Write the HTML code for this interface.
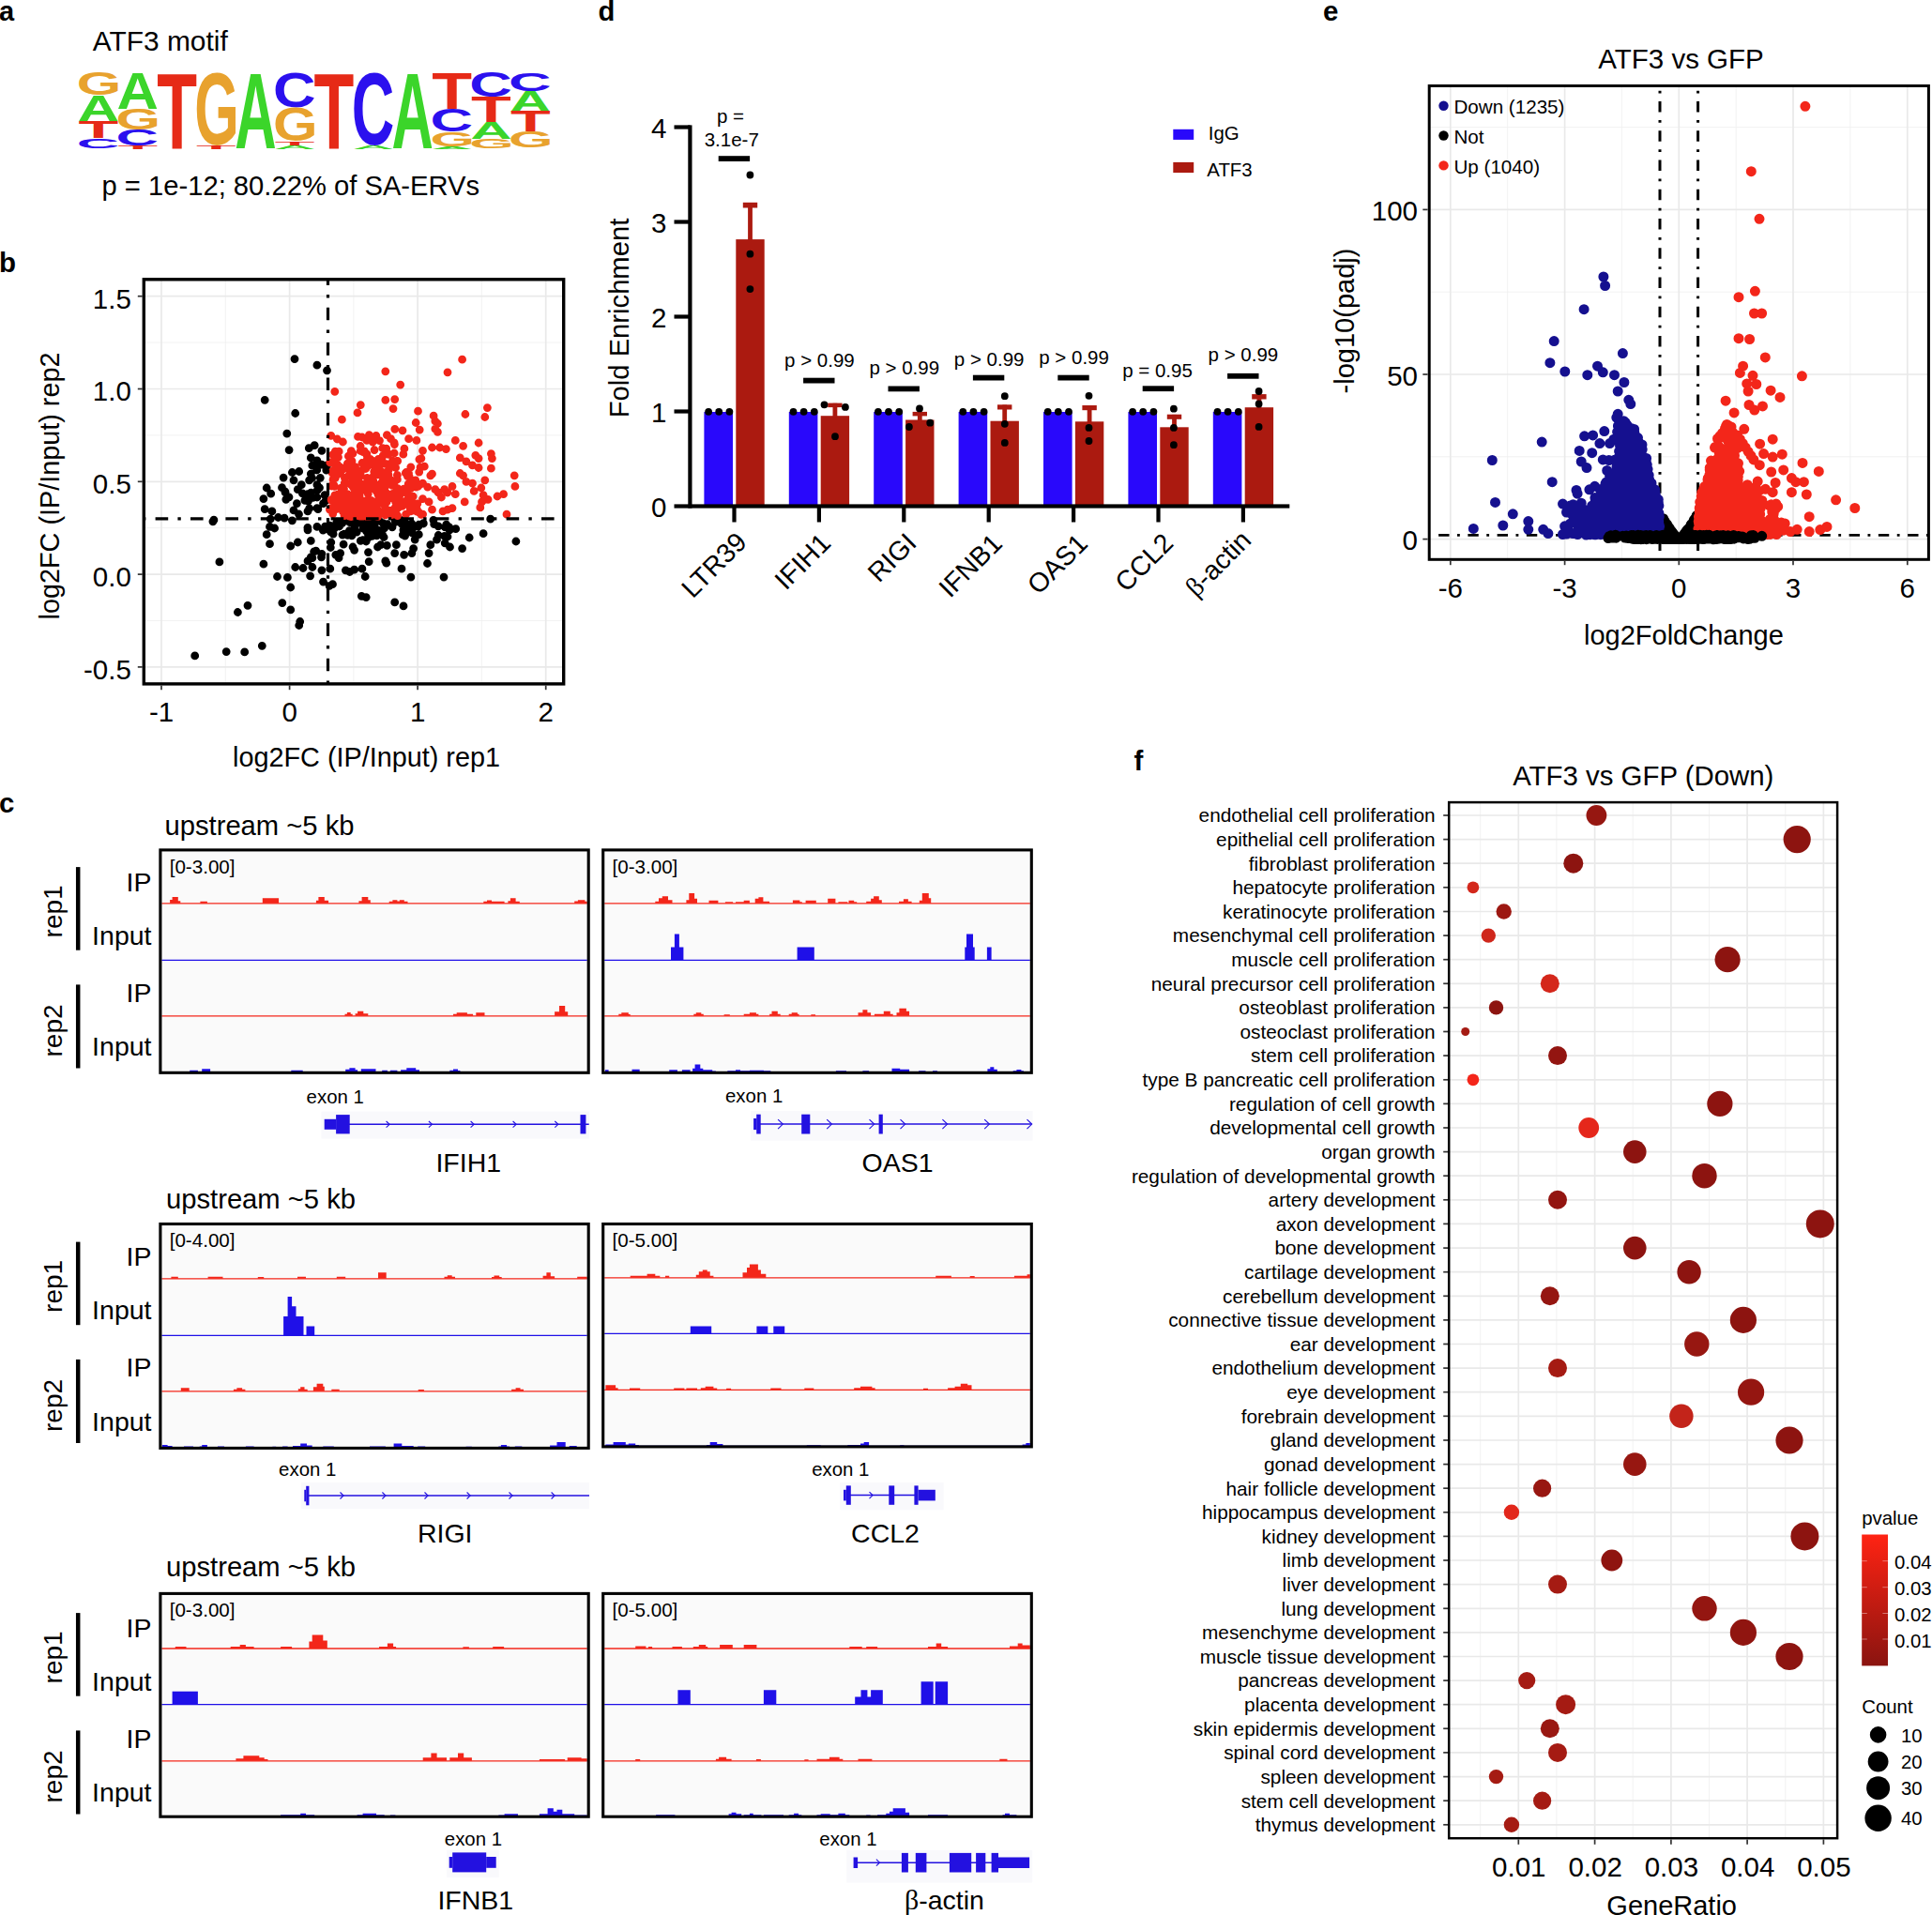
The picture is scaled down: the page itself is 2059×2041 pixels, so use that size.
<!DOCTYPE html>
<html lang="en"><head><meta charset="utf-8"><title>Figure</title>
<style>
html,body{margin:0;padding:0;background:#fff}
svg{display:block}
text{font-family:"Liberation Sans", sans-serif;}
.sf{font-family:"Liberation Serif", serif;}
</style></head><body>
<svg width="2059" height="2041" viewBox="0 0 2059 2041">
<rect width="2059" height="2041" fill="#fff"/>
<g id="panel_a">
<text x="-1" y="22" font-size="29" font-weight="bold">a</text>
<text x="98.8" y="54" font-size="29.9">ATF3 motif</text>
<text x="108.5" y="207.5" font-size="29.2">p = 1e-12; 80.22% of SA-ERVs</text>
<g font-weight="bold" font-size="100">
<text transform="matrix(0.6111 0 0 0.3438 81.8 101.4)" fill="#e8a22e">G</text>
<text transform="matrix(0.6148 0 0 0.3954 82.8 129)" fill="#3bd52a">A</text>
<text transform="matrix(0.7003 0 0 0.2622 83.5 147)" fill="#e62a17">T</text>
<text transform="matrix(0.6307 0 0 0.1496 81.7 157.5)" fill="#2b10ee">C</text>
<text transform="matrix(0.6148 0 0 0.5618 124.6 116.1)" fill="#3bd52a">A</text>
<text transform="matrix(0.6111 0 0 0.3154 123.6 138.1)" fill="#e8a22e">G</text>
<text transform="matrix(0.6307 0 0 0.2305 123.6 154.5)" fill="#2b10ee">C</text>
<text transform="matrix(0.7003 0 0 0.0541 125.4 158.5)" fill="#e62a17">T</text>
<text transform="matrix(0.7003 0 0 1.1445 167.2 157.6)" fill="#e62a17">T</text>
<text transform="matrix(0.6111 0 0 1.0919 207.3 153.7)" fill="#e8a22e">G</text>
<text transform="matrix(0.7003 0 0 0.0541 209.1 158.5)" fill="#e62a17">T</text>
<text transform="matrix(0.6148 0 0 1.1445 250.2 157.6)" fill="#3bd52a">A</text>
<text transform="matrix(0.6307 0 0 0.5257 291 114.1)" fill="#2b10ee">C</text>
<text transform="matrix(0.6111 0 0 0.5055 291 149.9)" fill="#e8a22e">G</text>
<text transform="matrix(0.7003 0 0 0.0583 292.8 154.5)" fill="#e62a17">T</text>
<text transform="matrix(0.6148 0 0 0.0583 292 158.5)" fill="#3bd52a">A</text>
<text transform="matrix(0.7003 0 0 1.1445 334.6 157.6)" fill="#e62a17">T</text>
<text transform="matrix(0.6307 0 0 1.0919 374.7 153.7)" fill="#2b10ee">C</text>
<text transform="matrix(0.6148 0 0 0.0541 375.7 158.5)" fill="#3bd52a">A</text>
<text transform="matrix(0.6148 0 0 1.1445 417.6 157.6)" fill="#3bd52a">A</text>
<text transform="matrix(0.7003 0 0 0.5535 460.2 116.1)" fill="#e62a17">T</text>
<text transform="matrix(0.6307 0 0 0.3438 458.4 140.1)" fill="#2b10ee">C</text>
<text transform="matrix(0.6111 0 0 0.2224 458.4 156)" fill="#e8a22e">G</text>
<text transform="matrix(0.6148 0 0 0.0375 459.4 158.8)" fill="#3bd52a">A</text>
<text transform="matrix(0.6307 0 0 0.3640 500.2 102.8)" fill="#2b10ee">C</text>
<text transform="matrix(0.7003 0 0 0.3954 502 130.4)" fill="#e62a17">T</text>
<text transform="matrix(0.6148 0 0 0.2497 501.3 147.6)" fill="#3bd52a">A</text>
<text transform="matrix(0.6111 0 0 0.1496 500.3 158)" fill="#e8a22e">G</text>
<text transform="matrix(0.6307 0 0 0.2831 542.1 97.2)" fill="#2b10ee">C</text>
<text transform="matrix(0.6148 0 0 0.3121 543.1 119)" fill="#3bd52a">A</text>
<text transform="matrix(0.7003 0 0 0.3121 543.9 140.4)" fill="#e62a17">T</text>
<text transform="matrix(0.6111 0 0 0.2427 542.1 157.4)" fill="#e8a22e">G</text>
</g>
</g>
<g id="panel_b">
<text x="-1" y="290.3" font-size="29.5" font-weight="bold">b</text>
<line x1="240.3" y1="297.8" x2="240.3" y2="728.9" stroke="#f0f0f0" stroke-width="0.9"/>
<line x1="376.9" y1="297.8" x2="376.9" y2="728.9" stroke="#f0f0f0" stroke-width="0.9"/>
<line x1="513.4" y1="297.8" x2="513.4" y2="728.9" stroke="#f0f0f0" stroke-width="0.9"/>
<line x1="153.3" y1="661.5" x2="600.7" y2="661.5" stroke="#f0f0f0" stroke-width="0.9"/>
<line x1="153.3" y1="562.7" x2="600.7" y2="562.7" stroke="#f0f0f0" stroke-width="0.9"/>
<line x1="153.3" y1="463.9" x2="600.7" y2="463.9" stroke="#f0f0f0" stroke-width="0.9"/>
<line x1="153.3" y1="365.1" x2="600.7" y2="365.1" stroke="#f0f0f0" stroke-width="0.9"/>
<line x1="172" y1="297.8" x2="172" y2="728.9" stroke="#e9e9e9" stroke-width="1.7"/>
<line x1="308.6" y1="297.8" x2="308.6" y2="728.9" stroke="#e9e9e9" stroke-width="1.7"/>
<line x1="445.1" y1="297.8" x2="445.1" y2="728.9" stroke="#e9e9e9" stroke-width="1.7"/>
<line x1="581.7" y1="297.8" x2="581.7" y2="728.9" stroke="#e9e9e9" stroke-width="1.7"/>
<line x1="153.3" y1="710.9" x2="600.7" y2="710.9" stroke="#e9e9e9" stroke-width="1.7"/>
<line x1="153.3" y1="612.1" x2="600.7" y2="612.1" stroke="#e9e9e9" stroke-width="1.7"/>
<line x1="153.3" y1="513.3" x2="600.7" y2="513.3" stroke="#e9e9e9" stroke-width="1.7"/>
<line x1="153.3" y1="414.5" x2="600.7" y2="414.5" stroke="#e9e9e9" stroke-width="1.7"/>
<line x1="153.3" y1="315.7" x2="600.7" y2="315.7" stroke="#e9e9e9" stroke-width="1.7"/>
<path d="M314 382.6h0M337.9 389.2h0M348.5 394.8h0M282.2 426.3h0M314.7 440.5h0M305.8 462.1h0M308.1 479.6h0M335.2 474.7h0M342.9 480.3h0M331.3 487.9h0M337.9 490.9h0M342.9 495.2h0M348.5 495.9h0M311.4 503.5h0M318.7 502.5h0M331.3 505.1h0M302.1 509.1h0M313 511.8h0M329.6 511.8h0M347.8 501.2h0M284.2 520h0M321.3 516.7h0M337.9 516.7h0M304.1 525h0M317.3 521.7h0M328 526.7h0M337.9 530h0M280.9 531.6h0M304.8 532.3h0M316.4 536.6h0M344.5 536.6h0M282.2 542.6h0M289.9 544.9h0M313 543.9h0M328 544.9h0M337.9 541.6h0M227.9 554.2h0M226.9 555.8h0M288.2 553.2h0M296.5 551.5h0M303.1 552.2h0M311.4 554.8h0M287.5 561.4h0M328 564.8h0M337.9 561.4h0M284.2 569.7h0M331.3 576.4h0M287.5 579.7h0M309.7 582h0M317.3 578h0M233.9 598.9h0M280.9 601.2h0M295.5 614.5h0M306.4 615.4h0M309.7 626h0M300.8 642.6h0M309.7 649.9h0M264 645.3h0M253.4 652.5h0M319.7 662.5h0M318.7 666.5h0M279.3 688.3h0M260.7 694.9h0M241.2 694.6h0M207.7 698.9h0M549.9 577h0M515.1 568.7h0M522.7 553.2h0M500.2 573h0M492.6 584.6h0M473.7 571.4h0M477 572h0M473 615.1h0M458.8 580.7h0M457.1 589.6h0M455.5 600.5h0M437.9 615.1h0M430 645.9h0M420.7 641.9h0M390.2 636.6h0M385.3 635.3h0M389.2 614.5h0M385.9 606.2h0M377.6 607.2h0M368.4 607.8h0M372.7 609.5h0M354.5 622.7h0M344.5 620.1h0M351.8 606.2h0M332.9 604.5h0M323 605.5h0M314.7 604.5h0M330.6 613.8h0M328 597.9h0M334.6 588h0M342.9 590.3h0M357.8 591.3h0M362.7 589.6h0M361.1 594.6h0M376 583h0M377.6 586.3h0M392.5 588.6h0M393.2 598.6h0M410.8 597.9h0M411.8 600.2h0M420.7 589.6h0M430.6 591.3h0M438.9 589.6h0M440.6 584.6h0M428 606.2h0M402.5 583h0M405.8 580.7h0M412.4 581.3h0M422.4 580.7h0M384.3 576.4h0M390.2 577h0M352.8 578h0M331.3 593.9h0M332.9 594.6h0M342.9 607.8h0M351.1 624.4h0M365 556.3h0M387 557.2h0M401.5 565.1h0M358.8 556.5h0M434.2 559.3h0M446.6 559.2h0M390.2 557.1h0M461.9 554.3h0M361.6 561h0M409.1 572.5h0M387.7 557.5h0M370.6 555h0M393.3 559.5h0M380.2 567.1h0M421.1 554.3h0M439.2 568h0M379 559.2h0M427.1 554.5h0M399.6 569.5h0M408.2 557.7h0M462.7 558.7h0M396.3 567.6h0M446.3 569.7h0M421.4 556.4h0M451.3 557.7h0M418 561.8h0M396.8 556.5h0M428.2 558.5h0M374.9 570.9h0M395.6 567.7h0M440 563h0M392.1 573.5h0M440.1 559.8h0M373.3 555.4h0M399.2 561h0M392.5 558.3h0M407.5 569.7h0M412.8 558.6h0M355.1 569.1h0M479.2 565h0M390.4 566.1h0M356.4 563.1h0M366.2 555.7h0M365 556.8h0M386.8 575.7h0M364.8 557.3h0M385.1 557.5h0M451.3 558h0M399.1 558.1h0M376.7 556.4h0M366.1 580.2h0M364.6 557.7h0M352.3 583.5h0M475.7 559.1h0M387.1 563.1h0M429.3 570h0M372.4 565.7h0M479.5 583h0M425.3 555.7h0M352.5 566.8h0M378.2 554.8h0M467.2 570.5h0M485.7 563.7h0M372.8 556.7h0M370.5 570.4h0M398.7 570.2h0M431.4 567.6h0M478.7 561.9h0M398.5 562.1h0M431.6 571.1h0M465.5 575.2h0M367 569.1h0M365 570.1h0M434.2 564.9h0M474.4 561.9h0M351 564.9h0M474.2 578.8h0M438.8 558h0M371.2 553.9h0M409.6 562.9h0M392.5 570h0M396.5 571.3h0M442.2 575.1h0M404 565.4h0M351.5 560.2h0M431.4 556.3h0M398 556h0M402.6 567.5h0M429.9 564.8h0M377.9 562.4h0M401.5 570.8h0M467.1 560.8h0M401.3 570.5h0M404.2 555.1h0M446 560.8h0M303.8 523.8h0M342.5 593.8h0M328.5 534.1h0M338.2 522.5h0M331.5 525.2h0M341.3 509.3h0M333.5 530.3h0M300.5 519.7h0M318.5 548h0M338 495h0M308 529.8h0M292.6 563h0M332.8 496.2h0M346.1 527.7h0M327.9 562.4h0M346.8 534h0M329.7 541.8h0M344.3 565.1h0M340.5 519.8h0M346.5 561.2h0M329.3 477.7h0M322.4 525.9h0M288.7 526.2h0M337.7 501h0M338.9 542.6h0M336.7 587.1h0M324.9 533.3h0M332.6 509.5h0" stroke="#000" stroke-width="8.8" stroke-linecap="round" fill="none"/>
<path d="M492.6 383.2h0M477 396.8h0M410.8 395.8h0M426.7 410.1h0M356.8 417.3h0M410.8 426.3h0M420.7 425.6h0M384.3 431.6h0M381 439.9h0M419 435.6h0M445.5 438.2h0M364.4 447.2h0M519.4 434.6h0M516.8 444.5h0M495.9 441.5h0M462.1 443.2h0M463.8 448.8h0M466.4 451.5h0M463.8 457.1h0M466.4 460.4h0M443.2 450.5h0M447.2 458.1h0M429 458.8h0M548.2 506.8h0M548.9 518.4h0M540 548.2h0M536.6 526.7h0M530 529h0M523.4 483.6h0M524.4 488.6h0M510.1 472h0M485.3 469.4h0M493.6 475.3h0M352.8 464.4h0M359.4 468h0M365.4 471h0M400.8 464.4h0M412.4 463.7h0M385.9 466h0M390.9 469.4h0M435.6 467.7h0M443.9 469.4h0M460.5 477h0M468.7 477h0M475.4 478.6h0M450.5 480.3h0M448.9 488.6h0M506.8 485.3h0M510.1 488.6h0M490.3 487.9h0M496.9 491.9h0M503.5 495.9h0M510.1 498.5h0M523.4 499.2h0M516.8 511.8h0M512.8 520h0M490.3 504.5h0M493.6 506.8h0M496.9 513.4h0M503.5 515.1h0M505.2 523.4h0M515.1 527.7h0M513.5 534.9h0M520.1 532.3h0M511.8 540.9h0M495.2 534.9h0M477 525h0M482 518.4h0M485.3 526.7h0M473.7 521.7h0M467.1 525h0M470.4 530h0M463.8 521.7h0M460.5 505.1h0M458.8 506.8h0M450.5 515.1h0M445.5 518.4h0M477 543.2h0M482 541.6h0M472 544.9h0M460.5 543.2h0M457.1 534.9h0M450.5 531.6h0M440.6 536.6h0M389.3 546.8h0M390 522.6h0M375.9 539.6h0M380.7 545.2h0M403.3 489.4h0M421.4 540.7h0M368.3 515.2h0M393.4 463.7h0M417.5 548.7h0M375.7 510.1h0M374 549h0M366.2 499.4h0M438.7 544.3h0M408.2 485.7h0M356.2 503.8h0M376.9 545.3h0M356.2 510h0M446.9 489.6h0M390.5 546.5h0M374.9 550.4h0M374.2 550.6h0M400.5 538.1h0M375.2 542.1h0M390.9 483.9h0M408.6 503.7h0M385.3 539h0M416.3 511.7h0M384.5 517.5h0M359 531.6h0M357.3 481.2h0M388.3 480.8h0M368.1 544.7h0M406.2 515h0M401.7 491.4h0M389.8 499.5h0M379.7 540.6h0M381.9 549.6h0M437.8 497.8h0M386.6 545.7h0M375 491.4h0M387.6 550h0M391.3 509.5h0M418.4 526.3h0M358.7 482.6h0M357.8 540.1h0M408.2 522.3h0M401.4 502.6h0M375.6 536.4h0M369 537.6h0M399.5 537.7h0M352.4 541.8h0M379.3 537.6h0M392.4 541.1h0M372.3 550.2h0M391 549.9h0M365.5 542h0M356.5 518.3h0M372.3 546.1h0M355.6 509.3h0M393.6 548.7h0M423.7 491.3h0M361.7 503.9h0M371.4 486.2h0M376.2 546.1h0M372 543.9h0M396.7 509h0M360 527.4h0M402.7 505.8h0M444.9 536.8h0M395.5 533.3h0M354.7 484.6h0M391.6 496.9h0M432.6 548.2h0M410.6 548.8h0M351.8 493h0M372.3 505.5h0M437 540.8h0M435.2 515.9h0M381 525.5h0M410.2 538.9h0M399.6 543.6h0M450.6 548.1h0M399 479.6h0M386.1 547.9h0M381.5 465.4h0M420.5 513.4h0M368.9 526.7h0M405.4 503.7h0M406 525.9h0M411.7 478.1h0M444.4 542.9h0M380.3 507.3h0M387 481.6h0M367 534h0M434.8 527.1h0M376.1 518h0M421.8 547.2h0M413 513.9h0M360.5 487.3h0M397.9 512.9h0M411.1 494.3h0M400 549.3h0M404.3 531.1h0M357.3 509.4h0M366.6 524.3h0M390.7 550.3h0M384.1 475.5h0M430.9 478.2h0M382.7 541.8h0M389.3 538.1h0M387.7 534.8h0M394.1 464.7h0M382.9 531.8h0M353.8 532.3h0M426.7 526.7h0M376.1 518.7h0M421.6 534.7h0M379.9 512h0M401.3 517.8h0M384.9 501.7h0M373.9 529.6h0M353.1 532.7h0M354.7 547.6h0M355 511.2h0M438.7 511.9h0M404.4 494.6h0M377.6 528.9h0M355.8 535h0M398.7 502.7h0M452.3 497.2h0M420.3 528.6h0M367.4 509.5h0M359.8 505.7h0M376.3 499.2h0M403.5 548.3h0M442.8 511.9h0M435 537.9h0M415 545.1h0M414.1 501h0M436.2 533.1h0M365.6 545.4h0M448.8 548.3h0M384.2 480.5h0M403.3 532.6h0M400 499.6h0M383.9 546.8h0M367.6 543.8h0M421.9 524.9h0M389.8 497.6h0M393.6 550.3h0M356.8 527.9h0M358.7 501.4h0M367 549.6h0M411.9 525.5h0M357.6 540.6h0M371.3 533.7h0M401.5 542.7h0M406 534.6h0M396.1 518.9h0M412.1 535h0M430.4 521.2h0M355 501.5h0M385.8 516.2h0M446.7 503.1h0M423.2 491.4h0M373.9 528.1h0M399.1 505.5h0M391.4 497h0M378.1 520.5h0M423.8 520.7h0M377.3 526.4h0M398.4 491.7h0M374.3 542.4h0M406.9 489.2h0M374.9 540.8h0M365.7 534.3h0M402.5 550.7h0M411.6 532.4h0M433.3 520.9h0M437.8 544.9h0M436.1 507.7h0M375.6 504.8h0M381.5 529.8h0M399.3 496.1h0M407.7 477.6h0M363.6 524.7h0M372.1 531.4h0M379.1 504.6h0M382.7 506.4h0M415.9 513.9h0M412.2 543.6h0M415.2 494.9h0M405.5 545.8h0M377.5 548.7h0M420.4 473.6h0M372 542.1h0M432.8 503.5h0M359.6 495.1h0M440.1 514.4h0M432.3 504.2h0M373.5 496h0M385.4 539.8h0M368.4 514.7h0M424.1 541.4h0M391.3 489.5h0M361.2 481.2h0M437.6 520.6h0M378.5 497.6h0M390.1 517.8h0M410 530.6h0M374 534.3h0M362.7 498h0M420.1 471.9h0M391 485.2h0M374 516.3h0M405 501.8h0M388 541.4h0M437.2 541.8h0M376 483.3h0M411.4 480.7h0M433.3 533.7h0M385.9 493.5h0M421.6 498.4h0M370.3 494.2h0M401.3 550.1h0M427 533.6h0M373.1 502.2h0M435.5 504.4h0M440.2 529.1h0M383.5 550.1h0M416.5 467.7h0M413.3 483.1h0M361.9 531h0M392.3 526.3h0M407.1 533.1h0M446.2 545.8h0M407.4 494.2h0M366.5 521.1h0M394.6 489.4h0M400 546.6h0M360.1 527h0M416.4 544.1h0M360.7 529.1h0M363.6 520.1h0M360.1 533.7h0M365 499.1h0M364.2 501.3h0M397 535.7h0M374.3 480.7h0M413.6 528.5h0M367.1 515.2h0M392.7 546.5h0M410.4 523.5h0M393.2 520.1h0M423.4 506.4h0M418.4 491.4h0M351.4 543.1h0M414 506.1h0M387.3 520.1h0M372.3 538.8h0M434.6 521.1h0M399.4 497.3h0M411.2 517.6h0M414.1 484.4h0M429.8 484.2h0M378.1 519.3h0M397.2 471.1h0M394.9 521h0M418.2 516h0M395.3 467.6h0M447.7 516.5h0M353.4 533.4h0M353.3 518h0M443.3 519.1h0M390.6 517.1h0M357.1 499.5h0M428.4 538.8h0M389.4 533.9h0M379.8 520h0M408.2 504.1h0M448 498.2h0M438.6 536.1h0M394.3 517.4h0M376.6 519.6h0M368.9 539h0M434.4 507.6h0M428.7 539.4h0M389.7 534.6h0M353.8 503.6h0M418.1 517.4h0M423.1 524.6h0M407.4 507.8h0M383.5 508h0M358.9 542.5h0M402.9 527.1h0M393.3 518.9h0M420.2 483h0M420.8 457.3h0M417 530.5h0M357.5 489.8h0M364.9 539.9h0M413.5 502.1h0M366.7 545h0M377.4 509.9h0M355.8 516.9h0M364.3 532.6h0M378.2 534.7h0M374.3 536.9h0M402.8 500.6h0M410.3 524.6h0M368 528.1h0M383.2 526.6h0M400.6 547.9h0M423.4 511h0M407.4 520.9h0M401.2 523.6h0M404.5 469.6h0M384.2 505.2h0M360 502.5h0M455.7 519.1h0M444.2 545.2h0M402.9 543.8h0M383.1 528.7h0M402.9 533.8h0M379.2 524.8h0M370.4 526.6h0M385.9 550.2h0M402 538.1h0M368.7 498.4h0M423.7 549.7h0" stroke="#f3261a" stroke-width="8.8" stroke-linecap="round" fill="none"/>
<line x1="349.5" y1="728.9" x2="349.5" y2="297.8" stroke="#000" stroke-width="3.2" stroke-dasharray="3.4 10.2 13.6 10.2"/>
<line x1="152" y1="552.8" x2="600.7" y2="552.8" stroke="#000" stroke-width="3.2" stroke-dasharray="3.4 10.2 13.6 10.2"/>
<rect x="153.3" y="297.8" width="447.4" height="431.1" fill="none" stroke="#000" stroke-width="3.4"/>
<line x1="146.8" y1="710.9" x2="151.8" y2="710.9" stroke="#333" stroke-width="1.7"/>
<text x="139.8" y="723.7" font-size="29.5" text-anchor="end">-0.5</text>
<line x1="146.8" y1="612.1" x2="151.8" y2="612.1" stroke="#333" stroke-width="1.7"/>
<text x="139.8" y="624.9" font-size="29.5" text-anchor="end">0.0</text>
<line x1="146.8" y1="513.3" x2="151.8" y2="513.3" stroke="#333" stroke-width="1.7"/>
<text x="139.8" y="526.1" font-size="29.5" text-anchor="end">0.5</text>
<line x1="146.8" y1="414.5" x2="151.8" y2="414.5" stroke="#333" stroke-width="1.7"/>
<text x="139.8" y="427.3" font-size="29.5" text-anchor="end">1.0</text>
<line x1="146.8" y1="315.7" x2="151.8" y2="315.7" stroke="#333" stroke-width="1.7"/>
<text x="139.8" y="328.5" font-size="29.5" text-anchor="end">1.5</text>
<line x1="172" y1="730.4" x2="172" y2="735.2" stroke="#333" stroke-width="1.7"/>
<text x="172" y="769" font-size="29.5" text-anchor="middle">-1</text>
<line x1="308.6" y1="730.4" x2="308.6" y2="735.2" stroke="#333" stroke-width="1.7"/>
<text x="308.6" y="769" font-size="29.5" text-anchor="middle">0</text>
<line x1="445.1" y1="730.4" x2="445.1" y2="735.2" stroke="#333" stroke-width="1.7"/>
<text x="445.1" y="769" font-size="29.5" text-anchor="middle">1</text>
<line x1="581.7" y1="730.4" x2="581.7" y2="735.2" stroke="#333" stroke-width="1.7"/>
<text x="581.7" y="769" font-size="29.5" text-anchor="middle">2</text>
<text x="390.5" y="817.3" font-size="28.8" text-anchor="middle">log2FC (IP/Input) rep1</text>
<text font-size="28.8" text-anchor="middle" transform="translate(62.8,518) rotate(-90)">log2FC (IP/Input) rep2</text>
</g>
<g id="panel_c">
<text x="-1" y="866" font-size="29.5" font-weight="bold">c</text>
<text x="175.5" y="889.7" font-size="29.2">upstream ~5 kb</text>
<line x1="83.2" y1="924.1" x2="83.2" y2="1012.7" stroke="#000" stroke-width="4.5"/>
<line x1="83.2" y1="1049.4" x2="83.2" y2="1138.5" stroke="#000" stroke-width="4.5"/>
<text font-size="28" text-anchor="middle" transform="translate(66,971.4) rotate(-90)">rep1</text>
<text font-size="28" text-anchor="middle" transform="translate(66,1098.5) rotate(-90)">rep2</text>
<text x="161.5" y="949.6" font-size="28.5" text-anchor="end">IP</text>
<text x="161.5" y="1006.7" font-size="28.5" text-anchor="end">Input</text>
<text x="161.5" y="1067.7" font-size="28.5" text-anchor="end">IP</text>
<text x="161.5" y="1125.2" font-size="28.5" text-anchor="end">Input</text>
<rect x="170.9" y="905.9" width="456.3" height="237.4" fill="#fafafa"/>
<path d="M181.1 962.8V959.1H183.6V962.8zM183.6 962.8V956.1H189.8V962.8zM189.8 962.8V960.3H192.3V962.8zM213.4 962.8V960.8H220.9V962.8zM279.8 962.8V957.3H297.1V962.8zM336.9 962.8V959.8H339.4V962.8zM339.4 962.8V956.1H345.8V962.8zM345.8 962.8V959.8H350.1V962.8zM382.4 962.8V960.3H385.6V962.8zM385.6 962.8V956.1H392.3V962.8zM392.3 962.8V959.3H394.8V962.8zM414.7 962.8V960.8H418.4V962.8zM418.4 962.8V959.3H423.4V962.8zM423.4 962.8V960.6H425.8V962.8zM425.8 962.8V959.3H430.8V962.8zM430.8 962.8V960.8H434.5V962.8zM515.3 962.8V960.8H519V962.8zM519 962.8V959.6H524V962.8zM524 962.8V960.8H537.6V962.8zM541.4 962.8V960.3H543.9V962.8zM543.9 962.8V957.3H549.6V962.8zM549.6 962.8V960.8H553.8V962.8zM612.2 962.8V960.6H615.9V962.8zM615.9 962.8V959.3H623.4V962.8zM623.4 962.8V960.8H625.7V962.8z" fill="#f3261a"/>
<line x1="172.4" y1="962.8" x2="625.7" y2="962.8" stroke="#f3261a" stroke-width="1.3"/>
<line x1="172.4" y1="1023.4" x2="625.7" y2="1023.4" stroke="#1f10e8" stroke-width="1.3"/>
<path d="M367.5 1082.8V1080.8H369.9V1082.8zM369.9 1082.8V1079.1H373.7V1082.8zM373.7 1082.8V1080.8H375.7V1082.8zM378.6 1082.8V1080.3H381.1V1082.8zM381.1 1082.8V1077.8H387.3V1082.8zM387.3 1082.8V1080.3H392.3V1082.8zM483 1082.8V1080.8H486.7V1082.8zM486.7 1082.8V1079.3H497.9V1082.8zM497.9 1082.8V1080.8H504.1V1082.8zM507.3 1082.8V1079.3H516.5V1082.8zM591.1 1082.8V1078.3H596V1082.8zM596 1082.8V1072.1H602.2V1082.8zM602.2 1082.8V1078.3H605.2V1082.8z" fill="#f3261a"/>
<line x1="172.4" y1="1082.8" x2="625.7" y2="1082.8" stroke="#f3261a" stroke-width="1.3"/>
<path d="M202.2 1142.8V1140.8H210.9V1142.8zM215.2 1142.8V1139.3H224.1V1142.8zM310.3 1142.8V1140.8H322.7V1142.8zM368.2 1142.8V1139.8H372.4V1142.8zM372.4 1142.8V1138.3H378.6V1142.8zM378.6 1142.8V1140.3H381.1V1142.8zM384.8 1142.8V1139.3H400.5V1142.8zM407.2 1142.8V1140.8H412.9V1142.8zM415.9 1142.8V1140.8H423.4V1142.8zM427.1 1142.8V1140.3H433.3V1142.8zM433.3 1142.8V1138.3H443.2V1142.8zM443.2 1142.8V1140.3H447V1142.8zM479.3 1142.8V1140.8H483V1142.8zM483 1142.8V1139.6H488V1142.8zM488 1142.8V1141.1H490.4V1142.8z" fill="#1f10e8"/>
<line x1="172.4" y1="1142.8" x2="625.7" y2="1142.8" stroke="#1f10e8" stroke-width="1.3"/>
<rect x="170.9" y="905.9" width="456.3" height="237.4" fill="none" stroke="#000" stroke-width="3.1"/>
<text x="180.7" y="930.5" font-size="20.6">[0-3.00]</text>
<rect x="642.7" y="905.9" width="456.6" height="237.4" fill="#fafafa"/>
<path d="M698.3 962.8V960.8H702V962.8zM702 962.8V957.3H705.8V962.8zM705.8 962.8V955.3H712V962.8zM712 962.8V959.3H716.5V962.8zM731.4 962.8V959.3H734.3V962.8zM734.3 962.8V952.1H740.1V962.8zM740.1 962.8V957.8H743V962.8zM755.5 962.8V959.8H765.4V962.8zM772.9 962.8V961.3H781.1V962.8zM784 962.8V961.3H792.7V962.8zM792.7 962.8V959.8H798.9V962.8zM804.7 962.8V957.8H808.4V962.8zM808.4 962.8V956.3H813.4V962.8zM813.4 962.8V960.8H820.1V962.8zM844.9 962.8V959.6H852.4V962.8zM852.4 962.8V961.3H854.8V962.8zM858.6 962.8V959.8H869.8V962.8zM882.2 962.8V957.8H890.4V962.8zM893.4 962.8V961.3H903.3V962.8zM904.5 962.8V959.8H910.2V962.8zM910.2 962.8V961.3H913.2V962.8zM923.2 962.8V960.8H928.1V962.8zM928.1 962.8V957.8H931.1V962.8zM931.1 962.8V955.3H936.8V962.8zM936.8 962.8V959.3H939.8V962.8zM958 962.8V960.8H962.9V962.8zM962.9 962.8V958.3H967.9V962.8zM967.9 962.8V960.8H971.6V962.8zM979.8 962.8V959.8H982.8V962.8zM982.8 962.8V952.1H989.8V962.8zM989.8 962.8V957.3H992.2V962.8z" fill="#f3261a"/>
<line x1="644.2" y1="962.8" x2="1097.8" y2="962.8" stroke="#f3261a" stroke-width="1.3"/>
<path d="M715 1023.4V1009.5H718.9V1023.4zM718.9 1023.4V995.6H723.9V1023.4zM723.9 1023.4V1009.5H728.4V1023.4zM849.6 1023.4V1009.5H867.8V1023.4zM1028.3 1023.4V1009.5H1030V1023.4zM1030 1023.4V995.6H1037V1023.4zM1037 1023.4V1009.5H1038.7V1023.4zM1051.9 1023.4V1009.5H1056.6V1023.4z" fill="#1f10e8"/>
<line x1="644.2" y1="1023.4" x2="1097.8" y2="1023.4" stroke="#1f10e8" stroke-width="1.3"/>
<path d="M659.3 1082.8V1080.8H662.3V1082.8zM662.3 1082.8V1079.3H669.8V1082.8zM669.8 1082.8V1081.1H671.7V1082.8zM739.3 1082.8V1080.8H741.8V1082.8zM741.8 1082.8V1079.3H747.3V1082.8zM747.3 1082.8V1080.8H749.8V1082.8zM771.6 1082.8V1081.3H777.8V1082.8zM792.7 1082.8V1080.8H798.9V1082.8zM798.9 1082.8V1079.3H805.9V1082.8zM805.9 1082.8V1080.8H808.4V1082.8zM820.1 1082.8V1080.8H822.5V1082.8zM822.5 1082.8V1077.8H828.8V1082.8zM828.8 1082.8V1080.8H831.7V1082.8zM840.7 1082.8V1080.8H843.7V1082.8zM843.7 1082.8V1079.3H849.9V1082.8zM849.9 1082.8V1080.8H851.6V1082.8zM864.3 1082.8V1081.3H869V1082.8zM914.5 1082.8V1079.3H919.4V1082.8zM919.4 1082.8V1076.3H924.4V1082.8zM924.4 1082.8V1079.3H928.1V1082.8zM931.9 1082.8V1080.8H941.8V1082.8zM941.8 1082.8V1077.8H948.8V1082.8zM948.8 1082.8V1080.8H951.7V1082.8zM955.5 1082.8V1079.3H958.4V1082.8zM958.4 1082.8V1074.8H965.9V1082.8zM965.9 1082.8V1077.8H969.1V1082.8z" fill="#f3261a"/>
<line x1="644.2" y1="1082.8" x2="1097.8" y2="1082.8" stroke="#f3261a" stroke-width="1.3"/>
<path d="M644.9 1142.8V1140.3H648.6V1142.8zM673.5 1142.8V1139.8H681.7V1142.8zM713.2 1142.8V1140.3H721.9V1142.8zM726.9 1142.8V1140.3H735.6V1142.8zM738.1 1142.8V1138.8H740.6V1142.8zM740.6 1142.8V1134.4H746.3V1142.8zM746.3 1142.8V1138.8H749.3V1142.8zM749.3 1142.8V1140.3H759.2V1142.8zM759.2 1142.8V1141.6H762.9V1142.8zM775.3 1142.8V1141.3H784V1142.8zM784 1142.8V1140.3H789V1142.8zM789 1142.8V1141.3H798.9V1142.8zM798.9 1142.8V1140.8H813.9V1142.8zM813.9 1142.8V1141.3H821.3V1142.8zM890.9 1142.8V1141.3H902V1142.8zM919.4 1142.8V1141.3H926.1V1142.8zM950.5 1142.8V1138.8H959.2V1142.8zM959.2 1142.8V1139.8H969.1V1142.8zM979.1 1142.8V1141.3H986.5V1142.8zM994 1142.8V1141.3H998.9V1142.8zM1052.4 1142.8V1139.3H1055.3V1142.8zM1055.3 1142.8V1137.3H1059.3V1142.8zM1059.3 1142.8V1139.8H1062.8V1142.8zM1079.7 1142.8V1141.3H1083.4V1142.8zM1083.4 1142.8V1140.1H1088.4V1142.8zM1088.4 1142.8V1141.3H1090.9V1142.8z" fill="#1f10e8"/>
<line x1="644.2" y1="1142.8" x2="1097.8" y2="1142.8" stroke="#1f10e8" stroke-width="1.3"/>
<rect x="642.7" y="905.9" width="456.6" height="237.4" fill="none" stroke="#000" stroke-width="3.1"/>
<text x="652.5" y="930.5" font-size="20.6">[0-3.00]</text>
<rect x="342.4" y="1184.7" width="285.6" height="29" fill="#f9f9fc"/>
<line x1="372" y1="1198.3" x2="627.7" y2="1198.3" stroke="#2311e0" stroke-width="1.5"/>
<path d="M411.6 1195L415.2 1198.3L411.6 1201.6" fill="none" stroke="#2311e0" stroke-width="1.1"/>
<path d="M456.9 1195L460.5 1198.3L456.9 1201.6" fill="none" stroke="#2311e0" stroke-width="1.1"/>
<path d="M501.6 1195L505.2 1198.3L501.6 1201.6" fill="none" stroke="#2311e0" stroke-width="1.1"/>
<path d="M546.6 1195L550.2 1198.3L546.6 1201.6" fill="none" stroke="#2311e0" stroke-width="1.1"/>
<path d="M591.3 1195L594.9 1198.3L591.3 1201.6" fill="none" stroke="#2311e0" stroke-width="1.1"/>
<rect x="358.1" y="1188.1" width="14.6" height="20.3" fill="#2311e0"/>
<rect x="618.5" y="1188.1" width="5.9" height="20.3" fill="#2311e0"/>
<rect x="345.7" y="1192.8" width="12.4" height="11" fill="#2311e0"/>
<text x="326.6" y="1175.6" font-size="20.4">exon 1</text>
<text x="499.3" y="1249" font-size="28.5" text-anchor="middle">IFIH1</text>
<rect x="799.9" y="1184" width="300.7" height="31.7" fill="#f9f9fc"/>
<line x1="810" y1="1198.1" x2="1099.5" y2="1198.1" stroke="#2311e0" stroke-width="1.5"/>
<path d="M829.1 1193.1L834.3 1198.1L829.1 1203.1" fill="none" stroke="#2311e0" stroke-width="1.1"/>
<path d="M881.2 1193.1L886.4 1198.1L881.2 1203.1" fill="none" stroke="#2311e0" stroke-width="1.1"/>
<path d="M926.5 1193.1L931.7 1198.1L926.5 1203.1" fill="none" stroke="#2311e0" stroke-width="1.1"/>
<path d="M959.5 1193.1L964.7 1198.1L959.5 1203.1" fill="none" stroke="#2311e0" stroke-width="1.1"/>
<path d="M1004.4 1193.1L1009.6 1198.1L1004.4 1203.1" fill="none" stroke="#2311e0" stroke-width="1.1"/>
<path d="M1049.2 1193.1L1054.4 1198.1L1049.2 1203.1" fill="none" stroke="#2311e0" stroke-width="1.1"/>
<path d="M1094.5 1193.1L1099.7 1198.1L1094.5 1203.1" fill="none" stroke="#2311e0" stroke-width="1.1"/>
<rect x="806.2" y="1187.7" width="4.5" height="20.8" fill="#2311e0"/>
<rect x="854.2" y="1187.7" width="9.1" height="20.8" fill="#2311e0"/>
<rect x="936.6" y="1187.7" width="4.2" height="20.8" fill="#2311e0"/>
<rect x="803.1" y="1192" width="3.1" height="12.1" fill="#2311e0"/>
<text x="773" y="1175.4" font-size="20.4">exon 1</text>
<text x="956.5" y="1249.2" font-size="28.5" text-anchor="middle">OAS1</text>
<text x="177" y="1287.7" font-size="29.2">upstream ~5 kb</text>
<line x1="83.2" y1="1323.6" x2="83.2" y2="1412.2" stroke="#000" stroke-width="4.5"/>
<line x1="83.2" y1="1448.9" x2="83.2" y2="1538" stroke="#000" stroke-width="4.5"/>
<text font-size="28" text-anchor="middle" transform="translate(66,1370.9) rotate(-90)">rep1</text>
<text font-size="28" text-anchor="middle" transform="translate(66,1498) rotate(-90)">rep2</text>
<text x="161.5" y="1349.1" font-size="28.5" text-anchor="end">IP</text>
<text x="161.5" y="1406.2" font-size="28.5" text-anchor="end">Input</text>
<text x="161.5" y="1467.2" font-size="28.5" text-anchor="end">IP</text>
<text x="161.5" y="1524.7" font-size="28.5" text-anchor="end">Input</text>
<rect x="170.9" y="1304.5" width="456.3" height="238.9" fill="#fafafa"/>
<path d="M182.4 1362.8V1360.8H189.8V1362.8zM221.6 1362.8V1360.8H237.5V1362.8zM274.8 1362.8V1361.1H281.2V1362.8zM317 1362.8V1360.8H326V1362.8zM358.8 1362.8V1360.8H368.2V1362.8zM403 1362.8V1356.3H411.7V1362.8zM473.5 1362.8V1360.8H476.8V1362.8zM476.8 1362.8V1359.3H481.7V1362.8zM481.7 1362.8V1360.8H485V1362.8zM524 1362.8V1361.1H526.5V1362.8zM526.5 1362.8V1359.6H532.2V1362.8zM532.2 1362.8V1361.1H534.7V1362.8zM578.6 1362.8V1359.8H582.4V1362.8zM582.4 1362.8V1356.3H586.8V1362.8zM586.8 1362.8V1360.3H591.1V1362.8zM615.2 1362.8V1360.8H625.7V1362.8z" fill="#f3261a"/>
<line x1="172.4" y1="1362.8" x2="625.7" y2="1362.8" stroke="#f3261a" stroke-width="1.3"/>
<path d="M302.1 1423.4V1403H306.6V1423.4zM306.6 1423.4V1381.9H311.1V1423.4zM311.1 1423.4V1392.3H315.5V1423.4zM315.5 1423.4V1403H323.5V1423.4zM326.5 1423.4V1413.5H335.2V1423.4z" fill="#1f10e8"/>
<line x1="172.4" y1="1423.4" x2="625.7" y2="1423.4" stroke="#1f10e8" stroke-width="1.3"/>
<path d="M192.8 1482.8V1479.3H201.7V1482.8zM248.9 1482.8V1480.8H252.4V1482.8zM252.4 1482.8V1479.3H258.1V1482.8zM258.1 1482.8V1480.8H261.4V1482.8zM317.8 1482.8V1480.3H320.2V1482.8zM320.2 1482.8V1478.3H324.5V1482.8zM324.5 1482.8V1480.8H327.7V1482.8zM333.9 1482.8V1478.3H337.6V1482.8zM337.6 1482.8V1474.8H344.3V1482.8zM344.3 1482.8V1477.8H345.8V1482.8zM353.3 1482.8V1480.8H361.7V1482.8zM445.7 1482.8V1481.1H451.9V1482.8zM545.1 1482.8V1480.8H549.6V1482.8zM549.6 1482.8V1479.3H554.5V1482.8zM554.5 1482.8V1480.8H558V1482.8z" fill="#f3261a"/>
<line x1="172.4" y1="1482.8" x2="625.7" y2="1482.8" stroke="#f3261a" stroke-width="1.3"/>
<path d="M172.9 1542.9V1539.9H178.6V1542.9zM178.6 1542.9V1540.9H183.6V1542.9zM196 1542.9V1541.4H206V1542.9zM212.7 1542.9V1541.4H215.2V1542.9zM215.2 1542.9V1539.9H220.9V1542.9zM232 1542.9V1541.4H239V1542.9zM261.9 1542.9V1541.4H270.6V1542.9zM290.4 1542.9V1541.7H294.2V1542.9zM301.1 1542.9V1541.4H306.6V1542.9zM312 1542.9V1540.9H320.2V1542.9zM320.2 1542.9V1538.4H327V1542.9zM327 1542.9V1540.4H332.7V1542.9zM344.3 1542.9V1541.4H355.8V1542.9zM394 1542.9V1541.4H410.9V1542.9zM419.6 1542.9V1538.4H428.3V1542.9zM428.3 1542.9V1540.9H440.7V1542.9zM445.2 1542.9V1541.4H453.2V1542.9zM496.6 1542.9V1541.7H502.9V1542.9zM531.4 1542.9V1541.4H533.9V1542.9zM533.9 1542.9V1539.9H540.1V1542.9zM540.1 1542.9V1541.4H543.1V1542.9zM548.8 1542.9V1541.4H556.3V1542.9zM586.1 1542.9V1540.4H593.5V1542.9zM593.5 1542.9V1536.9H602.7V1542.9zM606.7 1542.9V1540.9H614.7V1542.9z" fill="#1f10e8"/>
<line x1="172.4" y1="1542.9" x2="625.7" y2="1542.9" stroke="#1f10e8" stroke-width="1.3"/>
<rect x="170.9" y="1304.5" width="456.3" height="238.9" fill="none" stroke="#000" stroke-width="3.1"/>
<text x="180.7" y="1329.1" font-size="20.6">[0-4.00]</text>
<rect x="642.7" y="1304.5" width="456.6" height="237.4" fill="#fafafa"/>
<path d="M671.7 1361.8V1359.8H689.6V1361.8zM689.6 1361.8V1357.8H698.3V1361.8zM698.3 1361.8V1359.8H703.3V1361.8zM709 1361.8V1359.8H713.2V1361.8zM741.8 1361.8V1358.8H744.8V1361.8zM744.8 1361.8V1355.3H748.8V1361.8zM748.8 1361.8V1353.4H753.7V1361.8zM753.7 1361.8V1355.3H756.7V1361.8zM756.7 1361.8V1359.8H760.4V1361.8zM791.5 1361.8V1356.3H796V1361.8zM796 1361.8V1350.9H798.9V1361.8zM798.9 1361.8V1347.4H807.9V1361.8zM807.9 1361.8V1353.4H810.9V1361.8zM810.9 1361.8V1357.8H816.3V1361.8zM997.2 1361.8V1359.8H1013.9V1361.8zM1033.7 1361.8V1360.1H1038.7V1361.8zM1080.9 1361.8V1359.8H1094.6V1361.8zM1094.6 1361.8V1358.3H1097.8V1361.8z" fill="#f3261a"/>
<line x1="644.2" y1="1361.8" x2="1097.8" y2="1361.8" stroke="#f3261a" stroke-width="1.3"/>
<path d="M735.8 1421.4V1413.4H758.2V1421.4zM806.4 1421.4V1413.4H818.3V1421.4zM824.3 1421.4V1413.4H836.2V1421.4z" fill="#1f10e8"/>
<line x1="644.2" y1="1421.4" x2="1097.8" y2="1421.4" stroke="#1f10e8" stroke-width="1.3"/>
<path d="M645.4 1481.3V1476.3H656.1V1481.3zM656.1 1481.3V1479.3H658.6V1481.3zM671 1481.3V1479.6H682.2V1481.3zM718.2 1481.3V1479.6H729.4V1481.3zM731.4 1481.3V1479.6H743V1481.3zM746.8 1481.3V1479.3H751.7V1481.3zM751.7 1481.3V1477.8H760.4V1481.3zM760.4 1481.3V1479.6H764.2V1481.3zM774.1 1481.3V1479.8H779.1V1481.3zM821.3 1481.3V1479.6H832.5V1481.3zM857.3 1481.3V1479.6H867.3V1481.3zM910.2 1481.3V1479.3H917V1481.3zM917 1481.3V1477.8H929.4V1481.3zM929.4 1481.3V1479.3H932.6V1481.3zM984 1481.3V1479.8H989V1481.3zM1010.1 1481.3V1479.3H1017.6V1481.3zM1017.6 1481.3V1477.8H1023.8V1481.3zM1023.8 1481.3V1474.8H1031.2V1481.3zM1031.2 1481.3V1476.3H1035.5V1481.3z" fill="#f3261a"/>
<line x1="644.2" y1="1481.3" x2="1097.8" y2="1481.3" stroke="#f3261a" stroke-width="1.3"/>
<path d="M645.4 1541.4V1539.4H653.6V1541.4zM653.6 1541.4V1536.9H666.8V1541.4zM666.8 1541.4V1539.4H669.8V1541.4zM669.8 1541.4V1538.4H677.2V1541.4zM677.2 1541.4V1539.9H680.9V1541.4zM753 1541.4V1539.9H756.7V1541.4zM756.7 1541.4V1536.9H764.2V1541.4zM764.2 1541.4V1538.9H770.4V1541.4zM859.8 1541.4V1540.2H874.7V1541.4zM903.3 1541.4V1539.9H917V1541.4zM917 1541.4V1538.4H920.7V1541.4zM920.7 1541.4V1536.9H926.1V1541.4zM959.2 1541.4V1540.2H963.4V1541.4zM1089.6 1541.4V1539.4H1093.4V1541.4zM1093.4 1541.4V1537.9H1097.8V1541.4z" fill="#1f10e8"/>
<line x1="644.2" y1="1541.4" x2="1097.8" y2="1541.4" stroke="#1f10e8" stroke-width="1.3"/>
<rect x="642.7" y="1304.5" width="456.6" height="237.4" fill="none" stroke="#000" stroke-width="3.1"/>
<text x="652.5" y="1329.1" font-size="20.6">[0-5.00]</text>
<rect x="321" y="1580" width="307" height="28" fill="#f9f9fc"/>
<line x1="329" y1="1594" x2="628" y2="1594" stroke="#2311e0" stroke-width="1.5"/>
<path d="M362.5 1590.5L366.1 1594L362.5 1597.5" fill="none" stroke="#2311e0" stroke-width="1.1"/>
<path d="M407.4 1590.5L411 1594L407.4 1597.5" fill="none" stroke="#2311e0" stroke-width="1.1"/>
<path d="M452.5 1590.5L456.1 1594L452.5 1597.5" fill="none" stroke="#2311e0" stroke-width="1.1"/>
<path d="M497.6 1590.5L501.2 1594L497.6 1597.5" fill="none" stroke="#2311e0" stroke-width="1.1"/>
<path d="M542.5 1590.5L546.1 1594L542.5 1597.5" fill="none" stroke="#2311e0" stroke-width="1.1"/>
<path d="M587.6 1590.5L591.2 1594L587.6 1597.5" fill="none" stroke="#2311e0" stroke-width="1.1"/>
<rect x="326.2" y="1583.8" width="3.2" height="20.5" fill="#2311e0"/>
<rect x="324.3" y="1587.8" width="1.9" height="12.5" fill="#2311e0"/>
<text x="297.1" y="1573" font-size="20.4">exon 1</text>
<text x="474.2" y="1643.8" font-size="28.5" text-anchor="middle">RIGI</text>
<rect x="895.2" y="1579.9" width="110.4" height="29.4" fill="#f9f9fc"/>
<line x1="906" y1="1593.6" x2="975" y2="1593.6" stroke="#2311e0" stroke-width="1.5"/>
<path d="M926.5 1590.1L930.1 1593.6L926.5 1597.1" fill="none" stroke="#2311e0" stroke-width="1.1"/>
<rect x="901.8" y="1583.4" width="5" height="20.4" fill="#2311e0"/>
<rect x="947.3" y="1583.4" width="5.9" height="20.4" fill="#2311e0"/>
<rect x="974.4" y="1583.4" width="4.2" height="20.4" fill="#2311e0"/>
<rect x="899" y="1587.8" width="2.8" height="11.6" fill="#2311e0"/>
<rect x="978.6" y="1587.8" width="18.2" height="11.6" fill="#2311e0"/>
<text x="865.2" y="1573" font-size="20.4">exon 1</text>
<text x="943.5" y="1644" font-size="28.5" text-anchor="middle">CCL2</text>
<text x="177" y="1680.3" font-size="29.2">upstream ~5 kb</text>
<line x1="83.2" y1="1719.1" x2="83.2" y2="1807.7" stroke="#000" stroke-width="4.5"/>
<line x1="83.2" y1="1844.4" x2="83.2" y2="1933.5" stroke="#000" stroke-width="4.5"/>
<text font-size="28" text-anchor="middle" transform="translate(66,1766.4) rotate(-90)">rep1</text>
<text font-size="28" text-anchor="middle" transform="translate(66,1893.5) rotate(-90)">rep2</text>
<text x="161.5" y="1744.6" font-size="28.5" text-anchor="end">IP</text>
<text x="161.5" y="1801.7" font-size="28.5" text-anchor="end">Input</text>
<text x="161.5" y="1862.7" font-size="28.5" text-anchor="end">IP</text>
<text x="161.5" y="1920.2" font-size="28.5" text-anchor="end">Input</text>
<rect x="170.9" y="1698.4" width="456.3" height="237.8" fill="#fafafa"/>
<path d="M186.8 1757V1755H198.5V1757zM245.7 1757V1755H255.7V1757zM255.7 1757V1753H261.9V1757zM261.9 1757V1755H270.6V1757zM299.1 1757V1755H311.1V1757zM329.4 1757V1749.5H332.7V1757zM332.7 1757V1742.6H344.3V1757zM344.3 1757V1748.6H348.8V1757zM404 1757V1755H412.9V1757zM412.9 1757V1751.5H419.1V1757zM419.1 1757V1755H422.1V1757zM493.4 1757V1755.3H499.9V1757zM525.2 1757V1755H537.1V1757z" fill="#f3261a"/>
<line x1="172.4" y1="1757" x2="625.7" y2="1757" stroke="#f3261a" stroke-width="1.3"/>
<path d="M183.6 1816.6V1802.7H210.9V1816.6z" fill="#1f10e8"/>
<line x1="172.4" y1="1816.6" x2="625.7" y2="1816.6" stroke="#1f10e8" stroke-width="1.3"/>
<path d="M251.4 1876.8V1874.3H259.4V1876.8zM259.4 1876.8V1871.3H276.3V1876.8zM276.3 1876.8V1873.3H281.7V1876.8zM281.7 1876.8V1875.1H285.5V1876.8zM450.7 1876.8V1873.3H459.4V1876.8zM459.4 1876.8V1868.4H465.6V1876.8zM465.6 1876.8V1873.3H476V1876.8zM479.3 1876.8V1873.3H488V1876.8zM488 1876.8V1868.4H494.2V1876.8zM494.2 1876.8V1873.3H502.9V1876.8zM574.9 1876.8V1875.1H602.2V1876.8zM604.7 1876.8V1873.3H619.6V1876.8zM619.6 1876.8V1874.3H625.7V1876.8z" fill="#f3261a"/>
<line x1="172.4" y1="1876.8" x2="625.7" y2="1876.8" stroke="#f3261a" stroke-width="1.3"/>
<path d="M299.1 1935.7V1934.2H320.2V1935.7zM320.2 1935.7V1932.7H326V1935.7zM326 1935.7V1934.2H335.2V1935.7zM380.6 1935.7V1934.2H386.6V1935.7zM386.6 1935.7V1932.7H401V1935.7zM401 1935.7V1934.2H409.7V1935.7zM415.9 1935.7V1934.5H421.4V1935.7zM531.4 1935.7V1934.5H537.6V1935.7zM537.6 1935.7V1933.2H552V1935.7zM574.9 1935.7V1933.2H583.6V1935.7zM583.6 1935.7V1927.3H589.8V1935.7zM589.8 1935.7V1930.7H593.5V1935.7zM593.5 1935.7V1928.7H599.3V1935.7zM599.3 1935.7V1933.2H612.2V1935.7zM612.2 1935.7V1934.5H625.7V1935.7z" fill="#1f10e8"/>
<line x1="172.4" y1="1935.7" x2="625.7" y2="1935.7" stroke="#1f10e8" stroke-width="1.3"/>
<rect x="170.9" y="1698.4" width="456.3" height="237.8" fill="none" stroke="#000" stroke-width="3.1"/>
<text x="180.7" y="1723" font-size="20.6">[0-3.00]</text>
<rect x="642.7" y="1698.4" width="456.6" height="237.8" fill="#fafafa"/>
<path d="M677.2 1757V1754.5H688.4V1757zM690.9 1757V1755H695.1V1757zM716.5 1757V1755H726.9V1757zM738.8 1757V1755H744.8V1757zM744.8 1757V1753H752.2V1757zM752.2 1757V1755H754.2V1757zM767.1 1757V1753H780.8V1757zM792.7 1757V1753H806.4V1757zM905.3 1757V1755H918.7V1757zM923.2 1757V1755H935.1V1757zM989 1757V1755H997.7V1757zM997.7 1757V1751.5H1003.2V1757zM1003.2 1757V1755H1010.1V1757zM1076 1757V1754.5H1084.7V1757zM1084.7 1757V1751.5H1089.6V1757zM1089.6 1757V1753.5H1097.8V1757z" fill="#f3261a"/>
<line x1="644.2" y1="1757" x2="1097.8" y2="1757" stroke="#f3261a" stroke-width="1.3"/>
<path d="M722.4 1816.6V1801.2H735.8V1816.6zM813.9 1816.6V1801.2H827.3V1816.6zM911.2 1816.6V1808.6H917.5V1816.6zM917.5 1816.6V1801.2H924.4V1816.6zM924.4 1816.6V1808.6H928.1V1816.6zM928.1 1816.6V1801.2H940.8V1816.6zM981.6 1816.6V1792.3H994.7V1816.6zM996.7 1816.6V1792.3H1010.1V1816.6z" fill="#1f10e8"/>
<line x1="644.2" y1="1816.6" x2="1097.8" y2="1816.6" stroke="#1f10e8" stroke-width="1.3"/>
<path d="M677.2 1876.8V1875.1H682.2V1876.8zM762.9 1876.8V1874.8H766.1V1876.8zM766.1 1876.8V1872.8H774.1V1876.8zM774.1 1876.8V1874.8H779.6V1876.8zM805.9 1876.8V1875.1H810.9V1876.8zM857.3 1876.8V1875.3H861.6V1876.8zM870.5 1876.8V1874.8H883.9V1876.8zM883.9 1876.8V1872.8H894.6V1876.8zM894.6 1876.8V1874.8H898.3V1876.8zM914.5 1876.8V1874.8H929.4V1876.8zM1065.3 1876.8V1874.8H1073.5V1876.8z" fill="#f3261a"/>
<line x1="644.2" y1="1876.8" x2="1097.8" y2="1876.8" stroke="#f3261a" stroke-width="1.3"/>
<path d="M699.1 1935.7V1934.2H719.4V1935.7zM776.6 1935.7V1933.2H779.6V1935.7zM779.6 1935.7V1931.7H784.5V1935.7zM784.5 1935.7V1933.2H790.2V1935.7zM792.7 1935.7V1934.2H798.9V1935.7zM798.9 1935.7V1932.7H802.7V1935.7zM802.7 1935.7V1934.2H811.4V1935.7zM813.9 1935.7V1934.2H835V1935.7zM840.7 1935.7V1934.2H846.1V1935.7zM846.1 1935.7V1932.7H851.1V1935.7zM851.1 1935.7V1934.2H854.3V1935.7zM870.5 1935.7V1934.2H874.7V1935.7zM874.7 1935.7V1933.2H884.7V1935.7zM884.7 1935.7V1934.2H893.4V1935.7zM893.4 1935.7V1932.7H900.8V1935.7zM900.8 1935.7V1934.2H905.3V1935.7zM923.2 1935.7V1934.5H927.6V1935.7zM935.1 1935.7V1934.2H944.3V1935.7zM944.3 1935.7V1932.7H948V1935.7zM948 1935.7V1930.7H951.7V1935.7zM951.7 1935.7V1927.3H964.9V1935.7zM964.9 1935.7V1931.7H969.1V1935.7zM989 1935.7V1934.2H1010.1V1935.7zM1068.5 1935.7V1934.2H1071V1935.7zM1071 1935.7V1932.7H1076V1935.7zM1076 1935.7V1934.2H1083.4V1935.7z" fill="#1f10e8"/>
<line x1="644.2" y1="1935.7" x2="1097.8" y2="1935.7" stroke="#1f10e8" stroke-width="1.3"/>
<rect x="642.7" y="1698.4" width="456.6" height="237.8" fill="none" stroke="#000" stroke-width="3.1"/>
<text x="652.5" y="1723" font-size="20.6">[0-5.00]</text>
<rect x="475.9" y="1971.6" width="55.9" height="29.4" fill="#f9f9fc"/>
<rect x="482.2" y="1974.4" width="36" height="21" fill="#2311e0"/>
<rect x="478.7" y="1979" width="3.5" height="11.8" fill="#2311e0"/>
<rect x="518.2" y="1979" width="10.5" height="11.8" fill="#2311e0"/>
<text x="473.8" y="1967.3" font-size="20.4">exon 1</text>
<text x="506.8" y="2034.5" font-size="28.5" text-anchor="middle">IFNB1</text>
<rect x="902.2" y="1972" width="198" height="34.6" fill="#f9f9fc"/>
<line x1="914" y1="1985.2" x2="1064" y2="1985.2" stroke="#2311e0" stroke-width="1.5"/>
<path d="M933.9 1981.7L937.5 1985.2L933.9 1988.7" fill="none" stroke="#2311e0" stroke-width="1.1"/>
<rect x="960.9" y="1974.9" width="7" height="20.6" fill="#2311e0"/>
<rect x="975.8" y="1974.9" width="11.6" height="20.6" fill="#2311e0"/>
<rect x="1011.9" y="1974.9" width="23.3" height="20.6" fill="#2311e0"/>
<rect x="1040.1" y="1974.9" width="10.2" height="20.6" fill="#2311e0"/>
<rect x="1056.6" y="1974.9" width="7.4" height="20.6" fill="#2311e0"/>
<rect x="909.6" y="1979.5" width="4.5" height="11.5" fill="#2311e0"/>
<rect x="1064" y="1979.5" width="33.1" height="11.5" fill="#2311e0"/>
<text x="873.3" y="1967.3" font-size="20.4">exon 1</text>
<text x="964" y="2034.5" font-size="28.5"><tspan class="sf" font-size="30">β</tspan>-actin</text>
</g>
<g id="panel_d">
<text x="637.5" y="22.4" font-size="29.2" font-weight="bold">d</text>
<rect x="750.4" y="439" width="30.6" height="100.5" fill="#2908fb"/>
<rect x="784.3" y="255.1" width="30.4" height="284.4" fill="#ab1a10"/>
<rect x="797.1" y="216" width="4.8" height="40.1" fill="#ab1a10"/>
<rect x="791.8" y="215.8" width="15.4" height="5.7" fill="#ab1a10"/>
<rect x="765.7" y="166.2" width="33.4" height="5.8" fill="#000"/>
<rect x="780.4" y="539.5" width="4.2" height="17" fill="#000"/>
<text font-size="28.6" text-anchor="end" transform="translate(797.5,579.5) rotate(-45)">LTR39</text>
<rect x="840.8" y="439" width="30.6" height="100.5" fill="#2908fb"/>
<rect x="874.7" y="443.2" width="30.4" height="96.3" fill="#ab1a10"/>
<rect x="887.5" y="429.8" width="4.8" height="14.4" fill="#ab1a10"/>
<rect x="882.2" y="429.6" width="15.4" height="4.5" fill="#ab1a10"/>
<rect x="856.1" y="402.7" width="33.4" height="5.8" fill="#000"/>
<text x="873.4" y="390.5" font-size="20.5" text-anchor="middle">p &gt; 0.99</text>
<rect x="870.8" y="539.5" width="4.2" height="17" fill="#000"/>
<text font-size="28.6" text-anchor="end" transform="translate(886.9,580.5) rotate(-45)">IFIH1</text>
<rect x="931.2" y="439" width="30.6" height="100.5" fill="#2908fb"/>
<rect x="965.1" y="447.5" width="30.4" height="92" fill="#ab1a10"/>
<rect x="977.9" y="439.1" width="4.8" height="9.4" fill="#ab1a10"/>
<rect x="972.6" y="438.9" width="15.4" height="4.5" fill="#ab1a10"/>
<rect x="946.5" y="411.5" width="33.4" height="5.8" fill="#000"/>
<text x="963.8" y="398.9" font-size="20.5" text-anchor="middle">p &gt; 0.99</text>
<rect x="961.2" y="539.5" width="4.2" height="17" fill="#000"/>
<text font-size="28.6" text-anchor="end" transform="translate(978.3,580.5) rotate(-45)">RIGI</text>
<rect x="1021.6" y="439" width="30.6" height="100.5" fill="#2908fb"/>
<rect x="1055.5" y="448.7" width="30.4" height="90.8" fill="#ab1a10"/>
<rect x="1068.3" y="431.5" width="4.8" height="18.2" fill="#ab1a10"/>
<rect x="1063" y="431.3" width="15.4" height="5.2" fill="#ab1a10"/>
<rect x="1036.9" y="399.7" width="33.4" height="5.8" fill="#000"/>
<text x="1054.2" y="389.7" font-size="20.5" text-anchor="middle">p &gt; 0.99</text>
<rect x="1051.6" y="539.5" width="4.2" height="17" fill="#000"/>
<text font-size="28.6" text-anchor="end" transform="translate(1069.7,581) rotate(-45)">IFNB1</text>
<rect x="1112" y="439" width="30.6" height="100.5" fill="#2908fb"/>
<rect x="1145.9" y="449.3" width="30.4" height="90.2" fill="#ab1a10"/>
<rect x="1158.7" y="432.2" width="4.8" height="18.1" fill="#ab1a10"/>
<rect x="1153.4" y="432" width="15.4" height="5.2" fill="#ab1a10"/>
<rect x="1127.3" y="399.7" width="33.4" height="5.8" fill="#000"/>
<text x="1144.6" y="388" font-size="20.5" text-anchor="middle">p &gt; 0.99</text>
<rect x="1142" y="539.5" width="4.2" height="17" fill="#000"/>
<text font-size="28.6" text-anchor="end" transform="translate(1160.8,581) rotate(-45)">OAS1</text>
<rect x="1202.4" y="439" width="30.6" height="100.5" fill="#2908fb"/>
<rect x="1236.3" y="455.3" width="30.4" height="84.2" fill="#ab1a10"/>
<rect x="1249.1" y="441.9" width="4.8" height="14.4" fill="#ab1a10"/>
<rect x="1243.8" y="441.7" width="15.4" height="5.1" fill="#ab1a10"/>
<rect x="1217.7" y="411.3" width="33.4" height="5.8" fill="#000"/>
<text x="1233.5" y="402.1" font-size="20.5" text-anchor="middle">p = 0.95</text>
<rect x="1232.4" y="539.5" width="4.2" height="17" fill="#000"/>
<text font-size="28.6" text-anchor="end" transform="translate(1252,580.5) rotate(-45)">CCL2</text>
<rect x="1292.8" y="439" width="30.6" height="100.5" fill="#2908fb"/>
<rect x="1326.7" y="434.2" width="30.4" height="105.3" fill="#ab1a10"/>
<rect x="1339.5" y="420.3" width="4.8" height="14.9" fill="#ab1a10"/>
<rect x="1334.2" y="420.1" width="15.4" height="5.4" fill="#ab1a10"/>
<rect x="1308.1" y="397.9" width="33.4" height="5.8" fill="#000"/>
<text x="1324.9" y="384.5" font-size="20.5" text-anchor="middle">p &gt; 0.99</text>
<rect x="1322.8" y="539.5" width="4.2" height="17" fill="#000"/>
<text font-size="28.6" text-anchor="end" transform="translate(1334.9,577.5) rotate(-45)"><tspan class="sf" font-size="29">β</tspan>-actin</text>
<text x="778.5" y="130.8" font-size="20.5" text-anchor="middle">p =</text>
<text x="779.8" y="155.5" font-size="20.5" text-anchor="middle">3.1e-7</text>
<path d="M755.1 438.8h0M766.2 438.8h0M777.4 438.8h0M799.4 186.5h0M799.4 270.7h0M799.4 308.1h0M845.5 438.8h0M856.6 438.8h0M867.8 438.8h0M878.5 431.3h0M900.9 433.9h0M890 465.2h0M935.9 438.8h0M947 438.8h0M958.2 438.8h0M980 435.4h0M968.9 455h0M991.2 450.7h0M1026.3 438.8h0M1037.4 438.8h0M1048.6 438.8h0M1070.8 422.2h0M1070.8 451.8h0M1070.8 471.9h0M1116.7 438.8h0M1127.8 438.8h0M1139 438.8h0M1160.5 421.8h0M1160.5 455.9h0M1160.5 470h0M1207.1 438.8h0M1218.2 438.8h0M1229.4 438.8h0M1250.9 435.7h0M1250.9 455.9h0M1250.9 474.2h0M1297.5 438.8h0M1308.6 438.8h0M1319.8 438.8h0M1341.6 417h0M1341.6 430.5h0M1341.6 454.9h0" stroke="#000" stroke-width="7.8" stroke-linecap="round" fill="none"/>
<rect x="733.3" y="133.4" width="4.2" height="408.2" fill="#000"/>
<rect x="718.5" y="537.4" width="655.8" height="4.2" fill="#000"/>
<rect x="718.5" y="436.4" width="16.9" height="4.2" fill="#000"/>
<rect x="718.5" y="335.4" width="16.9" height="4.2" fill="#000"/>
<rect x="718.5" y="234.4" width="16.9" height="4.2" fill="#000"/>
<rect x="718.5" y="133.4" width="16.9" height="4.2" fill="#000"/>
<text x="710.5" y="551" font-size="29.5" text-anchor="end">0</text>
<text x="710.5" y="450" font-size="29.5" text-anchor="end">1</text>
<text x="710.5" y="349" font-size="29.5" text-anchor="end">2</text>
<text x="710.5" y="248" font-size="29.5" text-anchor="end">3</text>
<text x="710.5" y="147" font-size="29.5" text-anchor="end">4</text>
<text font-size="29.2" text-anchor="middle" transform="translate(670.1,339) rotate(-90)">Fold Enrichment</text>
<rect x="1250.3" y="137.8" width="21.9" height="11.1" fill="#2908fb"/>
<rect x="1250.3" y="172.9" width="21.9" height="11.2" fill="#ab1a10"/>
<text x="1287.8" y="148.9" font-size="20.4">IgG</text>
<text x="1286.3" y="188.1" font-size="20.4">ATF3</text>
</g>
<g id="panel_e">
<text x="1410" y="22.3" font-size="29.5" font-weight="bold">e</text>
<text x="1791.5" y="73.3" font-size="29.5" text-anchor="middle">ATF3 vs GFP</text>
<clipPath id="ce"><rect x="1523.2" y="91.5" width="532.2" height="504.8"/></clipPath>
<line x1="1606.7" y1="91.5" x2="1606.7" y2="596.3" stroke="#f0f0f0" stroke-width="0.9"/>
<line x1="1728.4" y1="91.5" x2="1728.4" y2="596.3" stroke="#f0f0f0" stroke-width="0.9"/>
<line x1="1850.2" y1="91.5" x2="1850.2" y2="596.3" stroke="#f0f0f0" stroke-width="0.9"/>
<line x1="1971.9" y1="91.5" x2="1971.9" y2="596.3" stroke="#f0f0f0" stroke-width="0.9"/>
<line x1="1523.2" y1="486.8" x2="2055.4" y2="486.8" stroke="#f0f0f0" stroke-width="0.9"/>
<line x1="1523.2" y1="311.2" x2="2055.4" y2="311.2" stroke="#f0f0f0" stroke-width="0.9"/>
<line x1="1523.2" y1="135.6" x2="2055.4" y2="135.6" stroke="#f0f0f0" stroke-width="0.9"/>
<line x1="1545.8" y1="91.5" x2="1545.8" y2="596.3" stroke="#e9e9e9" stroke-width="1.7"/>
<line x1="1667.6" y1="91.5" x2="1667.6" y2="596.3" stroke="#e9e9e9" stroke-width="1.7"/>
<line x1="1789.3" y1="91.5" x2="1789.3" y2="596.3" stroke="#e9e9e9" stroke-width="1.7"/>
<line x1="1911" y1="91.5" x2="1911" y2="596.3" stroke="#e9e9e9" stroke-width="1.7"/>
<line x1="2032.8" y1="91.5" x2="2032.8" y2="596.3" stroke="#e9e9e9" stroke-width="1.7"/>
<line x1="1523.2" y1="574.6" x2="2055.4" y2="574.6" stroke="#e9e9e9" stroke-width="1.7"/>
<line x1="1523.2" y1="399" x2="2055.4" y2="399" stroke="#e9e9e9" stroke-width="1.7"/>
<line x1="1523.2" y1="223.4" x2="2055.4" y2="223.4" stroke="#e9e9e9" stroke-width="1.7"/>
<g clip-path="url(#ce)">
<line x1="1769" y1="96.7" x2="1769" y2="586.9" stroke="#000" stroke-width="3" stroke-dasharray="2.85 8.5 11.4 8.5"/>
<line x1="1809.6" y1="96.7" x2="1809.6" y2="586.9" stroke="#000" stroke-width="3" stroke-dasharray="2.85 8.5 11.4 8.5"/>
<line x1="1533.1" y1="570.3" x2="2055.4" y2="570.3" stroke="#000" stroke-width="2.8" stroke-dasharray="11.4 8.5 2.85 8.5"/>
<path d="M1775.9 558.3h0M1782.4 568.7h0M1774.4 565.3h0M1782.3 570.5h0M1776.8 574.4h0M1774.2 562.4h0M1783.6 571.7h0M1776.2 572.1h0M1784.7 571.5h0M1773.2 571.1h0M1778.2 571.5h0M1772.2 556.6h0M1783 572.9h0M1775.3 567.8h0M1777.5 564.2h0M1779.5 570.3h0M1780.1 568.7h0M1786.2 572.2h0M1786.7 574h0M1773.1 569.1h0M1780.7 569.9h0M1780.6 566.3h0M1785.8 573.1h0M1779 567.8h0M1772.4 571.5h0M1777 573h0M1777.1 563.7h0M1785.6 572.2h0M1780 565.5h0M1770.5 569.3h0M1782.1 570.5h0M1780.6 570.3h0M1780 573.5h0M1774.3 571.6h0M1781.4 574.4h0M1770.7 568.2h0M1772.5 555h0M1772.1 569.6h0M1775.8 562.9h0M1772.3 555h0M1782.9 574.4h0M1786.2 572.8h0M1779.6 567h0M1777.2 572.4h0M1770.7 557h0M1782.2 570.1h0M1778.4 562h0M1781.6 572h0M1786.5 572.3h0M1777.6 561.3h0M1778 566.7h0M1771.6 552.4h0M1779.8 570.8h0M1783.9 573.3h0M1772.7 561.6h0M1772.7 574.3h0M1781.7 574.3h0M1781.4 571.8h0M1781.4 566.1h0M1777.2 563.4h0M1770.8 570.5h0M1786.6 572.9h0M1773 566.8h0M1781.6 573.2h0M1777.8 568.7h0M1777.7 574h0M1773.9 557.4h0M1775.8 571.3h0M1785.1 573.3h0M1777.9 565.5h0M1773.1 571.4h0M1781.3 567.6h0M1785.5 573.4h0M1783.8 572.9h0M1781.2 566.9h0M1780.9 569.3h0M1783.1 573.8h0M1770.9 562.1h0M1774.3 561h0M1779.3 565.6h0M1784.1 571.1h0M1785.6 572.2h0M1770.4 554.2h0M1772.6 559.4h0M1774.5 570.8h0M1779.2 569.8h0M1771 554.8h0M1778.3 573.4h0M1772.4 560.1h0M1781.4 570.5h0M1786 574.3h0M1778 568.6h0M1774.1 562.8h0M1786.7 572.7h0M1779.3 564.6h0M1773.7 568.1h0M1780 573.6h0M1780.4 573.3h0M1785.3 572.3h0M1783.5 571.9h0M1774.9 558.5h0M1773.7 567.6h0M1772.5 558.7h0M1773.3 564.4h0M1777 563.2h0M1777.3 563h0M1783.8 571h0M1776.1 572.4h0M1774.4 557.8h0M1770.3 552.8h0M1785.9 574.5h0M1775.1 561.5h0M1783.2 571.2h0M1772.1 554.8h0M1770.7 567.8h0M1786.4 572.4h0M1772.8 557.4h0M1779.8 572.1h0M1775.4 566.2h0M1781.2 573.6h0M1773.1 556.6h0M1775.8 558.2h0M1781.1 566.3h0M1773.7 557.5h0M1772.7 555.9h0M1776.6 561.3h0M1777.3 560.5h0M1778.2 562.9h0M1778.5 563h0M1777.3 561.7h0M1772.6 552.7h0M1780.7 565.5h0M1780.9 565.7h0M1778.8 563.6h0M1782.1 567.7h0M1772.4 552.8h0M1779.2 562.9h0M1776.6 558.9h0M1775.9 558.4h0M1781.5 566.3h0M1774 556.2h0M1780.3 565.1h0M1782.6 567.7h0M1782.4 567.7h0M1771.2 553h0M1774.6 558.1h0M1772.2 553h0M1780.4 564.9h0M1774.1 555.3h0M1778.2 561.7h0M1783 569h0M1773.3 555.7h0M1772.4 554.9h0M1784.3 570.1h0M1777.8 562.3h0M1773.7 557.3h0M1782.7 568.1h0M1781.4 566.2h0M1778.5 562.3h0M1783.9 569.6h0M1794.7 574h0M1800 563h0M1792.3 572.5h0M1799.5 569.7h0M1807.8 571h0M1800.6 566.1h0M1807.3 554.9h0M1796.9 572.5h0M1805.4 554.1h0M1802.5 567.2h0M1794.2 571.3h0M1795.5 569.9h0M1796.3 571.2h0M1795.3 572.7h0M1793.4 571.9h0M1808 560.7h0M1802.8 574.3h0M1794.5 570.9h0M1806.1 560.1h0M1803.6 569.2h0M1802.1 559.3h0M1796.6 569.5h0M1797.1 567.1h0M1801.3 565.2h0M1808.3 568.3h0M1802.1 564.3h0M1806.1 555h0M1806.3 553.4h0M1792.3 572.4h0M1793.9 570.6h0M1806 565.4h0M1802.7 564.9h0M1807.7 566.2h0M1805.4 565.6h0M1804.9 571.5h0M1800.5 569.1h0M1805.5 565.4h0M1792.4 573.4h0M1804.2 563.4h0M1807.5 568.5h0M1795.9 572h0M1802.7 569.6h0M1801.9 563.3h0M1796.6 569h0M1801.2 563.2h0M1792.6 573.3h0M1801.3 565.4h0M1803.6 568.4h0M1794 573.7h0M1794.9 569.6h0M1796.1 567.6h0M1806 574.3h0M1792 572.5h0M1800 568.7h0M1800.2 573.4h0M1797.2 572.2h0M1797.7 569.1h0M1801.6 563.1h0M1805.3 573.3h0M1798.4 566.4h0M1796.4 569h0M1807.7 567.3h0M1798 568.8h0M1798.3 565.7h0M1808.1 557.9h0M1804.3 570.7h0M1805.9 555.8h0M1804.9 570.8h0M1805.5 564.3h0M1797 570.3h0M1807.2 557.2h0M1800.5 568.6h0M1794.3 571.9h0M1798.9 564.3h0M1801 569.8h0M1794.8 574.2h0M1804.2 570.9h0M1806.6 562.1h0M1799.4 574h0M1792.5 574h0M1796.4 571.2h0M1805.9 557.1h0M1806.2 553.1h0M1800.6 567.9h0M1794.3 574.2h0M1803.1 566h0M1795.4 570.9h0M1803.2 558.6h0M1802.4 563h0M1797.4 567h0M1794.9 573.7h0M1798.7 573.7h0M1803.5 565.5h0M1804 567.6h0M1797.4 572.3h0M1798.2 566.3h0M1796.1 570.3h0M1804.4 564.8h0M1806.2 557.7h0M1794.8 574h0M1804.3 564.5h0M1795.9 569.8h0M1792.5 572.1h0M1801.5 562.6h0M1806.1 561.3h0M1807 572.5h0M1800.4 567.7h0M1800.5 567.6h0M1800.1 569.7h0M1796.6 569.3h0M1799.9 570.2h0M1800.3 571.7h0M1795.9 569.4h0M1798.2 574.1h0M1806.4 555.7h0M1806.2 564.3h0M1801.3 571h0M1806 567.1h0M1803.4 570.2h0M1799.2 569.3h0M1805.1 555.3h0M1804.8 557.3h0M1807.9 551.5h0M1798.2 564.9h0M1797.6 565.5h0M1806.2 553.5h0M1797.3 565.9h0M1805.1 555.2h0M1804 557.2h0M1804.8 557.3h0M1799.5 564.2h0M1794.5 570.1h0M1798.3 565.6h0M1795.5 568.7h0M1798.1 565.6h0M1799 564.9h0M1804.2 556.9h0M1806.3 554.4h0M1796.8 566.9h0M1802.2 559.6h0M1794.9 569.4h0M1807.2 551.8h0M1808.1 549.6h0M1796.1 568.2h0M1797.9 566.3h0M1802.4 558.9h0M1806.4 553h0M1803.7 558.6h0M1795.3 568.6h0M1793.9 570.9h0M1797.4 566.5h0M1795.5 568.9h0M1805.3 554.7h0M1798.5 564.3h0M1797.9 565.8h0M1806.2 554.9h0M1795.3 568.9h0M1795.2 568.8h0M1804 557.9h0M1806.1 554.3h0" stroke="#000" stroke-width="11" stroke-linecap="round" fill="none"/>
<path d="M1708.9 295h0M1710.6 304.5h0M1688.1 329.7h0M1656.2 363.6h0M1729.4 376.6h0M1651.9 386.7h0M1702.5 390.2h0M1667.8 396h0M1691.8 399.7h0M1708.3 396.8h0M1720.5 399.7h0M1730.9 407.5h0M1724.2 417h0M1735.8 426.3h0M1737.8 430.6h0M1724.2 441.3h0M1643.2 471.1h0M1590.3 490.5h0M1654.2 513.7h0M1593.5 535.4h0M1665.5 537.1h0M1612.3 547.8h0M1628.8 555.6h0M1601.8 560h0M1628.8 564.3h0M1570.3 563.4h0M1644.7 564.3h0M1649.9 568.6h0M1665.5 569.5h0M1688.6 464.8h0M1697.6 463.9h0M1709.8 459.6h0M1704.9 472.6h0M1683.2 480.4h0M1696.7 482.7h0M1685.2 492h0M1691 498.6h0M1708.3 489.9h0M1714.7 490.5h0M1680 522.4h0M1693.9 521.8h0M1699.6 518.3h0M1705.4 521.8h0M1676.5 537.7h0M1685.2 536.2h0M1719.9 468.2h0M1715.6 472.6h0M1725.7 448h0M1728.6 452.3h0M1731.5 455.8h0M1741.6 457.5h0M1743 464.5h0M1734.9 459.6h0M1722.8 445.1h0M1673.6 546.4h0M1680.8 549.3h0M1688.1 547.8h0M1699.6 536.2h0M1702.5 540.6h0M1712.7 501.5h0M1715.6 507.3h0M1748.8 479.8h0M1751.7 487.1h0M1754.6 488.5h0M1756.1 500.1h0M1729.2 557.3h0M1758.5 551.4h0M1758.8 568h0M1724 569.1h0M1743.6 565.6h0M1755.2 547.1h0M1720.1 562.1h0M1745 559.3h0M1760.5 540.1h0M1719.5 565.6h0M1730.4 563.4h0M1720.3 529.4h0M1718.1 561.6h0M1724.5 564.2h0M1711.8 556.1h0M1755.3 519.7h0M1760.9 567.7h0M1732.6 563.8h0M1705.1 529.7h0M1719.1 557.6h0M1707.9 523.3h0M1740.1 544.6h0M1741.8 568.4h0M1743.1 518.1h0M1729.9 528.1h0M1764.8 550.3h0M1736.8 542h0M1726.1 564.5h0M1768 563.8h0M1728 566.1h0M1732.3 565.4h0M1764.8 562h0M1748.1 543.9h0M1716.3 558.8h0M1711.1 557.3h0M1714.9 569.6h0M1732.3 564.3h0M1754 535.3h0M1756.1 565.9h0M1734.8 550h0M1761 568.1h0M1746.9 560.1h0M1737.2 556.9h0M1702 548.4h0M1730.9 557.8h0M1755.2 535.1h0M1753.4 537.4h0M1743.5 555.7h0M1737.6 548.6h0M1698.3 559.9h0M1732.4 554.4h0M1765.8 550.4h0M1736.1 536h0M1733.5 515.9h0M1752.6 534.4h0M1759.3 567.1h0M1726.9 560.8h0M1724.9 565.4h0M1759.7 554.2h0M1710.1 554.1h0M1762.8 564.8h0M1695.6 567.9h0M1763.9 545.9h0M1736.6 545.6h0M1761 565.7h0M1744.5 556.8h0M1731.8 565.8h0M1744.1 566.2h0M1742 549.1h0M1758.8 535.6h0M1754.4 534.5h0M1697.2 559.1h0M1719.7 548.6h0M1743.8 552.3h0M1711.2 569.5h0M1727.4 568.9h0M1740.6 520.3h0M1735.2 569.1h0M1724 568.8h0M1743.5 547.6h0M1752.7 569.7h0M1763.6 541h0M1744.6 564.1h0M1738.1 534.3h0M1753.1 565.2h0M1742.8 546.8h0M1721.9 538.3h0M1719.2 523h0M1739 545.7h0M1739.1 565.6h0M1763.2 549.5h0M1727.5 549h0M1761.5 541.3h0M1746.5 565h0M1723.9 561.7h0M1743.5 526.2h0M1764.1 538.6h0M1707.6 562.4h0M1699.3 560.7h0M1733.7 552.3h0M1737.7 560.4h0M1712.9 552.6h0M1739 553.5h0M1743.8 568.6h0M1738.7 568.2h0M1753 564.1h0M1752.2 559.5h0M1740 553.8h0M1742 529.6h0M1730.5 548.5h0M1754.1 541.5h0M1752.4 568.7h0M1764.2 565.9h0M1749.8 569.3h0M1713.9 543.4h0M1729.4 566h0M1736 524h0M1742 569h0M1752.2 547.5h0M1750.8 550.4h0M1739.6 527.2h0M1767.9 539h0M1720.1 568.2h0M1711.5 556.7h0M1736.7 562.2h0M1719.6 543.6h0M1727.9 557h0M1767.7 557.1h0M1722.9 560.1h0M1758.2 546.9h0M1703 552.6h0M1746.3 546.2h0M1740.7 564.6h0M1705.2 539.4h0M1697.9 544.7h0M1717.5 561.2h0M1752.7 537.3h0M1719 566.8h0M1758.3 532h0M1757.3 568.2h0M1729.2 514.3h0M1715.8 567h0M1735.8 534.2h0M1695.6 565.7h0M1756.4 547.4h0M1735.1 551.1h0M1746.5 552.3h0M1720.9 561.5h0M1737.3 549.4h0M1743.4 531.6h0M1737.2 520.6h0M1718.7 540.7h0M1702.3 557.6h0M1747.4 554.3h0M1717.4 568.5h0M1717.8 564.8h0M1742.3 570h0M1745.9 522.5h0M1738.5 556.6h0M1756.6 560.8h0M1701 565.3h0M1717.6 562.1h0M1728.7 564.7h0M1715.7 564.4h0M1726.2 524.6h0M1722.4 546.9h0M1700.5 557.8h0M1721.1 563h0M1753.3 540.3h0M1736.5 522.1h0M1759 555.4h0M1716.9 547.4h0M1716.4 545.7h0M1723 566.2h0M1741.9 537.5h0M1730.7 569.3h0M1731 565.9h0M1763.2 536.3h0M1745.1 537h0M1713 562.1h0M1756.6 568.1h0M1761 537.5h0M1731.7 569.1h0M1728.4 569.2h0M1700.7 562.6h0M1739.6 539.7h0M1721.5 513.2h0M1765.3 547.9h0M1736.4 551.2h0M1746.2 564.9h0M1744.3 565.2h0M1751.5 546.1h0M1738.1 563.3h0M1705.7 566.5h0M1691.8 568.2h0M1748.2 564.3h0M1756.1 544.2h0M1744.1 565.2h0M1747.7 527.7h0M1766.7 569.2h0M1707.2 562.6h0M1725.8 546.9h0M1760.2 559.5h0M1755.6 563.1h0M1724.9 547h0M1700.3 544.6h0M1741.3 560.5h0M1729.6 551.5h0M1733.3 552.5h0M1745.6 549.9h0M1729.4 549.6h0M1715.4 525.4h0M1729.7 555.1h0M1719.5 546h0M1736.1 547.9h0M1734.5 561.5h0M1730.4 545h0M1754.2 552.6h0M1732 564.3h0M1742.3 567.2h0M1756.1 538.9h0M1757.5 568.9h0M1756.5 543.5h0M1744.5 532.9h0M1732.2 532.6h0M1738.2 569.7h0M1707 549h0M1727.8 542.3h0M1754.7 536.1h0M1704.4 559.6h0M1734.8 512.9h0M1735.8 569.6h0M1703 564.6h0M1717.2 562.2h0M1735.2 556.1h0M1713.6 553.2h0M1709.3 527.9h0M1732.6 568.4h0M1699.6 569.8h0M1715.6 535h0M1706.5 533h0M1724.3 559.2h0M1749.2 559.7h0M1764.6 563.1h0M1755.9 546h0M1743 555.3h0M1719.5 565.2h0M1758.7 546.2h0M1763.9 548.3h0M1711.5 549.2h0M1735.3 545.4h0M1727.9 564.5h0M1743.7 549.2h0M1748.3 566.6h0M1756.9 541.9h0M1750.7 532.8h0M1757.7 527.8h0M1762.3 553h0M1752.1 553.2h0M1757.2 532.2h0M1739.8 549.8h0M1732.3 546.8h0M1756.1 549.1h0M1699.6 567.1h0M1754.2 550.2h0M1746.6 562.2h0M1743.8 533.9h0M1724.2 561.1h0M1754.9 526.6h0M1747.2 512.9h0M1735.9 568.6h0M1707.4 562.7h0M1754.9 567h0M1725.6 551.2h0M1750.6 543h0M1716.2 569.5h0M1743 562h0M1746.1 544.6h0M1737.1 565.1h0M1759 568.2h0M1709.2 563.9h0M1764.6 528.7h0M1736.8 567.5h0M1728 568.1h0M1735.1 564.9h0M1757.8 567.7h0M1712.4 558.8h0M1752.6 567.6h0M1724.9 569h0M1751.1 517.1h0M1730 552.4h0M1748.3 541.7h0M1703.9 560.7h0M1725.9 568.7h0M1741.4 567.8h0M1733.2 540.9h0M1719.2 569.9h0M1750.9 560.3h0M1720 555.5h0M1737.6 536.6h0M1757.4 546h0M1701.7 537.3h0M1730.5 540.6h0M1757.4 517.7h0M1712.3 560h0M1711.6 542.1h0M1703.1 552.7h0M1722.1 560h0M1720.5 559.7h0M1722.2 561h0M1745.6 531.1h0M1708.3 561.7h0M1726.8 552h0M1730.2 519.4h0M1704.8 567.8h0M1711.6 552.3h0M1757.5 539.5h0M1725.4 539.5h0M1756.8 543.3h0M1764.3 564h0M1750.4 563.9h0M1712.1 563.2h0M1743.6 529.4h0M1749.8 547.3h0M1715.8 555.2h0M1746.5 567.6h0M1768 567.3h0M1753 554.5h0M1745.3 560.8h0M1762.8 556h0M1753.2 552.7h0M1711 515.4h0M1729.1 551.2h0M1753.9 568.1h0M1767 569.5h0M1734.6 551.8h0M1747.3 532.3h0M1708.3 561.4h0M1756.2 566h0M1739.7 561.5h0M1744.1 563.8h0M1699.4 546.4h0M1746.5 564.1h0M1763.9 559.7h0M1726.5 562.9h0M1701 569.7h0M1746.7 566.8h0M1702.4 566.8h0M1732.3 546.1h0M1718.4 568.5h0M1759.6 565.8h0M1709.7 539.8h0M1724.6 568.4h0M1752.1 552.3h0M1761.4 556.9h0M1761.9 568.9h0M1752 569.6h0M1744.4 556.9h0M1743.4 549.4h0M1730.8 557h0M1728.6 529.6h0M1734.3 543h0M1756.8 563h0M1739.1 555.5h0M1760.7 557h0M1754.6 563.1h0M1738.1 563.8h0M1723.2 531.3h0M1734.3 532.2h0M1713.5 535.1h0M1742.7 561.2h0M1750 548.3h0M1754.5 526.8h0M1731.6 549.5h0M1721.3 539.2h0M1716.4 548.6h0M1734.4 564.6h0M1754.4 562h0M1752.5 561.6h0M1747.8 538.7h0M1720.1 569.3h0M1745.6 551.7h0M1726.6 548.5h0M1751.3 567.3h0M1735 548.4h0M1748.1 568.8h0M1752.9 542.7h0M1738 557.2h0M1748.2 523.8h0M1724.7 558.4h0M1762 545.9h0M1723.9 567.7h0M1742.4 567.3h0M1756.2 524.1h0M1728.5 560.4h0M1745.2 558.9h0M1757.4 525.4h0M1753.2 537.6h0M1733.7 542.9h0M1727 539h0M1724.7 569.7h0M1721.9 564.8h0M1732.8 568.7h0M1710.6 539.8h0M1710.7 552.7h0M1707.2 561.8h0M1741.9 554.2h0M1745.6 547.1h0M1727.5 550.4h0M1751.2 545.3h0M1713.8 560.1h0M1755.6 512.9h0M1697.1 563.6h0M1758.6 528.7h0M1746.8 525.6h0M1720.2 534.8h0M1754.5 566.6h0M1760.9 546.2h0M1748.6 524.9h0M1747.9 569.1h0M1755.9 568.7h0M1741.7 556.8h0M1700 564h0M1750.3 551.1h0M1731.6 524.1h0M1740.9 555.4h0M1697.7 554.2h0M1701.4 569.4h0M1726.5 527.3h0M1694.8 553.1h0M1713 553.5h0M1764.1 548.5h0M1743.8 551.6h0M1730 553.5h0M1758.9 565h0M1753.7 552.8h0M1758.5 542.9h0M1746 569.4h0M1727.9 565.7h0M1737.2 533.5h0M1730.3 564.3h0M1737.9 562.8h0M1735.7 568.8h0M1748.9 569.4h0M1748.3 565.8h0M1725.3 564.3h0M1763.5 569.3h0M1700.2 541.2h0M1764.8 566.7h0M1747.7 569h0M1705.2 565.3h0M1757.2 560.1h0M1759.4 556.5h0M1734.4 569.8h0M1694.7 560.2h0M1727.1 562.7h0M1746 565.7h0M1741.6 521.9h0M1714.9 566.8h0M1714.5 568.7h0M1730 565.6h0M1688.6 565.6h0M1756.7 563.3h0M1708.9 543h0M1745 559.4h0M1699.4 566.6h0M1759.8 566.3h0M1697.3 552.1h0M1709.6 533.4h0M1737 569.5h0M1763.4 561.1h0M1739.5 553h0M1712.5 562.9h0M1750.2 556.4h0M1762.1 568.8h0M1749.8 536.9h0M1733.8 559.5h0M1748.8 569h0M1751.9 566.6h0M1718.2 562.7h0M1728 523.4h0M1760.8 568.9h0M1760.5 521.4h0M1731.6 517.6h0M1710 549.8h0M1733.4 566.9h0M1708 566.1h0M1706.5 544.9h0M1718.6 555.6h0M1760.6 550.4h0M1737.9 539.1h0M1735.8 558.9h0M1726.3 530.5h0M1757.4 562.1h0M1698.5 566.8h0M1747.4 540h0M1736.1 565.3h0M1713.9 569.4h0M1761.1 567.3h0M1763.6 561.9h0M1732.6 560.6h0M1759.6 568h0M1742.8 540.1h0M1732.6 566.4h0M1713 545.4h0M1741.6 562.2h0M1748.9 538.3h0M1762.8 524.6h0M1724.7 546.9h0M1758.5 563.8h0M1756.7 570h0M1696.9 565.9h0M1727.6 564.5h0M1718.4 548h0M1751.3 556.7h0M1698.2 561.7h0M1729.3 560.7h0M1743.9 562.2h0M1694.6 569.7h0M1705.8 562.1h0M1722.6 560.8h0M1727.6 516.8h0M1750.9 531.5h0M1760.6 555h0M1744.6 551h0M1764.6 568.7h0M1723.4 552.5h0M1760.5 563.4h0M1731.7 569.4h0M1761.3 569.5h0M1733.8 561.2h0M1725.9 522.8h0M1747.1 551.8h0M1740.4 550.8h0M1727.8 540.5h0M1763.6 569.9h0M1729.9 563.3h0M1758.8 561.3h0M1757.8 546.5h0M1714.2 558h0M1713.7 548.3h0M1760.5 531.3h0M1755.7 522h0M1709.9 541.1h0M1725.7 547.2h0M1762.4 565h0M1745.6 533.8h0M1747.9 531.7h0M1733.6 557.6h0M1765.2 548.5h0M1758.8 557h0M1767.8 567.6h0M1697.1 564.8h0M1713.3 550.3h0M1730.1 568.5h0M1766.9 535.3h0M1766.5 550.1h0M1721.3 559.4h0M1756.7 559.4h0M1693.9 561.3h0M1749.7 522.4h0M1758.5 553.9h0M1746.2 539.1h0M1765.1 568.8h0M1759.8 538.6h0M1743.8 567h0M1742 546.7h0M1727.3 561.9h0M1687.1 567.8h0M1695.3 568.7h0M1741.5 569.2h0M1738.4 543.1h0M1721.1 558.8h0M1765.4 561h0M1751.2 562.6h0M1698 560.4h0M1734 564.5h0M1748.8 566.5h0M1746.2 565.2h0M1761.9 553.9h0M1741.8 570h0M1752.2 545h0M1759.4 553.1h0M1736.2 567.3h0M1743.9 556.4h0M1716.3 551h0M1766.8 555.8h0M1700.5 555.9h0M1710.3 568.8h0M1703.7 540.2h0M1721 568.7h0M1746.1 552.3h0M1721.7 534.1h0M1707.2 568.8h0M1749.3 557.1h0M1760.1 550.2h0M1763.3 569h0M1699.1 551.2h0M1739.8 526.8h0M1740.3 541.1h0M1741 563.7h0M1700.3 569.2h0M1757.5 566.8h0M1724.2 550.5h0M1736.9 564.1h0M1743.2 569.4h0M1726.1 553.1h0M1741.6 567.3h0M1728.9 557.3h0M1724.3 563.2h0M1730.8 566.1h0M1755.1 550.1h0M1737.3 542.2h0M1746.7 539.2h0M1751.4 543.3h0M1733.5 569.7h0M1724.6 558h0M1741.4 546.9h0M1751.1 558.3h0M1742.4 523.8h0M1734.9 568.1h0M1712.1 560.8h0M1736.8 556.6h0M1754.9 550.8h0M1754.4 562.9h0M1748.7 550.7h0M1754.1 535.6h0M1729.1 563.8h0M1749 528.6h0M1737.2 551.9h0M1729.2 541.4h0M1763.6 555.6h0M1751 548h0M1739.9 515.7h0M1713.4 563.3h0M1732.7 555.2h0M1710.5 540.8h0M1716.7 567.7h0M1755.6 557.6h0M1704.4 544.5h0M1745.2 567.7h0M1708.3 563h0M1748.7 555.8h0M1740.8 545.5h0M1767.2 538.8h0M1739.7 542.3h0M1738.9 558.2h0M1722.4 567.7h0M1711.3 556.3h0M1691.6 569.5h0M1751.5 568.6h0M1705.5 550.5h0M1736.2 554.4h0M1743 548.2h0M1723.8 533h0M1728.4 567.8h0M1729.8 550.3h0M1746.1 524.3h0M1736.3 548.9h0M1728.1 557.5h0M1718.6 558.6h0M1688 566.9h0M1753.9 568.5h0M1734.9 532.2h0M1711.3 555.6h0M1725.9 551.7h0M1715 543h0M1712.7 553.1h0M1749.5 549.2h0M1757.8 551.7h0M1706.4 559.2h0M1732.4 566.5h0M1750.5 566.3h0M1750.4 525.4h0M1721.2 558.8h0M1763.7 549.5h0M1747.1 556.1h0M1736 558.8h0M1746.3 546.7h0M1741.4 546.4h0M1757.5 567.5h0M1750.4 568.3h0M1698.6 555.2h0M1750.3 559.6h0M1753.9 556.4h0M1757.4 569.1h0M1704.2 562.9h0M1732.5 570h0M1733 567.7h0M1723.2 561.2h0M1765.8 554.3h0M1713.7 556.4h0M1738.6 569.5h0M1715.1 528.4h0M1735 514.1h0M1754.2 565.9h0M1740.7 549.9h0M1741.8 557.1h0M1709.2 569.1h0M1745 558.4h0M1765.3 541.1h0M1717.9 567.4h0M1760.7 560.5h0M1748.4 531.8h0M1727.6 569.3h0M1745.5 519.6h0M1720.6 532.5h0M1721 537.3h0M1743.5 525.7h0M1706.5 566.1h0M1709.2 560.5h0M1712.4 537.4h0M1767.5 562.6h0M1762.8 553.6h0M1752.1 564.7h0M1738.2 546.4h0M1745.3 565.2h0M1749.5 518.8h0M1758.1 565.9h0M1727.5 535.4h0M1767.5 567.6h0M1698.6 557.3h0M1695.5 561.3h0M1718.1 555.1h0M1756.5 566.8h0M1750.7 569h0M1719.3 551.5h0M1700.9 560.2h0M1705.1 560.9h0M1758.6 568.5h0M1712.6 551.6h0M1758.9 557.5h0M1730.5 518.7h0M1758.9 565.7h0M1693.9 564.8h0M1711.9 527.3h0M1730.9 550.7h0M1751.9 564.3h0M1767.8 566.7h0M1720.6 568.6h0M1733 524.3h0M1739.2 538.3h0M1751.6 558.6h0M1743.4 535.2h0M1729.3 541.6h0M1722.4 553.2h0M1730.8 555.4h0M1701.1 559.4h0M1731.8 568h0M1747.3 555.1h0M1762.2 568.5h0M1746.7 564.6h0M1725.1 522.9h0M1711.9 520.3h0M1732.2 541.7h0M1717.6 552.2h0M1759.9 534.5h0M1715.4 569.5h0M1751.8 568.7h0M1706.5 537.2h0M1759.3 551.5h0M1763.9 566.1h0M1755.5 530.5h0M1741 566.9h0M1717.8 544.8h0M1743.8 543.5h0M1749.8 568h0M1735.5 514.9h0M1750 560.4h0M1724.6 557.9h0M1724.4 568.2h0M1713.4 565.4h0M1754.6 565.8h0M1764.1 532.1h0M1740.1 526.4h0M1722.4 567.5h0M1727.6 543.6h0M1752.3 569h0M1755.9 534.3h0M1690.9 565.1h0M1713.7 562.6h0M1721.1 517.2h0M1720.5 570h0M1762.1 562.7h0M1725.8 560.1h0M1764.9 563.8h0M1716.2 560.8h0M1713.7 562.1h0M1767.8 564.9h0M1709.7 561.5h0M1744.9 544.1h0M1739.9 565.5h0M1728.4 519.2h0M1711.4 568h0M1728.3 560.2h0M1719.5 569h0M1743.8 558.9h0M1719.7 558.1h0M1739.2 543.6h0M1750.5 567.8h0M1717.2 569.2h0M1763.4 549.6h0M1755.3 530.3h0M1753.2 561.2h0M1705.4 547.6h0M1727.4 518.4h0M1752.9 536.2h0M1736.3 569.4h0M1728.8 551.3h0M1722 563.3h0M1713.1 538h0M1705.9 569.7h0M1705.9 561.1h0M1744.3 518.4h0M1746.8 515.3h0M1714.9 539.8h0M1734.8 514.1h0M1747.2 544h0M1728.7 569.9h0M1709.3 536.5h0M1714.6 559.2h0M1754.3 534.1h0M1767.9 566.4h0M1759.6 566.3h0M1756.3 519.8h0M1731.1 518h0M1709.6 561.9h0M1762.8 558.8h0M1710.4 569.3h0M1699.3 559.7h0M1695.2 560.7h0M1746.9 558.4h0M1745 554.6h0M1713.5 559.7h0M1736.9 541.2h0M1731.5 545.7h0M1741.9 546h0M1737.8 537.9h0M1737.9 557.4h0M1716.2 565.9h0M1696.4 558.9h0M1743.5 564h0M1708.5 541.5h0M1728.4 565.4h0M1741.4 553.4h0M1746.1 551.2h0M1751.2 516.4h0M1715.3 550.2h0M1750.1 532.3h0M1733.7 551.2h0M1728.3 558.5h0M1748.3 523.4h0M1741 567.9h0M1752.7 562.6h0M1721 548.4h0M1723.8 547.8h0M1753.6 564.7h0M1734.1 550.3h0M1730 538.4h0M1720.6 568.2h0M1720.2 562.8h0M1748 560.6h0M1740.2 512.2h0M1745.9 561.7h0M1737.1 563.7h0M1737.9 556.5h0M1706 552.1h0M1742.6 567.4h0M1752.6 528.5h0M1762.9 558.1h0M1729.4 567.5h0M1758.3 555.7h0M1700.3 558.8h0M1739.1 530.8h0M1747 553.2h0M1748 565.4h0M1702.4 539.5h0M1720.2 569.2h0M1758.9 562.1h0M1756.9 524.8h0M1753.2 537.1h0M1746.6 552h0M1697.6 563.8h0M1735.8 525.6h0M1735.5 559h0M1723.3 556.8h0M1761.2 548.5h0M1733 563h0M1737.7 557.1h0M1757.3 560.5h0M1738.9 562h0M1765.6 562.4h0M1732.9 548.3h0M1752.2 548h0M1744.5 559h0M1738.8 538.4h0M1768.3 560h0M1765.7 540.3h0M1753.8 566.7h0M1743.5 528.8h0M1756.2 552.8h0M1751.9 559h0M1697.9 560.5h0M1754.3 557.6h0M1720.3 568.7h0M1710.7 566.6h0M1717.2 562.4h0M1723.2 569.2h0M1737.9 560.8h0M1745.9 554.8h0M1750.9 557.4h0M1727.9 568h0M1717.7 559h0M1758.1 556.1h0M1746 569.8h0M1748.7 566.5h0M1754.6 518.3h0M1715.5 517.3h0M1706.2 553.1h0M1734.2 532.7h0M1738.4 527.2h0M1710.7 519.6h0M1695.1 563.8h0M1701.4 562.2h0M1697.5 561.9h0M1744.3 567h0M1728 541.9h0M1717.7 548.7h0M1736 561.5h0M1756.3 530.4h0M1708.6 567.4h0M1714.4 568.2h0M1715.7 560.4h0M1746.5 553h0M1722.7 565.9h0M1745 534.5h0M1737.8 568.4h0M1758.4 562.5h0M1737.8 555.2h0M1716.1 560.6h0M1738.1 569.1h0M1742.6 548.9h0M1713.1 523.4h0M1761.4 558h0M1746.1 516.5h0M1742.4 559.9h0M1753.7 546.6h0M1755.5 551.6h0M1746.1 563.6h0M1705.9 566.8h0M1707.6 563.2h0M1731.4 549.3h0M1767.4 568.5h0M1767.3 532.5h0M1720.5 553.4h0M1751.1 532.1h0M1727.8 569.7h0M1720 569h0M1753.1 552.6h0M1730.7 556.9h0M1736.6 548.2h0M1712 557.1h0M1740.6 548.7h0M1756.1 555.9h0M1707 547.3h0M1709 563.4h0M1722.5 553.1h0M1750.4 557.9h0M1718.7 569.1h0M1737.7 557.9h0M1709.1 562h0M1758.2 553.2h0M1742.7 556.4h0M1758.2 545.1h0M1744 569.4h0M1745.2 568.8h0M1745.8 548h0M1767.6 560.6h0M1751.2 557.6h0M1740.5 525.6h0M1731.3 555.4h0M1709.2 539.4h0M1733.4 564.3h0M1748.3 544.8h0M1729.6 551.2h0M1756 523.8h0M1730.8 555.6h0M1748 560.6h0M1742.8 559.3h0M1749 559.9h0M1725.4 569.1h0M1737.1 535.4h0M1757.6 531.7h0M1740.5 566.6h0M1716.2 563.7h0M1726.1 557.9h0M1710.6 557.2h0M1706.4 556.2h0M1754 551.1h0M1718.4 535.7h0M1740 516.1h0M1734.7 560.8h0M1759.9 559.7h0M1729.5 526.6h0M1730.7 568.7h0M1737.6 553.5h0M1742.8 515.4h0M1736 529.5h0M1727.4 547h0M1713.6 542.5h0M1723.3 564.9h0M1741.9 532.6h0M1744.3 559.3h0M1711.5 553.9h0M1722.9 562.4h0M1750.6 541.6h0M1743.4 564.4h0M1741.5 567.5h0M1710.4 564.4h0M1729.4 541h0M1752.6 556.6h0M1701.6 559.4h0M1745.7 552.9h0M1711.7 552.7h0M1765.5 560h0M1762.6 558.3h0M1747 553.3h0M1716.8 516.1h0M1713.3 534.7h0M1730.9 524.2h0M1707 553.4h0M1759.8 518h0M1726.7 548.7h0M1748.9 561.3h0M1706.6 534.5h0M1732.1 568.3h0M1711.4 560.6h0M1762.3 567.2h0M1753.7 564.9h0M1738.6 547.3h0M1757.5 562.5h0M1757.2 544.7h0M1764.9 545.1h0M1742.1 538.9h0M1725.5 552.1h0M1711.3 563.1h0M1709.2 554.2h0M1755.1 568.4h0M1763.6 553h0M1712.2 565.5h0M1733.4 500.1h0M1729.3 497.3h0M1725.5 534.5h0M1735.6 513.5h0M1735.1 483.2h0M1712.3 561.7h0M1714.9 565.8h0M1750.1 513.2h0M1747 508.1h0M1735.1 505.5h0M1741.4 485.5h0M1696.7 539h0M1759.4 544h0M1726.6 452.8h0M1728.7 452.2h0M1750 474h0M1760.4 550.7h0M1726.6 552h0M1724.1 546.5h0M1760.6 559.8h0M1752 550h0M1745.8 516.3h0M1732 465.8h0M1736.2 548.2h0M1724.4 543.5h0M1734.9 480.5h0M1734.6 568.4h0M1741.7 460.1h0M1734.5 513.7h0M1727.8 560.1h0M1730.1 451.5h0M1708.6 528.7h0M1706.1 545.7h0M1752.6 557.3h0M1755.5 569.2h0M1721.3 490h0M1745.5 466.6h0M1744 560.2h0M1729.3 532.7h0M1735.1 498.1h0M1730.8 519.9h0M1728.9 557.7h0M1767.9 546.9h0M1725 526.6h0M1737.5 519h0M1733.2 522.2h0M1742 493.3h0M1692.9 567h0M1723 497.5h0M1730 479h0M1729.7 488.4h0M1715.1 539h0M1739.6 488h0M1727 516.1h0M1690.7 563h0M1715.9 521h0M1751.2 567.8h0M1736.1 463.6h0M1693.7 548.4h0M1721.7 503.8h0M1724.2 546.1h0M1711.8 525.6h0M1703.3 566.5h0M1709 535.7h0M1764 524.3h0M1731.2 531.9h0M1760 515h0M1705.5 538.6h0M1757.3 547.9h0M1722.7 503.8h0M1702 540.3h0M1747.6 500.6h0M1715.6 539.6h0M1763 568.4h0M1742.6 507.5h0M1747.6 539h0M1728.6 505.2h0M1727.8 462.4h0M1733.6 479h0M1711.7 536.6h0M1749 493.7h0M1751.6 566.8h0M1732.1 457.1h0M1745 472.8h0M1767.3 535.3h0M1735.7 503.8h0M1756.5 566h0M1739.7 458.3h0M1729 453.5h0M1738.5 477.8h0M1706.1 529.5h0M1741.9 526.4h0M1704.7 530.8h0M1728.1 558.3h0M1698.4 548.3h0M1704.5 545.1h0M1724.4 454h0M1724.6 470.1h0M1756.7 536.4h0M1710.2 547.5h0M1704 560.9h0M1767.7 555.2h0M1741.7 504.8h0M1768.6 561.1h0M1743.3 511.7h0M1726.5 475h0M1757.5 545h0M1713.6 542.3h0M1761.1 523.1h0M1714.7 519.1h0M1699.7 560.6h0M1761.6 541.7h0M1750.9 522.8h0M1746.6 542.5h0M1728.5 565.7h0M1750.2 479h0M1743.1 478.5h0M1744.1 548.8h0M1737.8 537.9h0M1753.3 505.1h0M1735.9 520.4h0M1742.8 493.9h0M1750.3 569h0M1718.7 530.9h0M1738.3 482.7h0M1736.2 493.4h0M1717.6 527h0M1755.1 498.2h0M1709.5 565.3h0M1735.8 517.6h0M1746.4 509.4h0M1707 558.7h0M1712.1 544.9h0M1763.7 521.8h0M1743.4 498.2h0M1762.6 560.2h0M1742.1 465h0M1748.8 533.8h0M1702.2 535.3h0M1734.9 537.4h0M1746.1 488.2h0M1743.8 539.5h0M1738.7 539.1h0M1753.6 537.2h0M1735.5 542h0M1728.6 499.3h0M1728.3 486.1h0M1702.6 539h0M1732.4 482.7h0M1720.6 533.5h0M1730.3 453.6h0M1751.2 556.1h0M1727.5 463.5h0M1719.9 563.5h0M1724 488.6h0M1750.8 563h0M1730.5 448.7h0M1727.1 507.6h0M1723.6 460.3h0M1747.6 481.7h0M1731.3 473.1h0M1745.8 485.1h0M1755.4 548.8h0M1725.6 496.2h0M1727.6 513.6h0M1736.8 547.3h0M1742.1 503.1h0M1739.5 553h0M1735 514.3h0M1739.8 471.5h0M1736.5 532.3h0M1746.9 487.4h0M1695.9 563.5h0M1719.2 540.3h0M1730.5 518.3h0M1747.1 528.9h0M1713.5 549.5h0M1768.3 550.5h0M1718.9 565.4h0M1711.9 514h0M1756.4 566h0M1761.7 547h0M1698.5 547.3h0M1760 556.8h0M1739 549h0M1751.7 551.9h0M1767.1 532.5h0M1742.8 502.7h0M1738.7 514.3h0M1752.8 535.8h0M1708.9 531.8h0M1733.9 452.9h0M1740.1 457.5h0M1743.2 516.8h0M1735.5 530.5h0M1745.9 529.7h0M1741.2 507.6h0M1719.1 553.8h0M1754.5 493.1h0M1746.7 545.7h0M1751.2 535h0M1707.8 524.8h0M1725.4 532h0M1758.7 533.1h0M1717.3 521.5h0M1730.1 522.6h0M1732.5 559.5h0M1767.7 561.5h0M1742 522.9h0M1759.9 535.4h0M1700.3 532.1h0M1730.6 477.9h0M1728.3 547.5h0M1735.4 530.8h0M1757.3 525.4h0M1739.1 568.3h0M1742.4 470.6h0M1757.6 511.1h0M1744.8 545.6h0M1731.6 550.5h0M1707.7 525.2h0M1726.4 493h0M1729.9 515.9h0M1738.5 544.7h0M1694.1 549.4h0M1738.6 460h0M1744.3 530.5h0M1731.6 456.6h0M1767.3 552.7h0M1706.7 548h0M1742.8 529h0M1723.5 568.7h0M1750 553.2h0M1751.7 546h0M1719.6 550.4h0M1755.7 544.9h0M1738.6 526.5h0M1752.8 515.6h0M1694.6 565.2h0M1754.7 503.3h0M1725.2 560.6h0M1729.2 560.9h0M1734.2 511.6h0M1735.8 458.6h0M1730 509.4h0M1720.4 536.8h0M1730 565h0M1747 471.8h0M1732.5 555h0M1689.2 562h0M1725.8 448h0M1741.3 486.4h0M1754.7 527.8h0M1743.6 472.2h0M1723.9 551.4h0M1755 520.3h0M1757.2 509.7h0M1757.8 512.3h0M1751.9 545.2h0M1738.9 539.8h0M1744.4 476h0M1726 567.3h0M1739.1 456.8h0M1711 541.1h0M1704.9 541.8h0M1727.4 569.2h0M1707.8 567.1h0M1741.3 552.6h0M1736 468.1h0M1748.1 545.2h0M1755.3 495.3h0M1767 533.6h0M1728.1 455.1h0M1727.6 451.2h0M1718.2 536.3h0M1735.6 464.7h0M1753.7 521.9h0M1757.4 524.8h0M1739.4 467.2h0M1728.6 473.8h0M1743.7 493.2h0M1735.5 522.4h0M1759.4 548.7h0M1734.9 509.7h0M1745.6 557.8h0M1698.7 560.9h0M1724.4 549.3h0M1765.5 553.8h0M1724.3 528.9h0M1748 512.5h0M1744.3 563h0M1724.5 466.1h0M1748.6 542.6h0M1732.2 476.5h0M1736.3 502.3h0M1698.4 539.2h0M1724.3 512.6h0M1744.5 518h0M1730.1 449.5h0M1749.2 521.6h0M1704.5 567.7h0M1728.2 449.6h0M1713.4 547.7h0M1742.7 483.8h0M1757.2 506.3h0M1728.4 498h0M1764.6 542h0M1748.3 538h0M1710.2 534.9h0M1753 538.4h0M1710.5 557h0M1725.7 453.6h0M1700.3 535.1h0M1737.9 458.2h0M1738 484h0M1726.1 455h0M1746 499.6h0M1737.2 500h0M1725.6 480.9h0M1742.8 507.8h0M1759.3 524.8h0M1699.1 558.3h0M1702.6 558.5h0M1758.9 523.3h0M1721.2 562.1h0M1735.7 536.1h0M1725.3 562.9h0M1753.3 525.8h0M1732.1 450.2h0M1745.8 505h0M1687.4 542.7h0M1682.4 543h0M1672.8 567.2h0M1695.5 554.5h0M1690.1 563.8h0M1702 559.7h0M1667.6 560.8h0M1694.6 561.9h0M1681.3 569.6h0M1696.2 557h0M1689.5 549.2h0M1697.6 568.9h0M1670.6 545.6h0M1679.9 553.8h0M1695.4 567.2h0M1686.7 549.8h0M1686.1 557.8h0M1693.8 561.4h0M1689.4 559.5h0M1673.1 558.3h0M1698 565.7h0M1690.4 570h0M1699.9 530.6h0M1673.3 539.1h0M1691.6 562.5h0M1669.7 569.1h0M1687.1 562.1h0M1676.4 549.7h0M1681.1 526.2h0M1681.4 566h0M1684.5 564.5h0M1670.7 541.6h0M1698.5 551.6h0M1679.8 544.1h0M1697 554.7h0M1698.3 560.3h0M1689.6 562.3h0M1688 557.3h0M1698.2 556.9h0M1699.5 548.9h0M1700.8 558.4h0M1701.9 543.3h0M1669.5 546h0M1686.3 559.1h0M1676 568.6h0M1689.8 558.5h0M1696.1 559.3h0M1689.9 567.4h0M1681.7 560h0M1697.7 556.6h0M1694.3 555.3h0M1691.1 547.8h0" stroke="#15108f" stroke-width="11" stroke-linecap="round" fill="none"/>
<path d="M1923.9 113.3h0M1866.3 182.7h0M1875 233.3h0M1870.4 310.3h0M1853 316.7h0M1869.5 334h0M1877.6 334h0M1853 360.7h0M1864.6 361.5h0M1881.3 380.9h0M1857.6 390.2h0M1854.4 397.4h0M1868 400.3h0M1920.4 400.8h0M1861.7 408.9h0M1871.8 409.5h0M1863.1 417h0M1887.1 416.2h0M1897 423.4h0M1839.1 427.2h0M1864 431.5h0M1878.5 432.9h0M1869.8 437h0M1848.1 439.9h0M1838.5 456.7h0M1858.8 457.3h0M1889.2 468.2h0M1875.6 473.2h0M1899.3 484.2h0M1879.6 483.6h0M1889.2 487.1h0M1921 493.4h0M1875.3 495.7h0M1900.7 500.9h0M1887.7 503h0M1938.3 502.4h0M1909.4 509.6h0M1913.8 513.7h0M1922.4 513.7h0M1873.2 513.1h0M1892.1 514.5h0M1874.7 523.2h0M1889.2 524.7h0M1909.4 524.7h0M1925.3 527h0M1956.6 532.8h0M1976.8 541.5h0M1928.2 550.7h0M1902.2 557.9h0M1947 561.4h0M1915.2 564.3h0M1939.8 564.6h0M1928.2 566.6h0M1900.7 565.2h0M1908 566.6h0M1851.5 463.9h0M1854.4 468.2h0M1857.3 472.6h0M1860.2 476.9h0M1863.1 481.3h0M1866 485.6h0M1868.9 489.9h0M1873.2 537.7h0M1876.1 542h0M1887.7 537.7h0M1889.2 546.4h0M1890.6 553.6h0M1886.3 560.8h0M1876.1 553.6h0M1873.2 559.4h0M1867.5 539.1h0M1868.9 546.4h0M1810.4 550.8h0M1841.3 539h0M1818.9 556.3h0M1838.8 537.7h0M1812.1 560.7h0M1831.2 558.2h0M1828.1 538.1h0M1817.2 549.7h0M1821.3 564.8h0M1830.5 557h0M1813 559.9h0M1856 568.9h0M1825.7 569h0M1843.4 512.6h0M1839.4 566.5h0M1817.8 564.4h0M1835.3 559.8h0M1826.2 554.9h0M1825 550.9h0M1855.9 568.7h0M1820.1 528.7h0M1850.6 561.7h0M1854.2 554.9h0M1847.1 559h0M1858.6 548.9h0M1818.6 568.1h0M1842.5 565.4h0M1829.4 554.6h0M1824.7 567.4h0M1823.6 522.1h0M1836.5 544h0M1826.2 532.2h0M1848.1 564.6h0M1826.5 558.6h0M1819 566.7h0M1853.4 558.4h0M1836.3 566.5h0M1820.7 563.5h0M1860.6 569.6h0M1833.8 568.4h0M1850.7 557.4h0M1833.1 555.7h0M1824.1 565h0M1850.2 555.9h0M1837.5 540.8h0M1820.2 536.1h0M1841.1 562.1h0M1821.6 530h0M1841.5 515.9h0M1823.9 554.9h0M1832.6 546.8h0M1826.4 563.8h0M1842.1 564.9h0M1854.9 568.1h0M1849.9 543.8h0M1820.5 559.7h0M1835.7 542.8h0M1822.8 565.2h0M1830.2 569.4h0M1825.8 562.6h0M1842.6 539.3h0M1848.3 568.7h0M1840.2 549h0M1840.4 568.5h0M1830.5 542.2h0M1865.1 560.5h0M1812.4 567.2h0M1811.7 543.7h0M1828 569.9h0M1813.6 542.4h0M1826.4 564.6h0M1840.1 564.4h0M1838.6 551.1h0M1838.2 549.9h0M1820.3 555h0M1859 559h0M1861.6 563.6h0M1843.2 564.3h0M1812 552.3h0M1823.9 524.5h0M1830.6 559.3h0M1850.7 531.5h0M1810.2 555.7h0M1832.7 555.8h0M1843.5 562.3h0M1825.7 543.7h0M1855.6 564.2h0M1829.1 554.9h0M1853.3 529.1h0M1830.6 536.5h0M1850.2 525.7h0M1830.1 565.1h0M1811.3 558.3h0M1847.4 564.7h0M1830.9 560.5h0M1817.2 569.2h0M1813.4 544.4h0M1831.1 561.3h0M1845.6 556.4h0M1844.4 539.7h0M1852.2 563.8h0M1851.6 569h0M1851 550h0M1848 567.5h0M1857.4 562.3h0M1831.3 517.3h0M1824.7 554.2h0M1811.8 569.9h0M1835.7 535.8h0M1849.8 529.9h0M1860.3 550.8h0M1819.8 551.1h0M1835.7 563.1h0M1853.1 570h0M1842.1 547h0M1847.4 561.3h0M1837.5 530.9h0M1817.9 522.7h0M1826.7 568.9h0M1841.1 568.3h0M1820.5 557.4h0M1816.2 564.2h0M1836.3 527.3h0M1833.1 567.5h0M1840.3 568.4h0M1830.3 568.6h0M1820.8 548.8h0M1813 564h0M1819.6 539.9h0M1830.9 564.5h0M1812 541h0M1815.9 529.4h0M1849.8 539.2h0M1847.5 557.6h0M1825.9 557.1h0M1821.7 569.1h0M1864.5 565h0M1820.7 565.1h0M1841.9 565.2h0M1838.7 561.5h0M1841.1 552.6h0M1859.5 565h0M1829.3 564.9h0M1816.2 522.1h0M1855 556.1h0M1836.9 548h0M1831.7 560.2h0M1831.5 558.9h0M1814.9 548.4h0M1867.6 569.2h0M1867.3 563h0M1819.4 561.6h0M1836.7 533.6h0M1817.1 541.5h0M1825.8 561.9h0M1822.7 550.6h0M1824.9 561.4h0M1834.2 536.5h0M1837.6 559.6h0M1812.4 546.8h0M1811.6 567.7h0M1836.4 554.3h0M1819.5 566.4h0M1848.2 533.7h0M1834.6 560.4h0M1819 567.6h0M1820 565.6h0M1834.7 547.8h0M1852.2 568.4h0M1826.2 554.4h0M1817.8 560.6h0M1823.8 564.8h0M1835.4 557.1h0M1833.8 550.5h0M1837 560h0M1828 569.5h0M1841.4 550.9h0M1823 541.3h0M1812.9 534h0M1852.7 564.4h0M1863.7 565h0M1843.9 528.6h0M1818.8 564h0M1838.9 527.7h0M1823 557.5h0M1842.2 536h0M1816 554.7h0M1846.4 558.3h0M1829 513.1h0M1820.5 520.2h0M1832 556h0M1830.1 569.7h0M1815.5 530.2h0M1822.6 568h0M1826.2 561.3h0M1841 545.7h0M1828.4 548h0M1825.2 541.4h0M1824.9 558.2h0M1841.7 557.1h0M1848.7 543h0M1861.4 562.2h0M1832.8 569.9h0M1812 549.2h0M1825.3 531.3h0M1850.1 524.6h0M1838.3 560.3h0M1836.5 561.8h0M1843.8 567.5h0M1835.3 564.2h0M1840.7 569.4h0M1837.2 560.1h0M1810.6 558.2h0M1818.6 560.2h0M1841.2 521.5h0M1839.6 551.7h0M1820.6 561.7h0M1839 523.3h0M1838.1 550.3h0M1820.9 527.3h0M1843.4 527.4h0M1856.5 567.2h0M1840.5 559.9h0M1817.1 569.9h0M1823.6 564.9h0M1849.6 541.6h0M1836.9 541.7h0M1853.5 559.8h0M1835.8 558.8h0M1825 561.5h0M1856.4 557.4h0M1811.6 562.1h0M1812.7 551.4h0M1820.3 549.6h0M1849 569.8h0M1827.1 562.1h0M1827.4 569.8h0M1815.4 563.7h0M1848.1 566.8h0M1820.9 548.5h0M1824.9 557.1h0M1851.9 523.5h0M1839.5 556.5h0M1813.2 528.9h0M1845.6 552.2h0M1817.8 562.1h0M1831.4 550.5h0M1828.8 562.3h0M1852.2 561.7h0M1834.1 561.5h0M1827.3 539.3h0M1844.7 565.8h0M1823.3 562.9h0M1838.7 567.2h0M1838.5 539.2h0M1847.7 543.4h0M1818 546.4h0M1828 563.2h0M1841 561.6h0M1820.7 556.9h0M1816.2 541.1h0M1815.5 557.3h0M1828 550.8h0M1846.3 565.8h0M1817.6 567.4h0M1822.7 549h0M1822 564.7h0M1851.4 524.3h0M1832.1 520.9h0M1830.1 557.2h0M1868.2 566.5h0M1816.5 560.2h0M1852.1 569.1h0M1829.2 551h0M1863.7 568h0M1836.7 558.6h0M1817.5 565.7h0M1847.7 568.7h0M1820.5 538.4h0M1815.7 544.3h0M1819.9 522.1h0M1832.8 557.9h0M1828.4 551.7h0M1840.3 565.1h0M1849.2 524.1h0M1821.8 526.7h0M1823.3 556.4h0M1837 544.8h0M1831.2 536.4h0M1829.6 567.6h0M1820.9 520h0M1822.8 568.5h0M1843.8 565.8h0M1841.1 558.6h0M1818.1 562.6h0M1828.5 562.3h0M1853.2 552.7h0M1818.8 543.3h0M1819.5 558.6h0M1822.3 560.3h0M1846.6 560.2h0M1842.2 567h0M1831.8 552.9h0M1821.2 540.5h0M1826.1 516.4h0M1831.9 562.4h0M1850.4 563.3h0M1841.7 534.4h0M1827.7 534.3h0M1847.4 538.3h0M1810.8 558.7h0M1843 552.6h0M1847.5 559.9h0M1816.3 569.8h0M1836.4 520.7h0M1826.7 520.2h0M1833 566h0M1853.7 568.4h0M1852 558.6h0M1836.3 560.6h0M1826.3 566.6h0M1830.7 551.8h0M1824.1 557.9h0M1815 550.6h0M1822.6 522.8h0M1852.4 546.2h0M1831.4 560.5h0M1813.5 567.2h0M1821.6 561.3h0M1819.5 516.3h0M1853.6 569.1h0M1822.2 569.3h0M1845.9 539.7h0M1827 532.5h0M1848.9 529.7h0M1852.7 558.7h0M1843.6 536.6h0M1823.7 562.2h0M1827.2 514.8h0M1826.7 547.9h0M1828.8 569.4h0M1814.6 543.7h0M1828.5 563h0M1833.8 559h0M1813.2 569h0M1819.2 566.2h0M1843.1 566.9h0M1819.6 531.3h0M1811.7 565.9h0M1855.8 548.6h0M1819.3 520.3h0M1825.5 556.6h0M1828.5 569.6h0M1830.6 543.4h0M1831 560.2h0M1817.7 569.7h0M1822.4 522.9h0M1821.6 559.8h0M1838.3 559.1h0M1820.5 565.8h0M1823.9 564.7h0M1834.1 565.9h0M1826.1 552.5h0M1860.5 554.3h0M1832.3 559h0M1832.7 565.6h0M1847.9 550.4h0M1828.5 543.2h0M1822.3 564h0M1816.6 566h0M1820.5 559.2h0M1838.8 540.8h0M1840.8 561.1h0M1813.7 525.1h0M1826.2 538.3h0M1851.6 556.1h0M1814.6 538.1h0M1833.1 552.1h0M1849.4 565.1h0M1831.8 568.2h0M1836.1 549.7h0M1832 550.9h0M1837.9 568.6h0M1826.9 564.4h0M1821.2 528.7h0M1826.6 568.1h0M1848.9 558.5h0M1825 539.1h0M1819.5 569.1h0M1826.1 565.2h0M1863.2 569.4h0M1822.4 567.8h0M1820.3 559.5h0M1833.2 558.1h0M1814.7 556.1h0M1813.1 558.1h0M1848.9 552.6h0M1817.3 566h0M1817.7 541.6h0M1843.3 528.4h0M1850.1 567.7h0M1848.2 545.3h0M1817.8 564.8h0M1819.5 565.8h0M1836 522.1h0M1828.6 555.1h0M1828.6 558.6h0M1816.2 552.2h0M1825.8 563.8h0M1842.7 557.7h0M1826.4 553h0M1822.1 560.7h0M1861.6 559.9h0M1838.2 548.6h0M1819.5 563.5h0M1842 554.7h0M1821 552.5h0M1828.8 556.9h0M1819.1 538.7h0M1820.5 563.8h0M1848.1 568h0M1834.8 558.3h0M1824 540h0M1813.5 538.5h0M1859.4 552.9h0M1821.1 556.3h0M1818.3 558.7h0M1812.6 559h0M1854.3 562h0M1818.2 552.8h0M1822.7 545h0M1819.7 539.7h0M1825.8 525.8h0M1847.6 561.4h0M1825.6 562.7h0M1850.4 566.3h0M1821 515.8h0M1829.2 530.1h0M1852.5 569.3h0M1837.1 562.8h0M1818.8 526.7h0M1837.2 524.9h0M1831.7 528.3h0M1835.7 569.6h0M1823.3 560.3h0M1840.1 569.2h0M1825.8 545.9h0M1841 520.9h0M1843.9 547.7h0M1851.7 569.7h0M1836.5 558h0M1812.3 561.3h0M1813.5 562.3h0M1835.9 545.8h0M1815.7 540.5h0M1812.3 553.9h0M1816.3 526.8h0M1829.6 560.4h0M1835.1 534.9h0M1834.2 565.3h0M1821.2 567.9h0M1819.8 519.8h0M1842.9 550.6h0M1835.1 568.1h0M1828.1 563.5h0M1822.2 514.8h0M1825.3 550.2h0M1841.7 545.5h0M1825.2 529.6h0M1848.4 564.1h0M1818.6 548.9h0M1831 548.4h0M1833 529.4h0M1818 545.5h0M1825.5 513.6h0M1856.3 563.5h0M1822.1 555.3h0M1846.8 545.7h0M1818.3 565.6h0M1827.7 565.8h0M1819.2 567.4h0M1814.9 564.6h0M1851.7 546.8h0M1814.3 563.9h0M1828.7 565.6h0M1818.7 525.6h0M1855.1 564.6h0M1860.5 551.2h0M1823.1 551.2h0M1830 553.4h0M1826.9 561.7h0M1838.2 543.9h0M1820.4 565.4h0M1847.5 542.2h0M1834.8 526.6h0M1833.9 549.7h0M1820.2 565.7h0M1817.5 559.3h0M1814.9 544.2h0M1825.2 538.9h0M1825.1 543.6h0M1848.3 566.7h0M1826.5 561.9h0M1830.1 559.1h0M1814.5 569.4h0M1828.7 568.5h0M1823.8 551.4h0M1843.9 568.7h0M1833.2 565h0M1836.1 518.5h0M1825.8 542.7h0M1849.5 531.8h0M1837.1 529.8h0M1856.8 556.6h0M1830 521.3h0M1821.6 545.3h0M1828.9 568.8h0M1822.6 555.6h0M1843.8 532.2h0M1817.2 559h0M1854.7 563h0M1831.7 518.4h0M1862.3 566.9h0M1812.9 569h0M1835.9 565.4h0M1827.2 562.8h0M1848.5 569.4h0M1856.2 542.8h0M1851.7 560.2h0M1821.1 564.1h0M1851.3 559.2h0M1858.9 560.6h0M1828.2 567.6h0M1818.4 554.3h0M1840 539.1h0M1835.5 526.7h0M1835.1 525h0M1844.1 538.6h0M1843.7 545.9h0M1826.8 554.8h0M1856.7 548.7h0M1842.5 516.2h0M1846.3 551h0M1862.3 561.7h0M1813.1 552.8h0M1832.6 560.3h0M1822.8 567.8h0M1836.6 567.9h0M1838.8 564h0M1847.6 552.4h0M1841 557h0M1828 566.1h0M1855.9 569.6h0M1827.5 549.9h0M1844.8 559.1h0M1817.5 550.9h0M1813.6 534.6h0M1841.1 564.7h0M1815.9 567h0M1819 568h0M1826.2 541.1h0M1824.3 533.5h0M1853 523.3h0M1844.5 563.9h0M1818.7 538.9h0M1858.1 569.4h0M1852.4 551.1h0M1850.5 523.4h0M1828.4 551h0M1821.9 566.9h0M1837.4 562.7h0M1822 569h0M1847.5 567.6h0M1855.3 559.5h0M1818 548.8h0M1858.2 563.6h0M1861.3 568.2h0M1852.4 526h0M1834.4 565.2h0M1816.7 557.5h0M1820.8 549.9h0M1817.5 562.8h0M1836.3 517.3h0M1819.7 568.9h0M1840.6 569.7h0M1817 540.4h0M1850.1 546h0M1829.5 569.9h0M1822.6 567.2h0M1827.4 532.6h0M1853.4 554.6h0M1824.5 569.5h0M1826.1 560.7h0M1825.7 549.5h0M1821.9 550.9h0M1819.6 517h0M1824 535.6h0M1855 569.8h0M1816.4 567.5h0M1819.5 563.9h0M1822.9 559.4h0M1817.2 559.8h0M1839.2 556.3h0M1817.4 565.2h0M1847.9 543.5h0M1854.5 546h0M1840.4 552.6h0M1818 536.3h0M1824 536.7h0M1814.8 544.3h0M1844.7 529h0M1824.2 549.9h0M1823.4 533.6h0M1851.1 541h0M1826.4 526.4h0M1813.8 569.8h0M1837.2 566.3h0M1819.1 567.7h0M1823.1 546.6h0M1816.6 560.2h0M1811.1 560.8h0M1831.3 547h0M1817.7 546.9h0M1837.5 562.2h0M1820.3 562.6h0M1832 514.5h0M1812.1 564.3h0M1824.6 534.9h0M1811 567.8h0M1821 545.2h0M1849 529.6h0M1834.7 521.8h0M1840.5 536h0M1823.3 526.3h0M1851.7 567.5h0M1827.6 567.5h0M1848.8 520.3h0M1811.7 535.1h0M1829.8 564.3h0M1834.2 561.9h0M1843.1 564.8h0M1825.8 558h0M1822.7 538.4h0M1817.6 538.8h0M1841.5 533.1h0M1823.3 567.6h0M1843.1 562.9h0M1821.3 533.7h0M1830.6 542.7h0M1846.3 540.6h0M1831.2 549h0M1838 530.3h0M1845.9 513h0M1850.2 568.9h0M1845.4 533.2h0M1836.4 554.2h0M1838.8 537.4h0M1853.6 532.9h0M1836.3 554.2h0M1839.3 541.9h0M1850.3 555.8h0M1838.8 565h0M1839.7 517h0M1829.9 555.7h0M1829.5 561.2h0M1839.4 562.1h0M1841 568.4h0M1818 569.8h0M1839 527.1h0M1824.5 568.5h0M1825.3 565.3h0M1814.7 561.7h0M1858.1 542h0M1812.1 569.8h0M1848.5 544.6h0M1820.4 533.3h0M1850.5 569.5h0M1834.3 567.2h0M1828.5 557h0M1810.4 566.7h0M1841.3 552.8h0M1821.9 570h0M1828.9 550.6h0M1851.8 553.2h0M1826.2 561.8h0M1834.1 548.2h0M1823.5 559.1h0M1825.8 560.6h0M1824.3 555.8h0M1844.7 528.5h0M1860.6 560.7h0M1834.2 558.3h0M1830.5 561.4h0M1816.8 535.7h0M1852.7 564.8h0M1833.7 535.8h0M1818.2 555.4h0M1811 560.1h0M1826.5 548.3h0M1821.6 553.2h0M1824.2 566.2h0M1836.2 569.2h0M1833.6 559.8h0M1815.9 550.6h0M1852 570h0M1816.4 547.8h0M1819.2 561h0M1864.4 568.7h0M1812.3 566.4h0M1827.6 533.3h0M1826.7 516.8h0M1833 565.8h0M1827.3 569.9h0M1815.2 547.3h0M1824.1 559.3h0M1812.5 564.1h0M1827.3 569.9h0M1848.6 535.7h0M1845.9 569.4h0M1830.1 568.9h0M1846.2 563.2h0M1834.2 560.5h0M1852.8 519.3h0M1830.2 563.8h0M1814.2 565.6h0M1848.8 560.6h0M1837.7 543.9h0M1861.8 550.9h0M1836.4 533.8h0M1838.4 545.3h0M1830 539.1h0M1842.8 569h0M1838.7 535.2h0M1835.5 537.1h0M1854.7 569.1h0M1811.3 549.7h0M1825.4 547.2h0M1856.2 558h0M1856.7 547.8h0M1855.5 570h0M1837.5 566.9h0M1814 554.3h0M1834.7 548.2h0M1815.9 540h0M1834.8 511.7h0M1832.3 568.5h0M1821.6 563.5h0M1854.2 550.3h0M1826.2 564.2h0M1843.8 523.6h0M1824.7 545.7h0M1821.2 555.2h0M1812.6 554.6h0M1864.7 566.2h0M1849.5 569.7h0M1846.5 569.7h0M1836.6 570h0M1812 570h0M1831.7 555.3h0M1840.1 568.6h0M1819.6 557.3h0M1864.2 568.8h0M1857.7 556.4h0M1813.4 561.9h0M1854.4 551.7h0M1846.1 552.8h0M1834.8 554.9h0M1822.8 550.8h0M1820 525.8h0M1811.4 559h0M1833.4 534.7h0M1830.7 523.1h0M1833.9 537.1h0M1817.3 559.1h0M1822.2 553.1h0M1837.1 561.3h0M1843.4 557.1h0M1847.3 565.4h0M1828.5 546.3h0M1828.7 563.3h0M1831.8 559.2h0M1860.8 560.1h0M1852.9 560.8h0M1834 568.8h0M1810.1 563.7h0M1836.4 554.8h0M1813.7 528.9h0M1839.7 555.4h0M1827 559.6h0M1835.7 555.7h0M1853.6 554.8h0M1826 569.7h0M1827.7 549h0M1835.3 539.4h0M1852 550h0M1845.3 568.8h0M1829.5 560.6h0M1816.7 566h0M1813.2 554.4h0M1810.8 568.9h0M1812.3 565.8h0M1823.8 517.4h0M1854.7 552.9h0M1828.9 569.1h0M1848.8 564.2h0M1823.3 545.6h0M1811.2 549.2h0M1819.8 546.2h0M1832.6 554h0M1825 554.3h0M1841.7 556.5h0M1813 569.4h0M1837.6 564.3h0M1828.7 563.8h0M1831.7 556.7h0M1820.8 566.7h0M1820.3 557.2h0M1814.5 565.3h0M1811.4 563.2h0M1835.2 526.7h0M1841.7 565.4h0M1834.5 549h0M1819.3 565.2h0M1853 568.8h0M1817.8 550.4h0M1822.6 555.4h0M1841.3 564.7h0M1813.1 568.4h0M1823.4 543.4h0M1848 565.2h0M1842.1 562.4h0M1824.1 562.2h0M1811.2 541.5h0M1818.2 554.3h0M1825.4 565h0M1829.9 514.7h0M1841.4 545.9h0M1828.2 565h0M1823.7 525.8h0M1818.5 569.2h0M1825.7 549.5h0M1864 567.4h0M1811.4 545.7h0M1851.3 565h0M1850.9 569.2h0M1823.4 541h0M1841.8 560.9h0M1827.9 531.7h0M1811.2 545.8h0M1826.8 569.6h0M1831.1 530.7h0M1815.9 560.4h0M1845.7 566h0M1834.4 550.2h0M1828.3 558.8h0M1820.5 569.5h0M1857.6 563.5h0M1826.7 532.1h0M1844.3 560.7h0M1857.9 548.3h0M1839.8 562h0M1845.8 565.4h0M1832.4 569.1h0M1836.6 554.3h0M1824.6 554.8h0M1840.9 568.7h0M1815.3 545.8h0M1830.4 554.5h0M1854.9 562.6h0M1848.1 565.7h0M1830.9 567.8h0M1817.1 565.8h0M1816.5 560.4h0M1855.9 558h0M1825.5 524.3h0M1841.5 563.1h0M1852.7 544.9h0M1845.5 559.3h0M1840.2 529.7h0M1845.3 566.8h0M1823.7 566.4h0M1820.7 554.3h0M1842.3 538.2h0M1819 546.5h0M1832.3 564.9h0M1839.1 567.3h0M1835.5 544.9h0M1822.7 525.8h0M1837.1 550.2h0M1835.5 549.3h0M1822.8 557.2h0M1849.1 533.1h0M1827 527.9h0M1827.7 533.7h0M1864.2 560.7h0M1851.4 554.5h0M1833.7 520.5h0M1816.1 531h0M1835.8 565.2h0M1854.1 522.7h0M1815.6 547.2h0M1823.8 527.3h0M1849.5 538.1h0M1846.2 482.4h0M1835.5 461.6h0M1860.6 561.4h0M1833.2 552.5h0M1848.3 517h0M1825 533.9h0M1865.6 556.9h0M1814.8 533.6h0M1832.2 500.4h0M1829.6 543.1h0M1845 496.8h0M1860.1 558.4h0M1820.6 561.7h0M1830.5 563h0M1833.9 539.4h0M1838.1 539.4h0M1831.3 502.1h0M1843.3 469.8h0M1810.2 566.3h0M1836.1 539.8h0M1829.2 505.8h0M1823.5 491.1h0M1841.8 511.3h0M1836 465.6h0M1855 520.2h0M1828.6 540.6h0M1835.8 528.7h0M1859.2 547.7h0M1836 531.9h0M1837.6 480.8h0M1810.6 568.4h0M1828.5 505.3h0M1837 492.3h0M1848.2 566h0M1844 526.8h0M1844.6 502.2h0M1844.9 491.1h0M1831.6 569.2h0M1850.9 560.6h0M1853.7 536.7h0M1840.7 459.6h0M1852.1 477.4h0M1839.8 563.2h0M1834.6 481.4h0M1823.8 561.7h0M1826.9 500.7h0M1811.2 554.1h0M1820.3 554.3h0M1833.3 465.1h0M1835.2 479.7h0M1826 518.7h0M1829 490.3h0M1854.6 521.9h0M1841.4 507.6h0M1842.9 524.9h0M1840.4 459.6h0M1854.2 539.3h0M1833.9 558.9h0M1833.3 553.3h0M1818.8 549.4h0M1861.2 561.4h0M1840.5 468.2h0M1840.3 453h0M1847.1 461.3h0M1845.2 468.4h0M1838.2 503h0M1827.8 521.6h0M1817.5 548.5h0M1825.2 492.1h0M1813.8 554.8h0M1851.7 531.1h0M1850.1 470.6h0M1828.9 550.5h0M1845.6 522.3h0M1833 464.7h0M1837.3 509h0M1853.9 542.6h0M1836.3 547.4h0M1846.4 468h0M1850.1 475.7h0M1818.5 565.7h0M1833.6 525.8h0M1823 537.4h0M1843.9 461h0M1839.3 555.6h0M1849.3 543.9h0M1842.6 456.8h0M1809.9 563.6h0M1852.3 508h0M1839 546.5h0M1829.3 494.9h0M1847.6 467.1h0M1834.2 564.2h0M1842.2 471.1h0M1844.6 463.1h0M1839.3 482.8h0M1831 488.5h0M1830.2 476.5h0M1827.9 499.8h0M1829.9 549.6h0M1818.9 552.5h0M1843.4 455.5h0M1819.1 546.6h0M1839.2 540h0M1845 454.9h0M1843.2 462.8h0M1848.3 546.3h0M1841.5 544.3h0M1832.6 517.4h0M1842.8 454h0M1829.1 548.9h0M1815 558h0M1851.1 525.9h0M1848.3 491.3h0M1836.6 491.4h0M1819.5 517.2h0M1846 556.6h0M1826.7 491.3h0M1843.6 542.8h0M1851.9 519.4h0M1847.7 495.2h0M1840.5 533.7h0M1859.4 535.9h0M1818.6 548.7h0M1853.7 502.3h0M1850.7 473.5h0M1825 512.4h0M1852.5 493.8h0M1821.9 506.1h0M1837.3 537.7h0M1845 536.5h0M1831 539.2h0M1848.5 485.4h0M1850.1 569h0M1847.9 506.6h0M1846.9 505.7h0M1853.9 518.8h0M1815.5 560.6h0M1843.1 458.5h0M1816.7 568h0M1855 524.5h0M1829.8 536.7h0M1824 548.7h0M1829.3 568.1h0M1844.7 561.2h0M1824.5 516.2h0M1835.9 549.2h0M1822.2 500.7h0M1842.3 523h0M1833.2 520.8h0M1854.2 555.7h0M1857.3 541.6h0M1821.3 545h0M1833.4 466.2h0M1852.2 511.9h0M1833.8 479.4h0M1813.4 553.8h0M1820.6 564.9h0M1857.2 541.1h0M1828.1 562.4h0M1820 511.3h0M1845.8 560.6h0M1842.3 492h0M1857.5 535.7h0M1849.3 563.4h0M1829.4 497.1h0M1821.3 532.4h0M1838 537.3h0M1835.9 511.2h0M1823.4 522h0M1851.4 517.5h0M1844.9 468.9h0M1836.7 479.1h0M1824 532.3h0M1839.9 564.3h0M1855.3 562.9h0M1837.1 545.6h0M1843.3 525.8h0M1852.2 546.2h0M1846.8 466.6h0M1830.9 537.6h0M1837.6 482.4h0M1837 499.7h0M1822.2 498.7h0M1849.3 529.5h0M1843.6 552.5h0M1827.5 477.1h0M1826.9 508.9h0M1846.2 567.1h0M1857.3 547.8h0M1852.8 539h0M1843.7 547.2h0M1839.3 455.8h0M1836.3 550.9h0M1820.7 539.2h0M1834.6 517.3h0M1839.5 483.8h0M1851 506.6h0M1856.4 528.9h0M1853.2 526.2h0M1859.5 544.1h0M1832.7 551.6h0M1845.6 521.7h0M1827.5 561.3h0M1832.8 547.4h0M1864.9 554.7h0M1844.9 489.2h0M1857 539h0M1852.2 547.9h0M1845.4 504.6h0M1847.3 501.2h0M1834.2 500.9h0M1865 555h0M1843.6 549.2h0M1843.9 522.4h0M1832.4 569.2h0M1831.4 500.1h0M1817.5 548h0M1845.7 476.1h0M1830.5 494.6h0M1820.8 564.5h0M1841.3 565h0M1824.9 524.1h0M1837.3 463h0M1841.1 537.2h0M1845 463.5h0M1836.4 557.6h0M1823.8 537.5h0M1824.1 562.1h0M1848.3 489.2h0M1816.6 518.6h0M1857.6 563.8h0M1846.7 521.9h0M1836.9 482.1h0M1816.3 520.6h0M1834.1 498.1h0M1842.3 523.1h0M1845.2 502.5h0M1845.4 475.4h0M1847.9 560.7h0M1841.9 559.8h0M1821.9 551.4h0M1831.5 475.3h0M1837.2 512.1h0M1836.7 527.6h0M1824.7 563.7h0M1824.4 511.8h0M1845.7 503.8h0M1811.3 565h0M1844 458.1h0M1827.9 476.5h0M1844.6 470.2h0M1820.6 513.9h0M1817.2 553.1h0M1842.8 555.4h0M1841.4 478.7h0M1830.5 467.5h0M1814.8 555.9h0M1840.4 452.5h0M1844.5 551.3h0M1823.8 551.8h0M1859.5 557.1h0M1832.1 481.9h0M1846.4 482.1h0M1821.5 528.7h0M1815.6 521.7h0M1815.9 559h0M1849.8 560.6h0M1850.8 508.5h0M1814.9 527.3h0M1848.4 533.4h0M1837.8 464.7h0M1820.3 509.6h0M1836.6 501.4h0M1838.7 559.3h0M1843.2 507h0M1829.6 524.4h0M1863.9 559.6h0M1839.5 454.2h0M1838.6 462.3h0M1821.6 557.2h0M1814.3 553.1h0M1831.3 513.1h0M1850.7 538.7h0M1845.8 543h0M1837.8 549h0M1817 551.7h0M1855.9 531h0M1847.1 475.6h0M1817.2 541.8h0M1860.5 547.7h0M1813.4 559.4h0M1851 546.6h0M1851.8 498.1h0M1855.8 532.5h0M1832.6 530.8h0M1812.7 567.1h0M1875.7 548.1h0M1866 564h0M1881.5 521.3h0M1873.4 567.2h0M1867.4 568.1h0M1870.1 564.1h0M1888.7 545.5h0M1867.6 527.6h0M1863.8 562.4h0M1859.8 519.5h0M1890.4 554.8h0M1873.5 557h0M1877.8 533.4h0M1861 545.7h0M1875.5 537.2h0M1862.3 516.7h0M1893.3 569.6h0M1883.5 563.1h0M1868.5 559.6h0M1884.4 558.2h0M1892.9 537.1h0M1872.2 548.8h0M1894.7 539.9h0M1889.8 558h0M1870.2 556.6h0M1883.5 569.6h0M1871.4 554.6h0M1872.1 558.4h0M1881 556.9h0M1898.4 556.9h0M1874.6 533.7h0M1878.2 562.9h0M1890.2 547.4h0M1876.3 568.4h0M1886.2 553.6h0M1860.4 565.9h0M1886.7 569.4h0M1865.4 529.7h0M1889.5 554.9h0M1868.7 559.6h0M1863.7 564.3h0M1862.2 567.7h0M1875.3 546.5h0M1878.9 558.1h0M1869.5 560.5h0M1895.2 566.7h0M1871.6 568.7h0M1875 548.4h0M1868.9 548.9h0M1862 548.1h0M1870.3 535h0M1891.1 558.2h0M1892 540.8h0M1890.9 561.3h0M1893 559.8h0M1863.5 553.1h0M1888.6 566.4h0M1870.8 519.4h0M1887.2 563.8h0M1871.2 569.7h0M1860 567.3h0M1862.6 525.1h0M1890.3 561.1h0M1866.9 554.5h0M1873.8 558.2h0M1892.1 542.5h0M1860.4 562.4h0M1860.8 549h0M1885.8 538.8h0M1884.7 566.3h0M1884.3 567.5h0M1891.9 559.5h0" stroke="#f3261a" stroke-width="11" stroke-linecap="round" fill="none"/>
<path d="M1797.7 572.7h0M1804 573.3h0M1782.2 572.2h0M1721.4 570.5h0M1805.7 573.9h0M1776.7 573.4h0M1791.8 574.4h0M1755 571.8h0M1744.4 573h0M1835.6 570.9h0M1798.3 571.9h0M1748.6 572.4h0M1858 573.9h0M1795.6 572h0M1765.9 571.3h0M1849.5 571.7h0M1792.7 574.6h0M1841 573h0M1798 571.5h0M1815.4 570.5h0M1841.3 573h0M1804.9 572.2h0M1718.8 573h0M1833.9 570.7h0M1803.9 573.3h0M1741.4 574.6h0M1823.8 573.4h0M1754.4 571.6h0M1794 572.4h0M1795.5 572.4h0M1750 571.5h0M1793.3 574.5h0M1828.2 571h0M1768 573.2h0M1834.8 573.3h0M1841.6 570.8h0M1805.8 571.3h0M1789.9 573.2h0M1772.2 573.4h0M1792.8 573.2h0M1829.8 570.6h0M1770.4 572.3h0M1805.3 572.7h0M1795.9 573.3h0M1847.5 570.8h0M1787.2 574.3h0M1794.1 571.7h0M1774.6 570.6h0M1791.8 573.1h0M1772.7 572h0M1765.3 572.8h0M1805.8 574.1h0M1803.4 571.3h0M1745.5 571h0M1790.5 573.1h0M1823.1 573.5h0M1838.1 574h0M1783.3 571.5h0M1838.7 572.3h0M1852.6 571.6h0M1813 573.3h0M1819.9 573h0M1731 571.9h0M1787.7 573.8h0M1835.7 571.1h0M1816.7 571h0M1801.9 571.3h0M1827.9 571.2h0M1795.3 572.7h0M1774.8 574.4h0M1785.8 574.4h0M1758 571.7h0M1814.6 571.9h0M1763.6 573.7h0M1789.3 573.2h0M1778.1 572.2h0M1821.5 570.3h0M1811 573.2h0M1801.7 574.4h0M1830.4 574h0M1870.2 573.3h0M1753.7 572.7h0M1831.3 571.3h0M1716.1 572.2h0M1763.3 572h0M1855.1 572.2h0M1776.4 572.8h0M1805.4 570.4h0M1803.7 571.5h0M1830 572.6h0M1782 572.7h0M1758.4 572.1h0M1734.3 571.7h0M1786.6 573h0M1749.1 571.5h0M1807.2 570.9h0M1755.7 574h0M1841.3 571.9h0M1825.1 573.9h0M1795.4 573h0M1742 572.3h0M1752.3 572.4h0M1799.5 570.6h0M1811.3 573.1h0M1761.3 574h0M1811.7 571.7h0M1761 573.3h0M1784.5 572h0M1790.3 574.6h0M1866.1 570.8h0M1739.8 571.8h0M1760.4 572.5h0M1807 573.5h0M1780.6 570.9h0M1815.8 574.6h0M1761.1 574.5h0M1739.6 570.9h0M1817.6 573.2h0M1831.7 572.2h0M1754.3 570.4h0M1805.7 574h0M1747 573.8h0M1772.3 574.4h0M1754.3 573.7h0M1764.8 573.5h0M1814.2 573.3h0M1736.7 572.8h0M1785.8 573.7h0M1769.5 571.5h0M1814.6 571.8h0M1775.3 573.8h0M1798.7 571h0M1780.4 573.8h0M1782 573.9h0M1844.5 574.6h0M1784.2 574.2h0M1828.2 573h0M1774.2 570.5h0M1779.5 572.9h0M1791.3 573.4h0M1831.3 573.2h0M1853.1 571.5h0M1772 573.6h0M1857 572h0M1829 571.5h0M1809.2 572.7h0M1771.9 571.3h0M1830 570.5h0M1805.4 574.1h0M1775.8 571.2h0M1753.6 572.5h0M1782.1 571.7h0M1809.5 572h0M1818.4 573.8h0M1765.4 571.1h0M1790.1 574h0M1785 573.3h0M1810.4 573.2h0M1774.3 573.7h0M1766.4 571.3h0M1775 570.3h0M1794.2 574h0M1799.2 572h0M1790.8 574.3h0M1787.2 573.4h0M1790.1 573.7h0M1783.3 570.6h0M1765.1 570.8h0M1776.7 574.6h0M1813.4 571.8h0M1763.4 574.3h0M1746.1 573.9h0M1716.8 570.8h0M1755.5 574h0M1785.1 574.1h0M1826.8 574h0M1744.8 573.9h0M1748.5 570.4h0M1799.1 573.1h0M1781.8 571.5h0M1714 573.5h0M1844.1 572.8h0M1863 574.5h0M1821.8 571.1h0M1836 571.7h0M1733.1 571h0M1825.5 572.4h0M1807.6 572.9h0M1761 572.6h0M1754.2 573.7h0M1812.4 572.5h0M1724.2 571.6h0M1864.6 574.3h0M1784.5 572.4h0M1828.9 574.4h0M1781.5 572.6h0M1791.5 572.9h0M1769.6 571.1h0M1747.6 573.9h0M1820.8 570.4h0M1786.2 573.9h0M1777.7 572.2h0M1784.9 571.9h0M1794.8 570.9h0M1819.6 571.1h0M1801.2 573.9h0M1803 573.5h0M1758.8 571.2h0M1794.5 574h0M1788 573.1h0M1778.6 573.9h0M1772.9 572h0M1798.8 573.6h0M1773.1 571.6h0M1746.7 573.7h0M1800.9 571.7h0M1803.3 573.4h0M1837.9 574.6h0M1752 573.2h0M1805.3 573.3h0M1811.8 573.8h0M1777.4 573.4h0M1787.3 573h0M1866.1 572.9h0M1759.1 571.6h0M1785.9 573.8h0M1853.1 572.8h0M1751.6 571.3h0M1768.4 572.8h0M1821.5 573.6h0M1809.8 571.1h0M1813.4 572.9h0M1817.8 572.8h0M1780.2 570.8h0M1803.1 571h0M1751.3 572.9h0M1795.6 571.2h0M1831.3 573.6h0M1793.1 572.9h0M1766.2 574.4h0M1732.4 572.8h0M1848.1 574.2h0M1840.9 572.2h0M1829.6 571.2h0M1756.2 572.6h0M1821.7 570.6h0M1789.9 573.3h0M1774.3 571.6h0M1793.3 573.1h0M1809.7 571.3h0M1721.7 570.2h0M1804.7 571.8h0M1823.1 573.5h0M1814.2 572.8h0M1790.9 573.8h0M1770.4 571.5h0M1825.8 574.6h0M1734.9 571.8h0M1794.9 572.6h0M1762.7 573.5h0M1777.1 574.1h0M1822.8 571.4h0M1743.6 572.8h0M1815.2 573.5h0M1804.3 570.2h0M1792.7 574h0M1783.6 570.6h0M1745.8 570.3h0M1789.1 573h0M1835.8 571h0M1799.2 572.3h0M1773.6 570.6h0M1767.1 572.7h0M1834.3 571h0M1779.4 573.9h0M1731.7 573.1h0M1765.5 573.9h0M1778 573.2h0M1800.1 573.7h0M1715.2 571.4h0M1761 572.2h0M1809.3 574.4h0M1753.5 571.3h0M1802.3 571.6h0M1804.5 570.5h0M1770.4 571.4h0M1795.4 574.2h0M1763.6 573h0M1782 572h0M1819 573.3h0M1809.2 571h0M1722.3 573.2h0M1825.1 573.7h0M1751.8 571.3h0M1836.4 570.4h0M1764 571.7h0M1767.8 573.2h0M1776.4 572.3h0M1801.1 573.3h0M1770.9 572.8h0M1791.5 574h0M1775.3 571.1h0M1802.1 573.6h0M1798.6 571h0M1803.2 574.2h0M1818.9 570.2h0M1825.2 574.4h0M1782.1 574.4h0M1784.1 571.1h0M1801.7 573.9h0M1774 572.9h0M1827.9 572.1h0M1785.6 573.9h0M1759.7 574.2h0M1732.2 571.6h0M1732.3 572.1h0M1793 572.9h0M1745.6 572.1h0M1758.5 570.5h0M1771.9 571h0M1801.3 571.3h0M1788.8 574.2h0M1781.2 573.3h0M1802.4 574.5h0M1775.8 571.8h0M1800.9 574.5h0M1784.4 570.3h0M1788.7 573.5h0M1817.9 570.6h0M1779.9 574.6h0M1775.3 573.6h0M1820.5 571.9h0M1763.9 573.6h0M1803 571.5h0M1766.9 574.2h0M1764.5 574h0M1777.4 573.1h0M1808.2 574.5h0M1787.4 573.6h0M1793.7 573.3h0M1756 573.2h0M1846.8 571.3h0M1780.4 572.5h0M1843.5 573.8h0M1827.7 574.1h0M1796.7 571h0M1834.4 573.6h0M1791.8 574.1h0M1824.5 573.5h0M1796 573.4h0M1774.4 571.2h0M1795.6 571.7h0M1792.4 574.4h0M1743.6 571.9h0M1848.5 573.8h0M1787.1 572.9h0M1827.1 572.6h0M1780.7 573.7h0M1723.7 571.4h0M1756.1 572.8h0M1734.9 573.4h0M1814.5 574.5h0M1754.6 572.8h0M1833.1 571.5h0M1788.2 573.5h0M1754.3 571.4h0M1768.8 571.2h0M1788.9 574.4h0M1774.2 571.6h0M1783.9 570.7h0M1817.6 573h0M1811.7 574.2h0M1837.4 571.9h0M1808.6 574.5h0M1797.3 574.1h0M1775.2 572.9h0M1777.8 574.2h0M1755.8 573.9h0M1785.8 573.5h0M1801.5 574.2h0M1802.6 573.5h0M1766.3 572.5h0M1754.6 572.7h0M1847.4 570.9h0M1799.1 572.9h0M1742.1 571h0M1799.2 572.3h0M1763.1 572.5h0M1786.5 572.9h0M1804.2 572.3h0M1764.5 574.3h0M1803 572.7h0M1800.5 574.1h0M1731.8 572h0M1770.7 572.4h0M1809.3 571.7h0M1784.7 570.8h0M1809.3 573h0M1797.6 574.4h0M1777.8 571h0M1790.8 573.9h0M1801.9 572h0M1804.5 574.6h0M1770.3 570.8h0M1740.5 570.5h0M1789.5 574.3h0M1802.6 573.2h0M1765.3 570.6h0M1816.2 570.9h0M1781.7 570.4h0M1767.7 572.3h0M1773.2 573.2h0M1766.6 573.1h0M1823.5 572.3h0M1877.7 571.3h0M1779 573.8h0M1781.1 573.2h0M1763.9 572.3h0M1768.9 573h0M1800.9 572.1h0M1741.1 572.4h0M1741.5 574.1h0M1868.3 570.4h0M1778.5 573.3h0M1746.8 571h0M1762.4 573.1h0M1776.8 570.4h0M1805.9 572.7h0M1798.3 571.9h0M1753 572.2h0M1769.1 572.3h0M1800.1 570.5h0M1799.8 570.7h0M1796.6 570.6h0M1797.5 573.6h0M1788.1 573.9h0M1811.3 573.3h0M1812.1 572.5h0M1788.2 573.7h0M1796.2 572.4h0M1796.2 570.3h0M1827.3 572.2h0M1813.2 572.4h0M1761.7 574.4h0M1787.5 573.2h0M1802.5 571.4h0M1779.8 573.5h0M1794.9 573h0M1779.5 573.2h0M1786.3 574.4h0M1790.1 573.3h0M1814.8 573.7h0M1783.3 572.6h0M1754.9 572.6h0M1774 574.3h0M1789.6 573.3h0M1780.4 573h0M1808.9 571.3h0M1781.5 572.5h0M1766.2 572.9h0M1761 572.4h0M1821.7 573.5h0M1785.1 571.9h0M1781.5 573.1h0M1798.6 573.9h0M1791.4 573.3h0M1749.8 571.8h0M1819 572.2h0M1780.5 574.6h0M1753.5 572.3h0M1780.4 571h0M1837.5 571.1h0M1771.6 573.8h0M1816.1 574.1h0M1800.5 572h0M1753.2 573.4h0M1831.9 573.8h0M1785.6 574.5h0M1807.6 570.4h0M1840.6 572h0M1806.4 573.9h0M1770.7 572.1h0M1796.3 572.7h0M1800.5 570.8h0M1738.7 570.5h0M1775.7 571.4h0M1811.7 570.3h0M1818 571h0M1800.3 572.3h0M1777.1 572.2h0M1803.7 572.1h0M1752.5 572.3h0M1772.3 570.3h0M1772.7 571.9h0M1754.6 574h0M1793.8 571.3h0M1735.2 571.6h0M1798.9 572.2h0M1834.2 571.2h0M1808.9 573.8h0M1832.8 573.9h0M1765.2 572.9h0M1786.1 573h0M1729.5 571.3h0M1755 572.6h0M1818.1 571h0M1785.3 572.9h0M1847.5 570.5h0M1748.9 571.6h0M1777.7 572.3h0M1840.9 572.1h0M1773.6 574.2h0M1734.8 571.8h0M1779.2 571.3h0M1833.2 571.1h0M1839.4 572.9h0M1777.1 573.1h0M1801.6 571.5h0M1812.2 571.5h0M1767 572.5h0M1839.5 572.8h0M1823.1 571.9h0M1788.3 573.2h0M1756.1 574h0M1738.8 572.3h0M1771.3 571.5h0M1838.7 574h0M1736.4 572h0M1830.7 574.3h0M1843.7 573.6h0M1783.5 574.2h0M1756.1 574.1h0M1754.3 574.1h0M1839.5 572.7h0M1739.8 573.7h0M1814.8 574.6h0M1754.2 573h0M1778.1 571.9h0M1804 573.8h0M1767.1 572.5h0M1782.2 571.6h0M1775.5 572.4h0M1830.1 573.5h0M1754.1 572.8h0M1832.1 572.8h0M1805.2 571.9h0M1794.4 572.8h0M1748.4 572.9h0M1818.5 574.1h0M1821.6 574h0M1824.9 573.8h0M1825.5 573.4h0M1756.4 573.6h0M1832.9 573h0M1760.3 572.4h0M1827.2 574.3h0M1761.3 572.4h0M1750 574.3h0M1781.3 572.7h0M1834.1 573.6h0M1752 574.3h0M1736.1 571.4h0M1805.2 572.5h0M1752.4 573.1h0M1750.7 572.6h0M1836.4 574.1h0M1840.1 573.1h0M1827.2 572.5h0M1766.8 574.1h0M1841.8 574.2h0M1806.1 572.1h0M1800.1 572.4h0M1754 574.1h0M1819.1 573.8h0M1748.4 572.9h0M1823.5 573.3h0M1825.6 574.3h0M1765.3 572.4h0M1777.3 574.3h0M1828.7 573.3h0M1833.8 572.5h0M1765.3 574.2h0M1775 573.7h0M1835.8 572.4h0M1846 572h0M1806.9 573.9h0M1838.2 572h0M1841.3 574h0M1754.7 574.7h0M1827.7 572.3h0M1789.2 574.1h0M1782.8 574.5h0M1805.5 574.1h0M1812.1 573.9h0M1838.3 571.6h0M1797 574.2h0M1826 574.8h0M1801.9 572h0M1840.9 572.1h0M1781.6 571.9h0M1832.5 572.9h0M1809.2 573.5h0M1792.6 574.4h0M1842.5 573.3h0M1829.3 574.5h0M1794.3 572.4h0M1739.5 572h0M1780 573.6h0M1802.1 572.8h0M1742.5 573.5h0M1735.6 572.8h0M1747.8 572.4h0M1792.8 574.2h0M1759 571.9h0M1736.1 573.4h0M1843.1 574.3h0M1802.3 574.2h0M1809 573.5h0M1776.3 571.6h0M1817.5 572.3h0M1792.4 574.4h0M1831.9 573.2h0M1808.3 572.3h0M1786.9 574.5h0M1769.4 571.9h0M1750.3 572.1h0M1819.2 572.6h0M1814.9 572.3h0M1821 572.1h0M1813.4 574.2h0M1828.1 571.6h0M1758.2 572.1h0M1806.5 573.4h0M1813.6 572.2h0M1828.3 572.6h0M1806.4 572.5h0M1817.8 573.9h0M1770 572.5h0M1781.9 572.2h0M1733 573.2h0M1807.6 574.1h0M1761.1 574.1h0M1791.2 573.4h0M1763.3 573.1h0M1773.1 574.3h0M1736.2 572.7h0M1756.7 573.2h0M1838.9 571.7h0M1843.1 573.6h0M1817.2 572.2h0M1775.5 573.6h0M1746.2 572.6h0M1840.5 574.5h0M1748.9 574.7h0M1827.7 572.5h0M1749.6 572.1h0M1843.7 571.6h0M1745.4 574.5h0M1822.4 573.5h0M1765.3 572.6h0M1795.5 572.9h0M1821.1 571.5h0M1739.6 574.2h0M1834.8 573.3h0M1809 572.4h0M1794.6 573.7h0M1740.5 573.2h0M1770.9 572.4h0M1826.7 572.8h0M1750.9 573.2h0M1748.7 572.9h0M1794.3 572.9h0M1787.7 574.1h0M1765.5 573.4h0M1816.1 573.1h0M1822.8 572.2h0M1783.7 573.9h0M1813.2 573.5h0M1780 574.3h0M1746.8 572.6h0M1795.7 571.9h0M1801.2 574.5h0M1756.8 573.1h0M1810.4 573h0M1802.1 574.1h0M1742.5 573.8h0M1784.6 573.8h0M1839.6 572.6h0M1836 572.7h0M1833.7 571.7h0M1741.9 574.5h0M1751.5 574.4h0M1806.8 573h0M1796.2 572.2h0M1738 573.5h0" stroke="#000" stroke-width="11" stroke-linecap="round" fill="none"/>
</g>
<rect x="1523.2" y="91.5" width="532.2" height="504.8" fill="none" stroke="#000" stroke-width="3"/>
<circle cx="1538.5" cy="112.7" r="5.2" fill="#15108f"/>
<text x="1549.5" y="121.1" font-size="20.6">Down (1235)</text>
<circle cx="1538.5" cy="144.5" r="5.2" fill="#000"/>
<text x="1549.5" y="152.9" font-size="20.6">Not</text>
<circle cx="1538.5" cy="176.4" r="5.2" fill="#f3261a"/>
<text x="1549.5" y="184.8" font-size="20.6">Up (1040)</text>
<line x1="1516.3" y1="574.6" x2="1521.6" y2="574.6" stroke="#333" stroke-width="1.7"/>
<text x="1511" y="586.1" font-size="29.5" text-anchor="end">0</text>
<line x1="1516.3" y1="399" x2="1521.6" y2="399" stroke="#333" stroke-width="1.7"/>
<text x="1511" y="410.5" font-size="29.5" text-anchor="end">50</text>
<line x1="1516.3" y1="223.4" x2="1521.6" y2="223.4" stroke="#333" stroke-width="1.7"/>
<text x="1511" y="234.9" font-size="29.5" text-anchor="end">100</text>
<line x1="1545.8" y1="597.8" x2="1545.8" y2="602.2" stroke="#333" stroke-width="1.7"/>
<text x="1545.8" y="637.3" font-size="29.5" text-anchor="middle">-6</text>
<line x1="1667.6" y1="597.8" x2="1667.6" y2="602.2" stroke="#333" stroke-width="1.7"/>
<text x="1667.6" y="637.3" font-size="29.5" text-anchor="middle">-3</text>
<line x1="1789.3" y1="597.8" x2="1789.3" y2="602.2" stroke="#333" stroke-width="1.7"/>
<text x="1789.3" y="637.3" font-size="29.5" text-anchor="middle">0</text>
<line x1="1911" y1="597.8" x2="1911" y2="602.2" stroke="#333" stroke-width="1.7"/>
<text x="1911" y="637.3" font-size="29.5" text-anchor="middle">3</text>
<line x1="2032.8" y1="597.8" x2="2032.8" y2="602.2" stroke="#333" stroke-width="1.7"/>
<text x="2032.8" y="637.3" font-size="29.5" text-anchor="middle">6</text>
<text x="1794.4" y="687.2" font-size="29" text-anchor="middle">log2FoldChange</text>
<text font-size="29" text-anchor="middle" transform="translate(1442.8,342) rotate(-90)">-log10(padj)</text>
</g>
<g id="panel_f">
<text x="1208.5" y="821" font-size="29.5" font-weight="bold">f</text>
<text x="1751.3" y="836.9" font-size="29.4" text-anchor="middle">ATF3 vs GFP (Down)</text>
<line x1="1577.7" y1="855.1" x2="1577.7" y2="1959.2" stroke="#f0f0f0" stroke-width="0.9"/>
<line x1="1658.9" y1="855.1" x2="1658.9" y2="1959.2" stroke="#f0f0f0" stroke-width="0.9"/>
<line x1="1740.2" y1="855.1" x2="1740.2" y2="1959.2" stroke="#f0f0f0" stroke-width="0.9"/>
<line x1="1821.5" y1="855.1" x2="1821.5" y2="1959.2" stroke="#f0f0f0" stroke-width="0.9"/>
<line x1="1902.8" y1="855.1" x2="1902.8" y2="1959.2" stroke="#f0f0f0" stroke-width="0.9"/>
<line x1="1618.3" y1="855.1" x2="1618.3" y2="1959.2" stroke="#e9e9e9" stroke-width="1.7"/>
<line x1="1699.6" y1="855.1" x2="1699.6" y2="1959.2" stroke="#e9e9e9" stroke-width="1.7"/>
<line x1="1780.9" y1="855.1" x2="1780.9" y2="1959.2" stroke="#e9e9e9" stroke-width="1.7"/>
<line x1="1862.1" y1="855.1" x2="1862.1" y2="1959.2" stroke="#e9e9e9" stroke-width="1.7"/>
<line x1="1943.4" y1="855.1" x2="1943.4" y2="1959.2" stroke="#e9e9e9" stroke-width="1.7"/>
<line x1="1544.2" y1="869" x2="1958.1" y2="869" stroke="#e9e9e9" stroke-width="1.7"/>
<line x1="1544.2" y1="894.6" x2="1958.1" y2="894.6" stroke="#e9e9e9" stroke-width="1.7"/>
<line x1="1544.2" y1="920.2" x2="1958.1" y2="920.2" stroke="#e9e9e9" stroke-width="1.7"/>
<line x1="1544.2" y1="945.8" x2="1958.1" y2="945.8" stroke="#e9e9e9" stroke-width="1.7"/>
<line x1="1544.2" y1="971.5" x2="1958.1" y2="971.5" stroke="#e9e9e9" stroke-width="1.7"/>
<line x1="1544.2" y1="997.1" x2="1958.1" y2="997.1" stroke="#e9e9e9" stroke-width="1.7"/>
<line x1="1544.2" y1="1022.7" x2="1958.1" y2="1022.7" stroke="#e9e9e9" stroke-width="1.7"/>
<line x1="1544.2" y1="1048.3" x2="1958.1" y2="1048.3" stroke="#e9e9e9" stroke-width="1.7"/>
<line x1="1544.2" y1="1073.9" x2="1958.1" y2="1073.9" stroke="#e9e9e9" stroke-width="1.7"/>
<line x1="1544.2" y1="1099.5" x2="1958.1" y2="1099.5" stroke="#e9e9e9" stroke-width="1.7"/>
<line x1="1544.2" y1="1125.1" x2="1958.1" y2="1125.1" stroke="#e9e9e9" stroke-width="1.7"/>
<line x1="1544.2" y1="1150.8" x2="1958.1" y2="1150.8" stroke="#e9e9e9" stroke-width="1.7"/>
<line x1="1544.2" y1="1176.4" x2="1958.1" y2="1176.4" stroke="#e9e9e9" stroke-width="1.7"/>
<line x1="1544.2" y1="1202" x2="1958.1" y2="1202" stroke="#e9e9e9" stroke-width="1.7"/>
<line x1="1544.2" y1="1227.6" x2="1958.1" y2="1227.6" stroke="#e9e9e9" stroke-width="1.7"/>
<line x1="1544.2" y1="1253.2" x2="1958.1" y2="1253.2" stroke="#e9e9e9" stroke-width="1.7"/>
<line x1="1544.2" y1="1278.8" x2="1958.1" y2="1278.8" stroke="#e9e9e9" stroke-width="1.7"/>
<line x1="1544.2" y1="1304.4" x2="1958.1" y2="1304.4" stroke="#e9e9e9" stroke-width="1.7"/>
<line x1="1544.2" y1="1330.1" x2="1958.1" y2="1330.1" stroke="#e9e9e9" stroke-width="1.7"/>
<line x1="1544.2" y1="1355.7" x2="1958.1" y2="1355.7" stroke="#e9e9e9" stroke-width="1.7"/>
<line x1="1544.2" y1="1381.3" x2="1958.1" y2="1381.3" stroke="#e9e9e9" stroke-width="1.7"/>
<line x1="1544.2" y1="1406.9" x2="1958.1" y2="1406.9" stroke="#e9e9e9" stroke-width="1.7"/>
<line x1="1544.2" y1="1432.5" x2="1958.1" y2="1432.5" stroke="#e9e9e9" stroke-width="1.7"/>
<line x1="1544.2" y1="1458.1" x2="1958.1" y2="1458.1" stroke="#e9e9e9" stroke-width="1.7"/>
<line x1="1544.2" y1="1483.7" x2="1958.1" y2="1483.7" stroke="#e9e9e9" stroke-width="1.7"/>
<line x1="1544.2" y1="1509.3" x2="1958.1" y2="1509.3" stroke="#e9e9e9" stroke-width="1.7"/>
<line x1="1544.2" y1="1535" x2="1958.1" y2="1535" stroke="#e9e9e9" stroke-width="1.7"/>
<line x1="1544.2" y1="1560.6" x2="1958.1" y2="1560.6" stroke="#e9e9e9" stroke-width="1.7"/>
<line x1="1544.2" y1="1586.2" x2="1958.1" y2="1586.2" stroke="#e9e9e9" stroke-width="1.7"/>
<line x1="1544.2" y1="1611.8" x2="1958.1" y2="1611.8" stroke="#e9e9e9" stroke-width="1.7"/>
<line x1="1544.2" y1="1637.4" x2="1958.1" y2="1637.4" stroke="#e9e9e9" stroke-width="1.7"/>
<line x1="1544.2" y1="1663" x2="1958.1" y2="1663" stroke="#e9e9e9" stroke-width="1.7"/>
<line x1="1544.2" y1="1688.6" x2="1958.1" y2="1688.6" stroke="#e9e9e9" stroke-width="1.7"/>
<line x1="1544.2" y1="1714.3" x2="1958.1" y2="1714.3" stroke="#e9e9e9" stroke-width="1.7"/>
<line x1="1544.2" y1="1739.9" x2="1958.1" y2="1739.9" stroke="#e9e9e9" stroke-width="1.7"/>
<line x1="1544.2" y1="1765.5" x2="1958.1" y2="1765.5" stroke="#e9e9e9" stroke-width="1.7"/>
<line x1="1544.2" y1="1791.1" x2="1958.1" y2="1791.1" stroke="#e9e9e9" stroke-width="1.7"/>
<line x1="1544.2" y1="1816.7" x2="1958.1" y2="1816.7" stroke="#e9e9e9" stroke-width="1.7"/>
<line x1="1544.2" y1="1842.3" x2="1958.1" y2="1842.3" stroke="#e9e9e9" stroke-width="1.7"/>
<line x1="1544.2" y1="1867.9" x2="1958.1" y2="1867.9" stroke="#e9e9e9" stroke-width="1.7"/>
<line x1="1544.2" y1="1893.6" x2="1958.1" y2="1893.6" stroke="#e9e9e9" stroke-width="1.7"/>
<line x1="1544.2" y1="1919.2" x2="1958.1" y2="1919.2" stroke="#e9e9e9" stroke-width="1.7"/>
<line x1="1544.2" y1="1944.8" x2="1958.1" y2="1944.8" stroke="#e9e9e9" stroke-width="1.7"/>
<g font-size="20.8" text-anchor="end">
<text x="1529.6" y="876.3">endothelial cell proliferation</text>
<text x="1529.6" y="901.9">epithelial cell proliferation</text>
<text x="1529.6" y="927.5">fibroblast proliferation</text>
<text x="1529.6" y="953.1">hepatocyte proliferation</text>
<text x="1529.6" y="978.8">keratinocyte proliferation</text>
<text x="1529.6" y="1004.4">mesenchymal cell proliferation</text>
<text x="1529.6" y="1030">muscle cell proliferation</text>
<text x="1529.6" y="1055.6">neural precursor cell proliferation</text>
<text x="1529.6" y="1081.2">osteoblast proliferation</text>
<text x="1529.6" y="1106.8">osteoclast proliferation</text>
<text x="1529.6" y="1132.4">stem cell proliferation</text>
<text x="1529.6" y="1158.1">type B pancreatic cell proliferation</text>
<text x="1529.6" y="1183.7">regulation of cell growth</text>
<text x="1529.6" y="1209.3">developmental cell growth</text>
<text x="1529.6" y="1234.9">organ growth</text>
<text x="1529.6" y="1260.5">regulation of developmental growth</text>
<text x="1529.6" y="1286.1">artery development</text>
<text x="1529.6" y="1311.7">axon development</text>
<text x="1529.6" y="1337.4">bone development</text>
<text x="1529.6" y="1363">cartilage development</text>
<text x="1529.6" y="1388.6">cerebellum development</text>
<text x="1529.6" y="1414.2">connective tissue development</text>
<text x="1529.6" y="1439.8">ear development</text>
<text x="1529.6" y="1465.4">endothelium development</text>
<text x="1529.6" y="1491">eye development</text>
<text x="1529.6" y="1516.6">forebrain development</text>
<text x="1529.6" y="1542.3">gland development</text>
<text x="1529.6" y="1567.9">gonad development</text>
<text x="1529.6" y="1593.5">hair follicle development</text>
<text x="1529.6" y="1619.1">hippocampus development</text>
<text x="1529.6" y="1644.7">kidney development</text>
<text x="1529.6" y="1670.3">limb development</text>
<text x="1529.6" y="1695.9">liver development</text>
<text x="1529.6" y="1721.6">lung development</text>
<text x="1529.6" y="1747.2">mesenchyme development</text>
<text x="1529.6" y="1772.8">muscle tissue development</text>
<text x="1529.6" y="1798.4">pancreas development</text>
<text x="1529.6" y="1824">placenta development</text>
<text x="1529.6" y="1849.6">skin epidermis development</text>
<text x="1529.6" y="1875.2">spinal cord development</text>
<text x="1529.6" y="1900.9">spleen development</text>
<text x="1529.6" y="1926.5">stem cell development</text>
<text x="1529.6" y="1952.1">thymus development</text>
</g>
<line x1="1538.2" y1="869" x2="1543" y2="869" stroke="#333" stroke-width="1.7"/>
<circle cx="1701.4" cy="869" r="10.9" fill="#961711"/>
<line x1="1538.2" y1="894.6" x2="1543" y2="894.6" stroke="#333" stroke-width="1.7"/>
<circle cx="1915.2" cy="894.6" r="14.6" fill="#8d1410"/>
<line x1="1538.2" y1="920.2" x2="1543" y2="920.2" stroke="#333" stroke-width="1.7"/>
<circle cx="1676.8" cy="920.2" r="10.5" fill="#8d1410"/>
<line x1="1538.2" y1="945.8" x2="1543" y2="945.8" stroke="#333" stroke-width="1.7"/>
<circle cx="1569.9" cy="945.8" r="6.4" fill="#d3281c"/>
<line x1="1538.2" y1="971.5" x2="1543" y2="971.5" stroke="#333" stroke-width="1.7"/>
<circle cx="1602.7" cy="971.5" r="8.2" fill="#9d1812"/>
<line x1="1538.2" y1="997.1" x2="1543" y2="997.1" stroke="#333" stroke-width="1.7"/>
<circle cx="1586.3" cy="997.1" r="7.7" fill="#cf271c"/>
<line x1="1538.2" y1="1022.7" x2="1543" y2="1022.7" stroke="#333" stroke-width="1.7"/>
<circle cx="1841.1" cy="1022.7" r="13.6" fill="#8d1410"/>
<line x1="1538.2" y1="1048.3" x2="1543" y2="1048.3" stroke="#333" stroke-width="1.7"/>
<circle cx="1651.8" cy="1048.3" r="10" fill="#d4271b"/>
<line x1="1538.2" y1="1073.9" x2="1543" y2="1073.9" stroke="#333" stroke-width="1.7"/>
<circle cx="1594.5" cy="1073.9" r="7.7" fill="#8d1410"/>
<line x1="1538.2" y1="1099.5" x2="1543" y2="1099.5" stroke="#333" stroke-width="1.7"/>
<circle cx="1561.7" cy="1099.5" r="4.5" fill="#a51b14"/>
<line x1="1538.2" y1="1125.1" x2="1543" y2="1125.1" stroke="#333" stroke-width="1.7"/>
<circle cx="1660" cy="1125.1" r="10" fill="#931511"/>
<line x1="1538.2" y1="1150.8" x2="1543" y2="1150.8" stroke="#333" stroke-width="1.7"/>
<circle cx="1569.9" cy="1150.8" r="6.4" fill="#f4261a"/>
<line x1="1538.2" y1="1176.4" x2="1543" y2="1176.4" stroke="#333" stroke-width="1.7"/>
<circle cx="1832.9" cy="1176.4" r="13.6" fill="#8d1410"/>
<line x1="1538.2" y1="1202" x2="1543" y2="1202" stroke="#333" stroke-width="1.7"/>
<circle cx="1693.2" cy="1202" r="10.9" fill="#e5271b"/>
<line x1="1538.2" y1="1227.6" x2="1543" y2="1227.6" stroke="#333" stroke-width="1.7"/>
<circle cx="1742.3" cy="1227.6" r="12.3" fill="#8d1410"/>
<line x1="1538.2" y1="1253.2" x2="1543" y2="1253.2" stroke="#333" stroke-width="1.7"/>
<circle cx="1816.5" cy="1253.2" r="13.2" fill="#8d1410"/>
<line x1="1538.2" y1="1278.8" x2="1543" y2="1278.8" stroke="#333" stroke-width="1.7"/>
<circle cx="1660" cy="1278.8" r="10" fill="#931511"/>
<line x1="1538.2" y1="1304.4" x2="1543" y2="1304.4" stroke="#333" stroke-width="1.7"/>
<circle cx="1939.8" cy="1304.4" r="15" fill="#8d1410"/>
<line x1="1538.2" y1="1330.1" x2="1543" y2="1330.1" stroke="#333" stroke-width="1.7"/>
<circle cx="1742.3" cy="1330.1" r="12.3" fill="#8d1410"/>
<line x1="1538.2" y1="1355.7" x2="1543" y2="1355.7" stroke="#333" stroke-width="1.7"/>
<circle cx="1800.1" cy="1355.7" r="12.7" fill="#8d1410"/>
<line x1="1538.2" y1="1381.3" x2="1543" y2="1381.3" stroke="#333" stroke-width="1.7"/>
<circle cx="1651.8" cy="1381.3" r="10" fill="#951611"/>
<line x1="1538.2" y1="1406.9" x2="1543" y2="1406.9" stroke="#333" stroke-width="1.7"/>
<circle cx="1857.9" cy="1406.9" r="14.1" fill="#8d1410"/>
<line x1="1538.2" y1="1432.5" x2="1543" y2="1432.5" stroke="#333" stroke-width="1.7"/>
<circle cx="1808.3" cy="1432.5" r="13.2" fill="#971711"/>
<line x1="1538.2" y1="1458.1" x2="1543" y2="1458.1" stroke="#333" stroke-width="1.7"/>
<circle cx="1660" cy="1458.1" r="10" fill="#a51b13"/>
<line x1="1538.2" y1="1483.7" x2="1543" y2="1483.7" stroke="#333" stroke-width="1.7"/>
<circle cx="1866.1" cy="1483.7" r="14.1" fill="#951611"/>
<line x1="1538.2" y1="1509.3" x2="1543" y2="1509.3" stroke="#333" stroke-width="1.7"/>
<circle cx="1791.9" cy="1509.3" r="12.7" fill="#c3241a"/>
<line x1="1538.2" y1="1535" x2="1543" y2="1535" stroke="#333" stroke-width="1.7"/>
<circle cx="1907" cy="1535" r="14.6" fill="#8d1410"/>
<line x1="1538.2" y1="1560.6" x2="1543" y2="1560.6" stroke="#333" stroke-width="1.7"/>
<circle cx="1742.3" cy="1560.6" r="12.3" fill="#971711"/>
<line x1="1538.2" y1="1586.2" x2="1543" y2="1586.2" stroke="#333" stroke-width="1.7"/>
<circle cx="1643.6" cy="1586.2" r="9.6" fill="#981711"/>
<line x1="1538.2" y1="1611.8" x2="1543" y2="1611.8" stroke="#333" stroke-width="1.7"/>
<circle cx="1610.9" cy="1611.8" r="8.2" fill="#e2271b"/>
<line x1="1538.2" y1="1637.4" x2="1543" y2="1637.4" stroke="#333" stroke-width="1.7"/>
<circle cx="1923.4" cy="1637.4" r="15" fill="#8d1410"/>
<line x1="1538.2" y1="1663" x2="1543" y2="1663" stroke="#333" stroke-width="1.7"/>
<circle cx="1717.8" cy="1663" r="11.4" fill="#8f1410"/>
<line x1="1538.2" y1="1688.6" x2="1543" y2="1688.6" stroke="#333" stroke-width="1.7"/>
<circle cx="1660" cy="1688.6" r="10" fill="#a51b13"/>
<line x1="1538.2" y1="1714.3" x2="1543" y2="1714.3" stroke="#333" stroke-width="1.7"/>
<circle cx="1816.5" cy="1714.3" r="13.2" fill="#941611"/>
<line x1="1538.2" y1="1739.9" x2="1543" y2="1739.9" stroke="#333" stroke-width="1.7"/>
<circle cx="1857.9" cy="1739.9" r="14.1" fill="#901510"/>
<line x1="1538.2" y1="1765.5" x2="1543" y2="1765.5" stroke="#333" stroke-width="1.7"/>
<circle cx="1907" cy="1765.5" r="14.6" fill="#8d1410"/>
<line x1="1538.2" y1="1791.1" x2="1543" y2="1791.1" stroke="#333" stroke-width="1.7"/>
<circle cx="1627.2" cy="1791.1" r="9.1" fill="#a51b13"/>
<line x1="1538.2" y1="1816.7" x2="1543" y2="1816.7" stroke="#333" stroke-width="1.7"/>
<circle cx="1668.6" cy="1816.7" r="10.5" fill="#a51b13"/>
<line x1="1538.2" y1="1842.3" x2="1543" y2="1842.3" stroke="#333" stroke-width="1.7"/>
<circle cx="1651.8" cy="1842.3" r="10" fill="#991812"/>
<line x1="1538.2" y1="1867.9" x2="1543" y2="1867.9" stroke="#333" stroke-width="1.7"/>
<circle cx="1660" cy="1867.9" r="10" fill="#a51b13"/>
<line x1="1538.2" y1="1893.6" x2="1543" y2="1893.6" stroke="#333" stroke-width="1.7"/>
<circle cx="1594.5" cy="1893.6" r="7.7" fill="#a51b13"/>
<line x1="1538.2" y1="1919.2" x2="1543" y2="1919.2" stroke="#333" stroke-width="1.7"/>
<circle cx="1643.6" cy="1919.2" r="9.6" fill="#a51b13"/>
<line x1="1538.2" y1="1944.8" x2="1543" y2="1944.8" stroke="#333" stroke-width="1.7"/>
<circle cx="1610.9" cy="1944.8" r="8.2" fill="#a51b13"/>
<rect x="1544.2" y="855.1" width="413.9" height="1104.1" fill="none" stroke="#000" stroke-width="2.5"/>
<line x1="1618.3" y1="1960.4" x2="1618.3" y2="1965.8" stroke="#333" stroke-width="1.7"/>
<text x="1618.8" y="1999.6" font-size="29.5" text-anchor="middle">0.01</text>
<line x1="1699.6" y1="1960.4" x2="1699.6" y2="1965.8" stroke="#333" stroke-width="1.7"/>
<text x="1700.1" y="1999.6" font-size="29.5" text-anchor="middle">0.02</text>
<line x1="1780.9" y1="1960.4" x2="1780.9" y2="1965.8" stroke="#333" stroke-width="1.7"/>
<text x="1781.4" y="1999.6" font-size="29.5" text-anchor="middle">0.03</text>
<line x1="1862.1" y1="1960.4" x2="1862.1" y2="1965.8" stroke="#333" stroke-width="1.7"/>
<text x="1862.6" y="1999.6" font-size="29.5" text-anchor="middle">0.04</text>
<line x1="1943.4" y1="1960.4" x2="1943.4" y2="1965.8" stroke="#333" stroke-width="1.7"/>
<text x="1943.9" y="1999.6" font-size="29.5" text-anchor="middle">0.05</text>
<text x="1781.7" y="2040.7" font-size="29" text-anchor="middle">GeneRatio</text>
<text x="1984.2" y="1624.5" font-size="20.4">pvalue</text>
<defs><linearGradient id="pg" x1="0" y1="0" x2="0" y2="1"><stop offset="0" stop-color="#ff2313"/><stop offset="1" stop-color="#8a1410"/></linearGradient></defs>
<rect x="1984.2" y="1635.5" width="27.8" height="139.9" fill="url(#pg)"/>
<line x1="1984.2" y1="1663.7" x2="1989.8" y2="1663.7" stroke="#fff" stroke-width="1" opacity="0.4"/>
<line x1="2006.4" y1="1663.7" x2="2012" y2="1663.7" stroke="#fff" stroke-width="1" opacity="0.4"/>
<text x="2019" y="1672.3" font-size="20.4">0.04</text>
<line x1="1984.2" y1="1691.7" x2="1989.8" y2="1691.7" stroke="#fff" stroke-width="1" opacity="0.4"/>
<line x1="2006.4" y1="1691.7" x2="2012" y2="1691.7" stroke="#fff" stroke-width="1" opacity="0.4"/>
<text x="2019" y="1700.3" font-size="20.4">0.03</text>
<line x1="1984.2" y1="1719.5" x2="1989.8" y2="1719.5" stroke="#fff" stroke-width="1" opacity="0.4"/>
<line x1="2006.4" y1="1719.5" x2="2012" y2="1719.5" stroke="#fff" stroke-width="1" opacity="0.4"/>
<text x="2019" y="1728.1" font-size="20.4">0.02</text>
<line x1="1984.2" y1="1747" x2="1989.8" y2="1747" stroke="#fff" stroke-width="1" opacity="0.4"/>
<line x1="2006.4" y1="1747" x2="2012" y2="1747" stroke="#fff" stroke-width="1" opacity="0.4"/>
<text x="2019" y="1755.6" font-size="20.4">0.01</text>
<text x="1984.2" y="1826" font-size="20.4">Count</text>
<circle cx="2001.6" cy="1848.9" r="8.8" fill="#000"/>
<text x="2026" y="1856.5" font-size="20.4">10</text>
<circle cx="2001.6" cy="1877.5" r="10.9" fill="#000"/>
<text x="2026" y="1885.1" font-size="20.4">20</text>
<circle cx="2001.6" cy="1905.7" r="12.5" fill="#000"/>
<text x="2026" y="1913.3" font-size="20.4">30</text>
<circle cx="2001.6" cy="1937.7" r="14.2" fill="#000"/>
<text x="2026" y="1945.3" font-size="20.4">40</text>
</g>
</svg>
</body></html>
